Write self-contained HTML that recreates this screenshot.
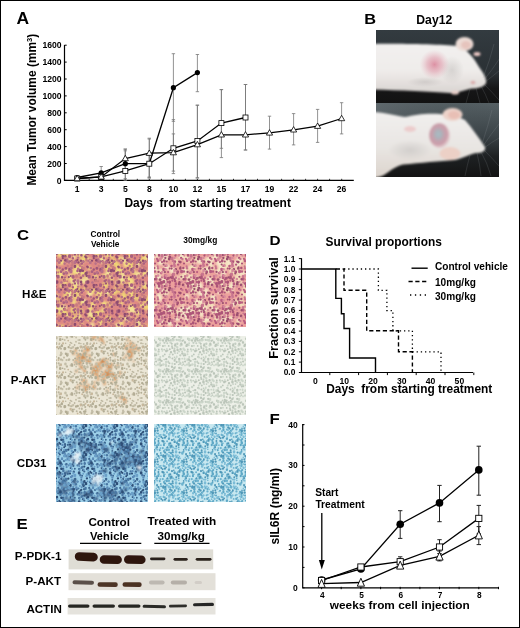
<!DOCTYPE html>
<html><head><meta charset="utf-8"><style>
html,body{margin:0;padding:0;background:#fff;}
svg{display:block;font-family:"Liberation Sans", sans-serif;will-change:transform;}
</style></head><body>
<svg width="520" height="628" viewBox="0 0 520 628">
<defs><clipPath id="cp1"><rect x="376" y="30" width="123" height="73"/></clipPath><clipPath id="cp2"><rect x="376" y="103" width="123" height="74"/></clipPath><linearGradient id="bg1" x1="0" y1="0" x2="0" y2="1"><stop offset="0" stop-color="#333b40"/><stop offset="0.6" stop-color="#2a3034"/><stop offset="0.8" stop-color="#161617"/><stop offset="1" stop-color="#121212"/></linearGradient><linearGradient id="bg2" x1="0" y1="0" x2="0" y2="1"><stop offset="0" stop-color="#566064"/><stop offset="0.45" stop-color="#3a4246"/><stop offset="0.72" stop-color="#1e2123"/><stop offset="1" stop-color="#131313"/></linearGradient><linearGradient id="body1" x1="0" y1="0" x2="0" y2="1"><stop offset="0" stop-color="#f2f0ef"/><stop offset="0.55" stop-color="#efecea"/><stop offset="1" stop-color="#d9d4d1"/></linearGradient><linearGradient id="body2" x1="0" y1="0" x2="0" y2="1"><stop offset="0" stop-color="#f1efee"/><stop offset="0.55" stop-color="#e8e5e2"/><stop offset="1" stop-color="#dcd4cc"/></linearGradient><linearGradient id="bg2h" x1="0" y1="0" x2="1" y2="0"><stop offset="0" stop-color="#6a7378" stop-opacity="0.5"/><stop offset="1" stop-color="#3a4448" stop-opacity="0"/></linearGradient><radialGradient id="pink1"><stop offset="0" stop-color="#d87a92" stop-opacity="0.8"/><stop offset="0.5" stop-color="#de92a4" stop-opacity="0.5"/><stop offset="1" stop-color="#e6b4c0" stop-opacity="0"/></radialGradient><radialGradient id="tum" cx="0.45" cy="0.45"><stop offset="0" stop-color="#aabcc4"/><stop offset="0.3" stop-color="#acb2ba"/><stop offset="0.55" stop-color="#c4a2ae"/><stop offset="0.85" stop-color="#cc9eaa"/><stop offset="1" stop-color="#e0c6ca"/></radialGradient><radialGradient id="shade"><stop offset="0" stop-color="#b8b4b2" stop-opacity="0.45"/><stop offset="1" stop-color="#b8b4b2" stop-opacity="0"/></radialGradient><filter id="bl2" x="-10%" y="-10%" width="120%" height="120%"><feGaussianBlur stdDeviation="1.1"/></filter><clipPath id="cc1"><rect x="56" y="254" width="92" height="73"/></clipPath><clipPath id="cc2"><rect x="154" y="254" width="92" height="73"/></clipPath><clipPath id="cc3"><rect x="56" y="336" width="92" height="79"/></clipPath><clipPath id="cc4"><rect x="154" y="336" width="92" height="79"/></clipPath><clipPath id="cc5"><rect x="56" y="424" width="92" height="78"/></clipPath><clipPath id="cc6"><rect x="154" y="424" width="92" height="78"/></clipPath><filter id="bl04" x="-5%" y="-5%" width="110%" height="110%"><feGaussianBlur stdDeviation="0.45"/></filter><filter id="bl06" x="-5%" y="-5%" width="110%" height="110%"><feGaussianBlur stdDeviation="0.8"/></filter><filter id="bl1" x="-20%" y="-50%" width="140%" height="200%"><feGaussianBlur stdDeviation="0.7"/></filter><filter id="he1" x="0" y="0" width="100%" height="100%" color-interpolation-filters="sRGB"><feFlood flood-color="rgb(228, 166, 152)" result="base"/><feTurbulence type="fractalNoise" baseFrequency="0.34" numOctaves="2" seed="3" result="n"/><feColorMatrix in="n" type="matrix" values="0 0 0 0 0.690 0 0 0 0 0.424 0 0 0 0 0.529 4.0 0 0 0 -1.85" result="nuc"/><feTurbulence type="fractalNoise" baseFrequency="0.11" numOctaves="2" seed="7" result="pn"/><feColorMatrix in="pn" type="matrix" values="0 0 0 0 0.953 0 0 0 0 0.886 0 0 0 0 0.627 5 0 0 0 -2.45" result="pat"/><feComposite in="pat" in2="base" operator="over" result="base2"/><feComposite in="nuc" in2="base2" operator="over"/></filter><filter id="he2" x="0" y="0" width="100%" height="100%" color-interpolation-filters="sRGB"><feFlood flood-color="rgb(241, 200, 192)" result="base"/><feTurbulence type="fractalNoise" baseFrequency="0.34" numOctaves="2" seed="5" result="n"/><feColorMatrix in="n" type="matrix" values="0 0 0 0 0.776 0 0 0 0 0.424 0 0 0 0 0.518 4.0 0 0 0 -1.8" result="nuc"/><feTurbulence type="fractalNoise" baseFrequency="0.1" numOctaves="2" seed="9" result="pn"/><feColorMatrix in="pn" type="matrix" values="0 0 0 0 0.969 0 0 0 0 0.918 0 0 0 0 0.816 5 0 0 0 -2.5" result="pat"/><feComposite in="pat" in2="base" operator="over" result="base2"/><feComposite in="nuc" in2="base2" operator="over"/></filter><filter id="ak1" x="0" y="0" width="100%" height="100%" color-interpolation-filters="sRGB"><feFlood flood-color="rgb(237, 234, 220)" result="base"/><feTurbulence type="fractalNoise" baseFrequency="0.34" numOctaves="2" seed="11" result="n"/><feColorMatrix in="n" type="matrix" values="0 0 0 0 0.745 0 0 0 0 0.737 0 0 0 0 0.659 4.0 0 0 0 -1.85" result="nuc"/><feTurbulence type="fractalNoise" baseFrequency="0.07" numOctaves="2" seed="13" result="pn"/><feColorMatrix in="pn" type="matrix" values="0 0 0 0 0.839 0 0 0 0 0.659 0 0 0 0 0.471 6 0 0 0 -3.3" result="pat"/><feComposite in="pat" in2="base" operator="over" result="base2"/><feComposite in="nuc" in2="base2" operator="over"/></filter><filter id="ak2" x="0" y="0" width="100%" height="100%" color-interpolation-filters="sRGB"><feFlood flood-color="rgb(237, 241, 233)" result="base"/><feTurbulence type="fractalNoise" baseFrequency="0.34" numOctaves="2" seed="15" result="n"/><feColorMatrix in="n" type="matrix" values="0 0 0 0 0.769 0 0 0 0 0.804 0 0 0 0 0.765 4.0 0 0 0 -1.85" result="nuc"/><feComposite in="nuc" in2="base" operator="over"/></filter><filter id="cd1" x="0" y="0" width="100%" height="100%" color-interpolation-filters="sRGB"><feFlood flood-color="rgb(192, 226, 241)" result="base"/><feTurbulence type="fractalNoise" baseFrequency="0.34" numOctaves="2" seed="17" result="n"/><feColorMatrix in="n" type="matrix" values="0 0 0 0 0.282 0 0 0 0 0.431 0 0 0 0 0.580 4.0 0 0 0 -1.75" result="nuc"/><feTurbulence type="fractalNoise" baseFrequency="0.1" numOctaves="2" seed="19" result="pn"/><feColorMatrix in="pn" type="matrix" values="0 0 0 0 0.941 0 0 0 0 0.965 0 0 0 0 0.980 5 0 0 0 -3.0" result="pat"/><feComposite in="pat" in2="base" operator="over" result="base2"/><feComposite in="nuc" in2="base2" operator="over"/></filter><filter id="cd2" x="0" y="0" width="100%" height="100%" color-interpolation-filters="sRGB"><feFlood flood-color="rgb(208, 236, 243)" result="base"/><feTurbulence type="fractalNoise" baseFrequency="0.34" numOctaves="2" seed="21" result="n"/><feColorMatrix in="n" type="matrix" values="0 0 0 0 0.502 0 0 0 0 0.714 0 0 0 0 0.800 4.0 0 0 0 -1.85" result="nuc"/><feComposite in="nuc" in2="base" operator="over"/></filter><pattern id="phe1" width="31" height="29" patternUnits="userSpaceOnUse"><path fill="#9c5478" d="M24.6 6.2a1.2 1.2 0 1 0 2.4 0a1.2 1.2 0 1 0 -2.4 0M-0.5 8.6a1.2 1.2 0 1 0 2.5 0a1.2 1.2 0 1 0 -2.5 0M30.5 8.6a1.2 1.2 0 1 0 2.5 0a1.2 1.2 0 1 0 -2.5 0M2.4 7.2a1.5 1.5 0 1 0 3.0 0a1.5 1.5 0 1 0 -3.0 0M6.3 8.7a1.5 1.5 0 1 0 2.9 0a1.5 1.5 0 1 0 -2.9 0M18.9 8.1a1.1 1.1 0 1 0 2.2 0a1.1 1.1 0 1 0 -2.2 0M22.4 12.7a1.2 1.2 0 1 0 2.3 0a1.2 1.2 0 1 0 -2.3 0M7.7 15.1a1.0 1.0 0 1 0 2.0 0a1.0 1.0 0 1 0 -2.0 0M17.6 16.8a1.3 1.3 0 1 0 2.6 0a1.3 1.3 0 1 0 -2.6 0M0.8 19.1a1.5 1.5 0 1 0 3.0 0a1.5 1.5 0 1 0 -3.0 0M11.7 22.4a1.2 1.2 0 1 0 2.4 0a1.2 1.2 0 1 0 -2.4 0M18.1 23.2a1.3 1.3 0 1 0 2.6 0a1.3 1.3 0 1 0 -2.6 0M6.3 0.2a1.0 1.0 0 1 0 2.1 0a1.0 1.0 0 1 0 -2.1 0M6.3 29.2a1.0 1.0 0 1 0 2.1 0a1.0 1.0 0 1 0 -2.1 0M8.3 0.2a1.2 1.2 0 1 0 2.4 0a1.2 1.2 0 1 0 -2.4 0M8.3 29.2a1.2 1.2 0 1 0 2.4 0a1.2 1.2 0 1 0 -2.4 0M20.1 0.5a1.2 1.2 0 1 0 2.4 0a1.2 1.2 0 1 0 -2.4 0M20.1 29.5a1.2 1.2 0 1 0 2.4 0a1.2 1.2 0 1 0 -2.4 0"/><path fill="#aa6080" d="M3.9 0.2a1.3 1.3 0 1 0 2.5 0a1.3 1.3 0 1 0 -2.5 0M3.9 29.2a1.3 1.3 0 1 0 2.5 0a1.3 1.3 0 1 0 -2.5 0M18.3 2.6a1.4 1.4 0 1 0 2.8 0a1.4 1.4 0 1 0 -2.8 0M14.2 9.9a1.3 1.3 0 1 0 2.6 0a1.3 1.3 0 1 0 -2.6 0M-2.4 10.7a1.4 1.4 0 1 0 2.8 0a1.4 1.4 0 1 0 -2.8 0M28.6 10.7a1.4 1.4 0 1 0 2.8 0a1.4 1.4 0 1 0 -2.8 0M0.4 12.7a1.3 1.3 0 1 0 2.7 0a1.3 1.3 0 1 0 -2.7 0M3.2 12.2a1.4 1.4 0 1 0 2.8 0a1.4 1.4 0 1 0 -2.8 0M2.0 16.6a1.0 1.0 0 1 0 2.0 0a1.0 1.0 0 1 0 -2.0 0M9.6 15.8a1.5 1.5 0 1 0 2.9 0a1.5 1.5 0 1 0 -2.9 0M25.7 15.7a1.5 1.5 0 1 0 2.9 0a1.5 1.5 0 1 0 -2.9 0M12.0 19.0a1.1 1.1 0 1 0 2.2 0a1.1 1.1 0 1 0 -2.2 0M10.4 20.1a1.5 1.5 0 1 0 3.0 0a1.5 1.5 0 1 0 -3.0 0M23.3 21.4a1.5 1.5 0 1 0 2.9 0a1.5 1.5 0 1 0 -2.9 0M6.1 24.1a1.5 1.5 0 1 0 2.9 0a1.5 1.5 0 1 0 -2.9 0M9.7 26.2a1.2 1.2 0 1 0 2.4 0a1.2 1.2 0 1 0 -2.4 0M12.7 0.4a1.3 1.3 0 1 0 2.5 0a1.3 1.3 0 1 0 -2.5 0M12.7 29.4a1.3 1.3 0 1 0 2.5 0a1.3 1.3 0 1 0 -2.5 0"/><path fill="#b87088" d="M19.8 0.6a1.4 1.4 0 1 0 2.8 0a1.4 1.4 0 1 0 -2.8 0M19.8 29.6a1.4 1.4 0 1 0 2.8 0a1.4 1.4 0 1 0 -2.8 0M25.0 -0.2a1.2 1.2 0 1 0 2.4 0a1.2 1.2 0 1 0 -2.4 0M25.0 28.8a1.2 1.2 0 1 0 2.4 0a1.2 1.2 0 1 0 -2.4 0M1.3 2.6a1.3 1.3 0 1 0 2.6 0a1.3 1.3 0 1 0 -2.6 0M5.8 1.5a1.2 1.2 0 1 0 2.4 0a1.2 1.2 0 1 0 -2.4 0M11.5 1.6a1.3 1.3 0 1 0 2.5 0a1.3 1.3 0 1 0 -2.5 0M26.8 1.5a1.5 1.5 0 1 0 3.0 0a1.5 1.5 0 1 0 -3.0 0M26.8 30.5a1.5 1.5 0 1 0 3.0 0a1.5 1.5 0 1 0 -3.0 0M7.9 7.1a1.4 1.4 0 1 0 2.9 0a1.4 1.4 0 1 0 -2.9 0M14.8 7.9a1.4 1.4 0 1 0 2.8 0a1.4 1.4 0 1 0 -2.8 0M27.4 7.0a1.3 1.3 0 1 0 2.7 0a1.3 1.3 0 1 0 -2.7 0M2.7 11.4a1.3 1.3 0 1 0 2.7 0a1.3 1.3 0 1 0 -2.7 0M7.5 10.3a1.5 1.5 0 1 0 2.9 0a1.5 1.5 0 1 0 -2.9 0M24.0 11.0a1.1 1.1 0 1 0 2.2 0a1.1 1.1 0 1 0 -2.2 0M19.8 14.7a1.4 1.4 0 1 0 2.8 0a1.4 1.4 0 1 0 -2.8 0M14.5 20.1a1.5 1.5 0 1 0 2.9 0a1.5 1.5 0 1 0 -2.9 0M-1.9 21.5a1.3 1.3 0 1 0 2.6 0a1.3 1.3 0 1 0 -2.6 0M29.1 21.5a1.3 1.3 0 1 0 2.6 0a1.3 1.3 0 1 0 -2.6 0M15.0 22.5a1.2 1.2 0 1 0 2.4 0a1.2 1.2 0 1 0 -2.4 0M15.0 25.7a1.1 1.1 0 1 0 2.3 0a1.1 1.1 0 1 0 -2.3 0M3.9 -1.0a1.3 1.3 0 1 0 2.5 0a1.3 1.3 0 1 0 -2.5 0M3.9 28.0a1.3 1.3 0 1 0 2.5 0a1.3 1.3 0 1 0 -2.5 0"/><path fill="#8e4c70" d="M-2.2 -0.4a1.1 1.1 0 1 0 2.3 0a1.1 1.1 0 1 0 -2.3 0M-2.2 28.6a1.1 1.1 0 1 0 2.3 0a1.1 1.1 0 1 0 -2.3 0M28.8 -0.4a1.1 1.1 0 1 0 2.3 0a1.1 1.1 0 1 0 -2.3 0M28.8 28.6a1.1 1.1 0 1 0 2.3 0a1.1 1.1 0 1 0 -2.3 0M2.0 -0.6a1.3 1.3 0 1 0 2.6 0a1.3 1.3 0 1 0 -2.6 0M2.0 28.4a1.3 1.3 0 1 0 2.6 0a1.3 1.3 0 1 0 -2.6 0M14.4 27.9a1.0 1.0 0 1 0 2.1 0a1.0 1.0 0 1 0 -2.1 0M15.2 1.4a1.2 1.2 0 1 0 2.5 0a1.2 1.2 0 1 0 -2.5 0M11.7 5.3a1.3 1.3 0 1 0 2.5 0a1.3 1.3 0 1 0 -2.5 0M24.1 5.6a1.1 1.1 0 1 0 2.2 0a1.1 1.1 0 1 0 -2.2 0M16.9 9.8a1.4 1.4 0 1 0 2.7 0a1.4 1.4 0 1 0 -2.7 0M19.7 9.4a1.2 1.2 0 1 0 2.3 0a1.2 1.2 0 1 0 -2.3 0M23.0 12.2a1.4 1.4 0 1 0 2.8 0a1.4 1.4 0 1 0 -2.8 0M5.8 16.1a1.0 1.0 0 1 0 2.1 0a1.0 1.0 0 1 0 -2.1 0M23.4 14.7a1.2 1.2 0 1 0 2.5 0a1.2 1.2 0 1 0 -2.5 0M-1.2 16.3a1.3 1.3 0 1 0 2.6 0a1.3 1.3 0 1 0 -2.6 0M29.8 16.3a1.3 1.3 0 1 0 2.6 0a1.3 1.3 0 1 0 -2.6 0M17.7 20.9a1.3 1.3 0 1 0 2.7 0a1.3 1.3 0 1 0 -2.7 0M24.8 21.0a1.3 1.3 0 1 0 2.5 0a1.3 1.3 0 1 0 -2.5 0M-0.5 24.2a1.5 1.5 0 1 0 3.0 0a1.5 1.5 0 1 0 -3.0 0M30.5 24.2a1.5 1.5 0 1 0 3.0 0a1.5 1.5 0 1 0 -3.0 0M2.2 24.2a1.2 1.2 0 1 0 2.4 0a1.2 1.2 0 1 0 -2.4 0M22.1 24.5a1.2 1.2 0 1 0 2.5 0a1.2 1.2 0 1 0 -2.5 0M-0.3 26.1a1.2 1.2 0 1 0 2.4 0a1.2 1.2 0 1 0 -2.4 0M30.7 26.1a1.2 1.2 0 1 0 2.4 0a1.2 1.2 0 1 0 -2.4 0M22.9 25.5a1.3 1.3 0 1 0 2.7 0a1.3 1.3 0 1 0 -2.7 0M17.7 -0.2a1.2 1.2 0 1 0 2.5 0a1.2 1.2 0 1 0 -2.5 0M17.7 28.8a1.2 1.2 0 1 0 2.5 0a1.2 1.2 0 1 0 -2.5 0"/><path fill="#c87c80" d="M8.9 1.0a1.1 1.1 0 1 0 2.1 0a1.1 1.1 0 1 0 -2.1 0M8.9 30.0a1.1 1.1 0 1 0 2.1 0a1.1 1.1 0 1 0 -2.1 0M9.5 2.7a1.2 1.2 0 1 0 2.4 0a1.2 1.2 0 1 0 -2.4 0M4.7 5.1a1.1 1.1 0 1 0 2.1 0a1.1 1.1 0 1 0 -2.1 0M8.6 4.6a1.3 1.3 0 1 0 2.6 0a1.3 1.3 0 1 0 -2.6 0M16.8 4.4a1.3 1.3 0 1 0 2.5 0a1.3 1.3 0 1 0 -2.5 0M19.0 6.1a1.1 1.1 0 1 0 2.1 0a1.1 1.1 0 1 0 -2.1 0M20.2 7.4a1.3 1.3 0 1 0 2.5 0a1.3 1.3 0 1 0 -2.5 0M26.1 11.4a1.1 1.1 0 1 0 2.2 0a1.1 1.1 0 1 0 -2.2 0M15.8 13.3a1.4 1.4 0 1 0 2.9 0a1.4 1.4 0 1 0 -2.9 0M13.3 15.0a1.3 1.3 0 1 0 2.5 0a1.3 1.3 0 1 0 -2.5 0M1.3 19.8a1.4 1.4 0 1 0 2.9 0a1.4 1.4 0 1 0 -2.9 0M4.1 20.3a1.0 1.0 0 1 0 2.0 0a1.0 1.0 0 1 0 -2.0 0M9.3 23.6a1.1 1.1 0 1 0 2.2 0a1.1 1.1 0 1 0 -2.2 0M1.6 25.7a1.3 1.3 0 1 0 2.6 0a1.3 1.3 0 1 0 -2.6 0M23.3 -0.9a1.1 1.1 0 1 0 2.1 0a1.1 1.1 0 1 0 -2.1 0M23.3 28.1a1.1 1.1 0 1 0 2.1 0a1.1 1.1 0 1 0 -2.1 0M26.8 27.6a1.1 1.1 0 1 0 2.2 0a1.1 1.1 0 1 0 -2.2 0"/></pattern><pattern id="phe2" width="29" height="31" patternUnits="userSpaceOnUse"><path fill="#b85c80" d="M9.8 -0.1a1.4 1.4 0 1 0 2.7 0a1.4 1.4 0 1 0 -2.7 0M9.8 30.9a1.4 1.4 0 1 0 2.7 0a1.4 1.4 0 1 0 -2.7 0M21.4 3.0a1.2 1.2 0 1 0 2.4 0a1.2 1.2 0 1 0 -2.4 0M26.3 1.7a1.1 1.1 0 1 0 2.2 0a1.1 1.1 0 1 0 -2.2 0M0.7 4.9a1.3 1.3 0 1 0 2.5 0a1.3 1.3 0 1 0 -2.5 0M12.5 4.5a1.5 1.5 0 1 0 3.0 0a1.5 1.5 0 1 0 -3.0 0M23.7 6.3a1.1 1.1 0 1 0 2.2 0a1.1 1.1 0 1 0 -2.2 0M10.8 10.8a1.1 1.1 0 1 0 2.2 0a1.1 1.1 0 1 0 -2.2 0M11.6 12.7a1.4 1.4 0 1 0 2.9 0a1.4 1.4 0 1 0 -2.9 0M2.9 16.6a1.2 1.2 0 1 0 2.4 0a1.2 1.2 0 1 0 -2.4 0M19.3 17.9a1.2 1.2 0 1 0 2.4 0a1.2 1.2 0 1 0 -2.4 0M25.2 18.0a1.3 1.3 0 1 0 2.7 0a1.3 1.3 0 1 0 -2.7 0M17.3 21.4a1.4 1.4 0 1 0 2.7 0a1.4 1.4 0 1 0 -2.7 0M6.2 23.5a1.4 1.4 0 1 0 2.7 0a1.4 1.4 0 1 0 -2.7 0M8.7 23.4a1.2 1.2 0 1 0 2.5 0a1.2 1.2 0 1 0 -2.5 0M22.0 24.1a1.1 1.1 0 1 0 2.2 0a1.1 1.1 0 1 0 -2.2 0M18.7 29.2a1.5 1.5 0 1 0 2.9 0a1.5 1.5 0 1 0 -2.9 0"/><path fill="#ac5478" d="M20.8 0.6a1.1 1.1 0 1 0 2.3 0a1.1 1.1 0 1 0 -2.3 0M20.8 31.6a1.1 1.1 0 1 0 2.3 0a1.1 1.1 0 1 0 -2.3 0M21.9 -0.7a1.4 1.4 0 1 0 2.9 0a1.4 1.4 0 1 0 -2.9 0M21.9 30.3a1.4 1.4 0 1 0 2.9 0a1.4 1.4 0 1 0 -2.9 0M-0.1 2.1a1.2 1.2 0 1 0 2.5 0a1.2 1.2 0 1 0 -2.5 0M28.9 2.1a1.2 1.2 0 1 0 2.5 0a1.2 1.2 0 1 0 -2.5 0M14.8 3.8a1.5 1.5 0 1 0 2.9 0a1.5 1.5 0 1 0 -2.9 0M17.5 2.8a1.4 1.4 0 1 0 2.7 0a1.4 1.4 0 1 0 -2.7 0M23.3 3.2a1.4 1.4 0 1 0 2.7 0a1.4 1.4 0 1 0 -2.7 0M11.8 4.4a1.2 1.2 0 1 0 2.5 0a1.2 1.2 0 1 0 -2.5 0M0.3 7.6a1.1 1.1 0 1 0 2.3 0a1.1 1.1 0 1 0 -2.3 0M12.9 7.1a1.2 1.2 0 1 0 2.3 0a1.2 1.2 0 1 0 -2.3 0M6.0 9.9a1.1 1.1 0 1 0 2.2 0a1.1 1.1 0 1 0 -2.2 0M-0.6 13.8a1.4 1.4 0 1 0 2.9 0a1.4 1.4 0 1 0 -2.9 0M28.4 13.8a1.4 1.4 0 1 0 2.9 0a1.4 1.4 0 1 0 -2.9 0M3.9 13.6a1.1 1.1 0 1 0 2.3 0a1.1 1.1 0 1 0 -2.3 0M15.9 14.0a1.1 1.1 0 1 0 2.2 0a1.1 1.1 0 1 0 -2.2 0M17.9 12.9a1.3 1.3 0 1 0 2.5 0a1.3 1.3 0 1 0 -2.5 0M20.8 13.4a1.0 1.0 0 1 0 2.0 0a1.0 1.0 0 1 0 -2.0 0M8.9 15.5a1.1 1.1 0 1 0 2.2 0a1.1 1.1 0 1 0 -2.2 0M8.1 20.0a1.2 1.2 0 1 0 2.4 0a1.2 1.2 0 1 0 -2.4 0M23.7 20.4a1.0 1.0 0 1 0 2.0 0a1.0 1.0 0 1 0 -2.0 0M2.2 23.8a1.5 1.5 0 1 0 3.0 0a1.5 1.5 0 1 0 -3.0 0M-2.3 27.0a1.2 1.2 0 1 0 2.3 0a1.2 1.2 0 1 0 -2.3 0M26.7 27.0a1.2 1.2 0 1 0 2.3 0a1.2 1.2 0 1 0 -2.3 0M26.1 -1.4a1.4 1.4 0 1 0 2.7 0a1.4 1.4 0 1 0 -2.7 0M26.1 29.6a1.4 1.4 0 1 0 2.7 0a1.4 1.4 0 1 0 -2.7 0"/><path fill="#c8748e" d="M10.3 3.5a1.1 1.1 0 1 0 2.2 0a1.1 1.1 0 1 0 -2.2 0M15.6 8.0a1.5 1.5 0 1 0 2.9 0a1.5 1.5 0 1 0 -2.9 0M19.9 6.7a1.4 1.4 0 1 0 2.9 0a1.4 1.4 0 1 0 -2.9 0M7.2 11.0a1.2 1.2 0 1 0 2.4 0a1.2 1.2 0 1 0 -2.4 0M25.8 10.5a1.4 1.4 0 1 0 2.7 0a1.4 1.4 0 1 0 -2.7 0M-2.4 12.9a1.3 1.3 0 1 0 2.6 0a1.3 1.3 0 1 0 -2.6 0M26.6 12.9a1.3 1.3 0 1 0 2.6 0a1.3 1.3 0 1 0 -2.6 0M-0.7 15.2a1.1 1.1 0 1 0 2.1 0a1.1 1.1 0 1 0 -2.1 0M28.3 15.2a1.1 1.1 0 1 0 2.1 0a1.1 1.1 0 1 0 -2.1 0M-0.9 17.7a1.4 1.4 0 1 0 2.7 0a1.4 1.4 0 1 0 -2.7 0M28.1 17.7a1.4 1.4 0 1 0 2.7 0a1.4 1.4 0 1 0 -2.7 0M11.6 18.3a1.1 1.1 0 1 0 2.2 0a1.1 1.1 0 1 0 -2.2 0M11.8 20.3a1.2 1.2 0 1 0 2.5 0a1.2 1.2 0 1 0 -2.5 0M-1.8 26.3a1.4 1.4 0 1 0 2.7 0a1.4 1.4 0 1 0 -2.7 0M27.2 26.3a1.4 1.4 0 1 0 2.7 0a1.4 1.4 0 1 0 -2.7 0M14.7 25.1a1.4 1.4 0 1 0 2.9 0a1.4 1.4 0 1 0 -2.9 0M18.9 27.2a1.3 1.3 0 1 0 2.6 0a1.3 1.3 0 1 0 -2.6 0M0.8 -1.2a1.2 1.2 0 1 0 2.4 0a1.2 1.2 0 1 0 -2.4 0M0.8 29.8a1.2 1.2 0 1 0 2.4 0a1.2 1.2 0 1 0 -2.4 0M9.8 28.2a1.3 1.3 0 1 0 2.6 0a1.3 1.3 0 1 0 -2.6 0M15.8 29.4a1.1 1.1 0 1 0 2.2 0a1.1 1.1 0 1 0 -2.2 0"/><path fill="#9c5070" d="M-0.5 0.3a1.1 1.1 0 1 0 2.2 0a1.1 1.1 0 1 0 -2.2 0M-0.5 31.3a1.1 1.1 0 1 0 2.2 0a1.1 1.1 0 1 0 -2.2 0M28.5 0.3a1.1 1.1 0 1 0 2.2 0a1.1 1.1 0 1 0 -2.2 0M28.5 31.3a1.1 1.1 0 1 0 2.2 0a1.1 1.1 0 1 0 -2.2 0M8.4 0.3a1.2 1.2 0 1 0 2.4 0a1.2 1.2 0 1 0 -2.4 0M8.4 31.3a1.2 1.2 0 1 0 2.4 0a1.2 1.2 0 1 0 -2.4 0M13.6 0.6a1.4 1.4 0 1 0 2.9 0a1.4 1.4 0 1 0 -2.9 0M13.6 31.6a1.4 1.4 0 1 0 2.9 0a1.4 1.4 0 1 0 -2.9 0M4.2 3.3a1.4 1.4 0 1 0 2.8 0a1.4 1.4 0 1 0 -2.8 0M4.0 5.1a1.3 1.3 0 1 0 2.5 0a1.3 1.3 0 1 0 -2.5 0M7.7 5.9a1.3 1.3 0 1 0 2.7 0a1.3 1.3 0 1 0 -2.7 0M18.7 7.1a1.1 1.1 0 1 0 2.2 0a1.1 1.1 0 1 0 -2.2 0M23.3 8.9a1.5 1.5 0 1 0 3.0 0a1.5 1.5 0 1 0 -3.0 0M19.2 10.0a1.1 1.1 0 1 0 2.3 0a1.1 1.1 0 1 0 -2.3 0M22.8 11.1a1.4 1.4 0 1 0 2.8 0a1.4 1.4 0 1 0 -2.8 0M4.9 14.1a1.4 1.4 0 1 0 2.8 0a1.4 1.4 0 1 0 -2.8 0M17.6 16.5a1.0 1.0 0 1 0 2.1 0a1.0 1.0 0 1 0 -2.1 0M5.5 19.2a1.0 1.0 0 1 0 2.0 0a1.0 1.0 0 1 0 -2.0 0M0.6 21.3a1.3 1.3 0 1 0 2.6 0a1.3 1.3 0 1 0 -2.6 0M5.0 20.4a1.3 1.3 0 1 0 2.6 0a1.3 1.3 0 1 0 -2.6 0M25.5 20.6a1.1 1.1 0 1 0 2.2 0a1.1 1.1 0 1 0 -2.2 0M12.4 23.9a1.1 1.1 0 1 0 2.3 0a1.1 1.1 0 1 0 -2.3 0M18.8 24.1a1.1 1.1 0 1 0 2.2 0a1.1 1.1 0 1 0 -2.2 0M2.2 25.5a1.1 1.1 0 1 0 2.2 0a1.1 1.1 0 1 0 -2.2 0M6.3 28.7a1.0 1.0 0 1 0 2.1 0a1.0 1.0 0 1 0 -2.1 0M24.3 29.4a1.1 1.1 0 1 0 2.3 0a1.1 1.1 0 1 0 -2.3 0"/><path fill="#d88c9c" d="M3.6 0.1a1.2 1.2 0 1 0 2.5 0a1.2 1.2 0 1 0 -2.5 0M3.6 31.1a1.2 1.2 0 1 0 2.5 0a1.2 1.2 0 1 0 -2.5 0M6.5 2.8a1.1 1.1 0 1 0 2.2 0a1.1 1.1 0 1 0 -2.2 0M20.0 5.2a1.4 1.4 0 1 0 2.9 0a1.4 1.4 0 1 0 -2.9 0M3.4 7.4a1.4 1.4 0 1 0 2.8 0a1.4 1.4 0 1 0 -2.8 0M9.2 7.6a1.0 1.0 0 1 0 2.1 0a1.0 1.0 0 1 0 -2.1 0M-0.7 10.0a1.2 1.2 0 1 0 2.4 0a1.2 1.2 0 1 0 -2.4 0M28.3 10.0a1.2 1.2 0 1 0 2.4 0a1.2 1.2 0 1 0 -2.4 0M13.8 11.3a1.5 1.5 0 1 0 2.9 0a1.5 1.5 0 1 0 -2.9 0M15.8 10.0a1.0 1.0 0 1 0 2.1 0a1.0 1.0 0 1 0 -2.1 0M20.3 16.8a1.1 1.1 0 1 0 2.2 0a1.1 1.1 0 1 0 -2.2 0M20.3 17.7a1.3 1.3 0 1 0 2.6 0a1.3 1.3 0 1 0 -2.6 0M-1.7 18.4a1.0 1.0 0 1 0 2.0 0a1.0 1.0 0 1 0 -2.0 0M27.3 18.4a1.0 1.0 0 1 0 2.0 0a1.0 1.0 0 1 0 -2.0 0M19.3 21.2a1.3 1.3 0 1 0 2.6 0a1.3 1.3 0 1 0 -2.6 0M-0.7 22.7a1.3 1.3 0 1 0 2.5 0a1.3 1.3 0 1 0 -2.5 0M28.3 22.7a1.3 1.3 0 1 0 2.5 0a1.3 1.3 0 1 0 -2.5 0M16.0 24.0a1.3 1.3 0 1 0 2.6 0a1.3 1.3 0 1 0 -2.6 0M11.7 27.6a1.4 1.4 0 1 0 2.8 0a1.4 1.4 0 1 0 -2.8 0M20.1 27.7a1.3 1.3 0 1 0 2.6 0a1.3 1.3 0 1 0 -2.6 0"/></pattern><pattern id="pak1" width="31" height="29" patternUnits="userSpaceOnUse"><path fill="#bcb6a0" d="M2.3 0.5a1.0 1.0 0 1 0 1.9 0a1.0 1.0 0 1 0 -1.9 0M2.3 29.5a1.0 1.0 0 1 0 1.9 0a1.0 1.0 0 1 0 -1.9 0M8.2 0.2a1.0 1.0 0 1 0 2.0 0a1.0 1.0 0 1 0 -2.0 0M8.2 29.2a1.0 1.0 0 1 0 2.0 0a1.0 1.0 0 1 0 -2.0 0M22.4 0.9a0.9 0.9 0 1 0 1.7 0a0.9 0.9 0 1 0 -1.7 0M25.0 -0.7a0.9 0.9 0 1 0 1.9 0a0.9 0.9 0 1 0 -1.9 0M25.0 28.3a0.9 0.9 0 1 0 1.9 0a0.9 0.9 0 1 0 -1.9 0M27.8 -0.8a1.1 1.1 0 1 0 2.2 0a1.1 1.1 0 1 0 -2.2 0M27.8 28.2a1.1 1.1 0 1 0 2.2 0a1.1 1.1 0 1 0 -2.2 0M16.5 2.5a0.9 0.9 0 1 0 1.8 0a0.9 0.9 0 1 0 -1.8 0M19.0 2.7a0.9 0.9 0 1 0 1.7 0a0.9 0.9 0 1 0 -1.7 0M-1.6 5.7a1.1 1.1 0 1 0 2.2 0a1.1 1.1 0 1 0 -2.2 0M29.4 5.7a1.1 1.1 0 1 0 2.2 0a1.1 1.1 0 1 0 -2.2 0M13.7 5.2a1.0 1.0 0 1 0 2.0 0a1.0 1.0 0 1 0 -2.0 0M18.4 7.3a1.0 1.0 0 1 0 2.0 0a1.0 1.0 0 1 0 -2.0 0M21.4 7.5a1.2 1.2 0 1 0 2.4 0a1.2 1.2 0 1 0 -2.4 0M28.5 7.2a1.1 1.1 0 1 0 2.3 0a1.1 1.1 0 1 0 -2.3 0M-2.0 11.4a1.1 1.1 0 1 0 2.2 0a1.1 1.1 0 1 0 -2.2 0M29.0 11.4a1.1 1.1 0 1 0 2.2 0a1.1 1.1 0 1 0 -2.2 0M6.0 11.5a1.2 1.2 0 1 0 2.4 0a1.2 1.2 0 1 0 -2.4 0M-2.2 11.6a1.1 1.1 0 1 0 2.2 0a1.1 1.1 0 1 0 -2.2 0M28.8 11.6a1.1 1.1 0 1 0 2.2 0a1.1 1.1 0 1 0 -2.2 0M5.5 11.9a1.1 1.1 0 1 0 2.3 0a1.1 1.1 0 1 0 -2.3 0M10.2 12.1a1.0 1.0 0 1 0 2.0 0a1.0 1.0 0 1 0 -2.0 0M16.7 12.2a0.9 0.9 0 1 0 1.7 0a0.9 0.9 0 1 0 -1.7 0M8.6 16.1a1.2 1.2 0 1 0 2.4 0a1.2 1.2 0 1 0 -2.4 0M11.7 16.7a0.8 0.8 0 1 0 1.7 0a0.8 0.8 0 1 0 -1.7 0M13.8 15.6a1.0 1.0 0 1 0 1.9 0a1.0 1.0 0 1 0 -1.9 0M23.8 15.3a1.1 1.1 0 1 0 2.1 0a1.1 1.1 0 1 0 -2.1 0M26.6 15.4a1.1 1.1 0 1 0 2.2 0a1.1 1.1 0 1 0 -2.2 0M3.7 18.4a1.2 1.2 0 1 0 2.4 0a1.2 1.2 0 1 0 -2.4 0M21.3 18.9a1.2 1.2 0 1 0 2.3 0a1.2 1.2 0 1 0 -2.3 0M15.4 21.1a0.8 0.8 0 1 0 1.6 0a0.8 0.8 0 1 0 -1.6 0M16.9 21.0a0.9 0.9 0 1 0 1.8 0a0.9 0.9 0 1 0 -1.8 0M2.9 24.3a0.8 0.8 0 1 0 1.6 0a0.8 0.8 0 1 0 -1.6 0M7.6 23.6a0.9 0.9 0 1 0 1.8 0a0.9 0.9 0 1 0 -1.8 0M8.9 24.2a0.8 0.8 0 1 0 1.6 0a0.8 0.8 0 1 0 -1.6 0M16.1 24.3a0.9 0.9 0 1 0 1.9 0a0.9 0.9 0 1 0 -1.9 0M24.1 24.5a1.1 1.1 0 1 0 2.1 0a1.1 1.1 0 1 0 -2.1 0M-1.2 26.8a1.1 1.1 0 1 0 2.1 0a1.1 1.1 0 1 0 -2.1 0M29.8 26.8a1.1 1.1 0 1 0 2.1 0a1.1 1.1 0 1 0 -2.1 0M11.7 26.0a0.9 0.9 0 1 0 1.8 0a0.9 0.9 0 1 0 -1.8 0M20.9 -1.1a1.2 1.2 0 1 0 2.4 0a1.2 1.2 0 1 0 -2.4 0M20.9 27.9a1.2 1.2 0 1 0 2.4 0a1.2 1.2 0 1 0 -2.4 0"/><path fill="#c4bea8" d="M10.6 28.0a0.9 0.9 0 1 0 1.8 0a0.9 0.9 0 1 0 -1.8 0M19.5 -0.2a0.9 0.9 0 1 0 1.9 0a0.9 0.9 0 1 0 -1.9 0M19.5 28.8a0.9 0.9 0 1 0 1.9 0a0.9 0.9 0 1 0 -1.9 0M11.6 3.4a0.8 0.8 0 1 0 1.6 0a0.8 0.8 0 1 0 -1.6 0M22.9 3.7a0.8 0.8 0 1 0 1.7 0a0.8 0.8 0 1 0 -1.7 0M4.4 6.4a1.2 1.2 0 1 0 2.3 0a1.2 1.2 0 1 0 -2.3 0M8.8 4.4a0.8 0.8 0 1 0 1.7 0a0.8 0.8 0 1 0 -1.7 0M-1.9 4.7a1.0 1.0 0 1 0 1.9 0a1.0 1.0 0 1 0 -1.9 0M29.1 4.7a1.0 1.0 0 1 0 1.9 0a1.0 1.0 0 1 0 -1.9 0M0.9 9.6a1.1 1.1 0 1 0 2.2 0a1.1 1.1 0 1 0 -2.2 0M-0.4 12.1a0.9 0.9 0 1 0 1.7 0a0.9 0.9 0 1 0 -1.7 0M30.6 12.1a0.9 0.9 0 1 0 1.7 0a0.9 0.9 0 1 0 -1.7 0M3.4 12.1a1.1 1.1 0 1 0 2.2 0a1.1 1.1 0 1 0 -2.2 0M12.5 13.9a1.2 1.2 0 1 0 2.5 0a1.2 1.2 0 1 0 -2.5 0M20.8 13.1a1.2 1.2 0 1 0 2.4 0a1.2 1.2 0 1 0 -2.4 0M2.3 16.0a1.2 1.2 0 1 0 2.3 0a1.2 1.2 0 1 0 -2.3 0M7.6 17.4a1.0 1.0 0 1 0 2.1 0a1.0 1.0 0 1 0 -2.1 0M13.2 18.5a0.9 0.9 0 1 0 1.8 0a0.9 0.9 0 1 0 -1.8 0M24.3 18.8a1.2 1.2 0 1 0 2.3 0a1.2 1.2 0 1 0 -2.3 0M27.6 17.4a1.0 1.0 0 1 0 2.1 0a1.0 1.0 0 1 0 -2.1 0M1.7 21.0a1.0 1.0 0 1 0 2.0 0a1.0 1.0 0 1 0 -2.0 0M13.0 22.8a1.0 1.0 0 1 0 2.0 0a1.0 1.0 0 1 0 -2.0 0M18.0 24.5a0.8 0.8 0 1 0 1.7 0a0.8 0.8 0 1 0 -1.7 0M27.6 24.3a0.9 0.9 0 1 0 1.8 0a0.9 0.9 0 1 0 -1.8 0M6.8 26.0a1.0 1.0 0 1 0 2.0 0a1.0 1.0 0 1 0 -2.0 0M17.5 27.2a0.8 0.8 0 1 0 1.6 0a0.8 0.8 0 1 0 -1.6 0M20.7 25.0a1.0 1.0 0 1 0 2.0 0a1.0 1.0 0 1 0 -2.0 0M7.4 0.1a0.8 0.8 0 1 0 1.7 0a0.8 0.8 0 1 0 -1.7 0M7.4 29.1a0.8 0.8 0 1 0 1.7 0a0.8 0.8 0 1 0 -1.7 0M9.3 -0.6a1.2 1.2 0 1 0 2.5 0a1.2 1.2 0 1 0 -2.5 0M9.3 28.4a1.2 1.2 0 1 0 2.5 0a1.2 1.2 0 1 0 -2.5 0"/><path fill="#b2ac94" d="M29.1 0.8a0.9 0.9 0 1 0 1.8 0a0.9 0.9 0 1 0 -1.8 0M29.1 29.8a0.9 0.9 0 1 0 1.8 0a0.9 0.9 0 1 0 -1.8 0M5.5 -0.9a1.1 1.1 0 1 0 2.3 0a1.1 1.1 0 1 0 -2.3 0M5.5 28.1a1.1 1.1 0 1 0 2.3 0a1.1 1.1 0 1 0 -2.3 0M10.1 3.6a0.9 0.9 0 1 0 1.7 0a0.9 0.9 0 1 0 -1.7 0M2.7 5.8a1.2 1.2 0 1 0 2.4 0a1.2 1.2 0 1 0 -2.4 0M9.7 5.5a1.1 1.1 0 1 0 2.2 0a1.1 1.1 0 1 0 -2.2 0M17.0 6.1a1.2 1.2 0 1 0 2.4 0a1.2 1.2 0 1 0 -2.4 0M21.0 5.7a1.1 1.1 0 1 0 2.2 0a1.1 1.1 0 1 0 -2.2 0M22.0 5.5a1.2 1.2 0 1 0 2.5 0a1.2 1.2 0 1 0 -2.5 0M4.0 7.5a1.2 1.2 0 1 0 2.4 0a1.2 1.2 0 1 0 -2.4 0M24.0 8.8a0.9 0.9 0 1 0 1.8 0a0.9 0.9 0 1 0 -1.8 0M12.1 10.6a1.0 1.0 0 1 0 2.0 0a1.0 1.0 0 1 0 -2.0 0M16.3 9.8a1.0 1.0 0 1 0 2.0 0a1.0 1.0 0 1 0 -2.0 0M26.9 10.2a0.9 0.9 0 1 0 1.7 0a0.9 0.9 0 1 0 -1.7 0M18.9 12.7a1.2 1.2 0 1 0 2.4 0a1.2 1.2 0 1 0 -2.4 0M24.3 12.3a0.8 0.8 0 1 0 1.6 0a0.8 0.8 0 1 0 -1.6 0M29.2 16.4a0.8 0.8 0 1 0 1.7 0a0.8 0.8 0 1 0 -1.7 0M16.3 15.8a1.0 1.0 0 1 0 2.0 0a1.0 1.0 0 1 0 -2.0 0M20.2 15.2a1.0 1.0 0 1 0 2.1 0a1.0 1.0 0 1 0 -2.1 0M9.1 17.4a1.1 1.1 0 1 0 2.1 0a1.1 1.1 0 1 0 -2.1 0M-0.1 20.3a0.8 0.8 0 1 0 1.6 0a0.8 0.8 0 1 0 -1.6 0M30.9 20.3a0.8 0.8 0 1 0 1.6 0a0.8 0.8 0 1 0 -1.6 0M22.5 20.7a0.9 0.9 0 1 0 1.9 0a0.9 0.9 0 1 0 -1.9 0M28.1 20.5a1.2 1.2 0 1 0 2.3 0a1.2 1.2 0 1 0 -2.3 0M-1.3 26.7a1.1 1.1 0 1 0 2.2 0a1.1 1.1 0 1 0 -2.2 0M29.7 26.7a1.1 1.1 0 1 0 2.2 0a1.1 1.1 0 1 0 -2.2 0M1.5 0.6a1.2 1.2 0 1 0 2.3 0a1.2 1.2 0 1 0 -2.3 0M1.5 29.6a1.2 1.2 0 1 0 2.3 0a1.2 1.2 0 1 0 -2.3 0M13.1 0.5a1.0 1.0 0 1 0 1.9 0a1.0 1.0 0 1 0 -1.9 0M13.1 29.5a1.0 1.0 0 1 0 1.9 0a1.0 1.0 0 1 0 -1.9 0M14.4 0.0a1.2 1.2 0 1 0 2.5 0a1.2 1.2 0 1 0 -2.5 0M14.4 29.0a1.2 1.2 0 1 0 2.5 0a1.2 1.2 0 1 0 -2.5 0M18.3 27.6a1.1 1.1 0 1 0 2.3 0a1.1 1.1 0 1 0 -2.3 0M26.8 0.6a0.9 0.9 0 1 0 1.8 0a0.9 0.9 0 1 0 -1.8 0M26.8 29.6a0.9 0.9 0 1 0 1.8 0a0.9 0.9 0 1 0 -1.8 0"/><path fill="#c8b89c" d="M17.8 -0.9a1.0 1.0 0 1 0 1.9 0a1.0 1.0 0 1 0 -1.9 0M17.8 28.1a1.0 1.0 0 1 0 1.9 0a1.0 1.0 0 1 0 -1.9 0M7.6 3.1a1.1 1.1 0 1 0 2.1 0a1.1 1.1 0 1 0 -2.1 0M14.7 7.4a0.9 0.9 0 1 0 1.8 0a0.9 0.9 0 1 0 -1.8 0M14.3 10.9a1.0 1.0 0 1 0 2.0 0a1.0 1.0 0 1 0 -2.0 0M21.2 11.2a0.8 0.8 0 1 0 1.6 0a0.8 0.8 0 1 0 -1.6 0M23.7 11.6a0.9 0.9 0 1 0 1.8 0a0.9 0.9 0 1 0 -1.8 0M26.5 12.0a1.0 1.0 0 1 0 2.0 0a1.0 1.0 0 1 0 -2.0 0M28.9 16.9a1.0 1.0 0 1 0 1.9 0a1.0 1.0 0 1 0 -1.9 0M19.2 17.3a1.0 1.0 0 1 0 2.0 0a1.0 1.0 0 1 0 -2.0 0M5.3 21.6a0.9 0.9 0 1 0 1.8 0a0.9 0.9 0 1 0 -1.8 0M-0.1 24.4a1.1 1.1 0 1 0 2.3 0a1.1 1.1 0 1 0 -2.3 0M30.9 24.4a1.1 1.1 0 1 0 2.3 0a1.1 1.1 0 1 0 -2.3 0M22.5 26.7a1.0 1.0 0 1 0 2.0 0a1.0 1.0 0 1 0 -2.0 0M27.3 25.3a0.8 0.8 0 1 0 1.6 0a0.8 0.8 0 1 0 -1.6 0M25.4 -0.9a1.1 1.1 0 1 0 2.2 0a1.1 1.1 0 1 0 -2.2 0M25.4 28.1a1.1 1.1 0 1 0 2.2 0a1.1 1.1 0 1 0 -2.2 0"/></pattern><pattern id="pak2" width="29" height="31" patternUnits="userSpaceOnUse"><path fill="#c4cec2" d="M8.5 -0.8a0.9 0.9 0 1 0 1.9 0a0.9 0.9 0 1 0 -1.9 0M8.5 30.2a0.9 0.9 0 1 0 1.9 0a0.9 0.9 0 1 0 -1.9 0M14.1 -0.8a1.1 1.1 0 1 0 2.3 0a1.1 1.1 0 1 0 -2.3 0M14.1 30.2a1.1 1.1 0 1 0 2.3 0a1.1 1.1 0 1 0 -2.3 0M20.0 0.1a1.2 1.2 0 1 0 2.5 0a1.2 1.2 0 1 0 -2.5 0M20.0 31.1a1.2 1.2 0 1 0 2.5 0a1.2 1.2 0 1 0 -2.5 0M2.1 2.8a1.2 1.2 0 1 0 2.4 0a1.2 1.2 0 1 0 -2.4 0M18.3 1.8a1.1 1.1 0 1 0 2.3 0a1.1 1.1 0 1 0 -2.3 0M21.3 2.3a1.0 1.0 0 1 0 2.0 0a1.0 1.0 0 1 0 -2.0 0M6.4 4.0a1.1 1.1 0 1 0 2.3 0a1.1 1.1 0 1 0 -2.3 0M25.9 5.4a1.1 1.1 0 1 0 2.2 0a1.1 1.1 0 1 0 -2.2 0M-0.4 7.6a0.9 0.9 0 1 0 1.7 0a0.9 0.9 0 1 0 -1.7 0M28.6 7.6a0.9 0.9 0 1 0 1.7 0a0.9 0.9 0 1 0 -1.7 0M15.8 8.3a1.0 1.0 0 1 0 2.1 0a1.0 1.0 0 1 0 -2.1 0M18.3 8.7a0.9 0.9 0 1 0 1.8 0a0.9 0.9 0 1 0 -1.8 0M7.2 10.3a0.9 0.9 0 1 0 1.8 0a0.9 0.9 0 1 0 -1.8 0M12.4 10.4a1.2 1.2 0 1 0 2.4 0a1.2 1.2 0 1 0 -2.4 0M0.2 12.1a0.8 0.8 0 1 0 1.7 0a0.8 0.8 0 1 0 -1.7 0M2.6 12.1a0.9 0.9 0 1 0 1.8 0a0.9 0.9 0 1 0 -1.8 0M-0.3 16.3a0.8 0.8 0 1 0 1.7 0a0.8 0.8 0 1 0 -1.7 0M28.7 16.3a0.8 0.8 0 1 0 1.7 0a0.8 0.8 0 1 0 -1.7 0M5.1 14.3a1.1 1.1 0 1 0 2.3 0a1.1 1.1 0 1 0 -2.3 0M23.0 16.0a1.1 1.1 0 1 0 2.3 0a1.1 1.1 0 1 0 -2.3 0M18.4 18.6a0.8 0.8 0 1 0 1.6 0a0.8 0.8 0 1 0 -1.6 0M8.0 21.2a0.9 0.9 0 1 0 1.8 0a0.9 0.9 0 1 0 -1.8 0M22.4 20.8a0.9 0.9 0 1 0 1.7 0a0.9 0.9 0 1 0 -1.7 0M3.8 23.5a0.8 0.8 0 1 0 1.7 0a0.8 0.8 0 1 0 -1.7 0M5.3 22.4a1.1 1.1 0 1 0 2.1 0a1.1 1.1 0 1 0 -2.1 0M8.3 23.3a1.0 1.0 0 1 0 2.0 0a1.0 1.0 0 1 0 -2.0 0M14.4 24.5a1.0 1.0 0 1 0 1.9 0a1.0 1.0 0 1 0 -1.9 0M19.9 24.8a1.1 1.1 0 1 0 2.2 0a1.1 1.1 0 1 0 -2.2 0M22.6 25.0a1.0 1.0 0 1 0 2.1 0a1.0 1.0 0 1 0 -2.1 0M13.0 28.7a1.0 1.0 0 1 0 1.9 0a1.0 1.0 0 1 0 -1.9 0M18.6 28.6a1.0 1.0 0 1 0 2.0 0a1.0 1.0 0 1 0 -2.0 0M1.5 29.8a1.1 1.1 0 1 0 2.3 0a1.1 1.1 0 1 0 -2.3 0M24.8 -0.9a1.1 1.1 0 1 0 2.2 0a1.1 1.1 0 1 0 -2.2 0M24.8 30.1a1.1 1.1 0 1 0 2.2 0a1.1 1.1 0 1 0 -2.2 0"/><path fill="#ccd6ca" d="M-1.1 30.0a0.9 0.9 0 1 0 1.7 0a0.9 0.9 0 1 0 -1.7 0M27.9 30.0a0.9 0.9 0 1 0 1.7 0a0.9 0.9 0 1 0 -1.7 0M2.8 -0.9a0.9 0.9 0 1 0 1.9 0a0.9 0.9 0 1 0 -1.9 0M2.8 30.1a0.9 0.9 0 1 0 1.9 0a0.9 0.9 0 1 0 -1.9 0M3.6 -1.0a1.2 1.2 0 1 0 2.5 0a1.2 1.2 0 1 0 -2.5 0M3.6 30.0a1.2 1.2 0 1 0 2.5 0a1.2 1.2 0 1 0 -2.5 0M17.0 -0.9a1.0 1.0 0 1 0 2.0 0a1.0 1.0 0 1 0 -2.0 0M17.0 30.1a1.0 1.0 0 1 0 2.0 0a1.0 1.0 0 1 0 -2.0 0M25.9 -0.8a1.0 1.0 0 1 0 2.1 0a1.0 1.0 0 1 0 -2.1 0M25.9 30.2a1.0 1.0 0 1 0 2.1 0a1.0 1.0 0 1 0 -2.1 0M14.1 2.2a1.0 1.0 0 1 0 2.0 0a1.0 1.0 0 1 0 -2.0 0M24.3 1.6a1.2 1.2 0 1 0 2.5 0a1.2 1.2 0 1 0 -2.5 0M1.3 5.6a1.1 1.1 0 1 0 2.3 0a1.1 1.1 0 1 0 -2.3 0M5.4 4.5a1.1 1.1 0 1 0 2.3 0a1.1 1.1 0 1 0 -2.3 0M13.7 4.3a1.0 1.0 0 1 0 2.1 0a1.0 1.0 0 1 0 -2.1 0M19.0 4.7a0.9 0.9 0 1 0 1.9 0a0.9 0.9 0 1 0 -1.9 0M2.4 6.4a1.0 1.0 0 1 0 1.9 0a1.0 1.0 0 1 0 -1.9 0M8.3 7.8a1.2 1.2 0 1 0 2.5 0a1.2 1.2 0 1 0 -2.5 0M21.1 7.7a0.8 0.8 0 1 0 1.6 0a0.8 0.8 0 1 0 -1.6 0M4.0 10.5a1.1 1.1 0 1 0 2.2 0a1.1 1.1 0 1 0 -2.2 0M9.4 9.0a1.2 1.2 0 1 0 2.4 0a1.2 1.2 0 1 0 -2.4 0M16.5 9.9a0.8 0.8 0 1 0 1.7 0a0.8 0.8 0 1 0 -1.7 0M9.4 13.1a1.2 1.2 0 1 0 2.5 0a1.2 1.2 0 1 0 -2.5 0M12.5 13.3a1.0 1.0 0 1 0 2.0 0a1.0 1.0 0 1 0 -2.0 0M23.7 13.4a1.0 1.0 0 1 0 2.0 0a1.0 1.0 0 1 0 -2.0 0M1.9 15.7a0.9 0.9 0 1 0 1.7 0a0.9 0.9 0 1 0 -1.7 0M14.2 16.0a1.0 1.0 0 1 0 2.1 0a1.0 1.0 0 1 0 -2.1 0M16.9 15.0a1.2 1.2 0 1 0 2.4 0a1.2 1.2 0 1 0 -2.4 0M0.5 17.8a1.0 1.0 0 1 0 2.1 0a1.0 1.0 0 1 0 -2.1 0M7.3 17.7a0.9 0.9 0 1 0 1.8 0a0.9 0.9 0 1 0 -1.8 0M9.7 17.7a0.9 0.9 0 1 0 1.7 0a0.9 0.9 0 1 0 -1.7 0M12.4 18.7a1.2 1.2 0 1 0 2.3 0a1.2 1.2 0 1 0 -2.3 0M24.1 16.6a1.0 1.0 0 1 0 2.0 0a1.0 1.0 0 1 0 -2.0 0M4.2 20.4a1.1 1.1 0 1 0 2.1 0a1.1 1.1 0 1 0 -2.1 0M19.9 21.0a1.1 1.1 0 1 0 2.3 0a1.1 1.1 0 1 0 -2.3 0M11.8 23.6a1.2 1.2 0 1 0 2.4 0a1.2 1.2 0 1 0 -2.4 0M13.7 22.4a1.2 1.2 0 1 0 2.3 0a1.2 1.2 0 1 0 -2.3 0M17.1 23.5a1.2 1.2 0 1 0 2.5 0a1.2 1.2 0 1 0 -2.5 0M19.7 23.5a1.2 1.2 0 1 0 2.4 0a1.2 1.2 0 1 0 -2.4 0M26.4 22.6a0.9 0.9 0 1 0 1.7 0a0.9 0.9 0 1 0 -1.7 0M0.1 26.1a1.0 1.0 0 1 0 2.0 0a1.0 1.0 0 1 0 -2.0 0M7.2 24.3a0.9 0.9 0 1 0 1.8 0a0.9 0.9 0 1 0 -1.8 0M10.1 24.4a0.9 0.9 0 1 0 1.8 0a0.9 0.9 0 1 0 -1.8 0M6.1 27.4a1.1 1.1 0 1 0 2.1 0a1.1 1.1 0 1 0 -2.1 0M27.0 -0.5a1.0 1.0 0 1 0 2.0 0a1.0 1.0 0 1 0 -2.0 0M27.0 30.5a1.0 1.0 0 1 0 2.0 0a1.0 1.0 0 1 0 -2.0 0M4.9 -0.8a1.2 1.2 0 1 0 2.3 0a1.2 1.2 0 1 0 -2.3 0M4.9 30.2a1.2 1.2 0 1 0 2.3 0a1.2 1.2 0 1 0 -2.3 0M14.1 29.6a1.2 1.2 0 1 0 2.3 0a1.2 1.2 0 1 0 -2.3 0"/><path fill="#bcc6ba" d="M10.0 1.0a0.9 0.9 0 1 0 1.8 0a0.9 0.9 0 1 0 -1.8 0M22.9 -0.5a1.0 1.0 0 1 0 2.0 0a1.0 1.0 0 1 0 -2.0 0M22.9 30.5a1.0 1.0 0 1 0 2.0 0a1.0 1.0 0 1 0 -2.0 0M0.2 3.2a1.0 1.0 0 1 0 2.0 0a1.0 1.0 0 1 0 -2.0 0M6.1 2.7a1.2 1.2 0 1 0 2.4 0a1.2 1.2 0 1 0 -2.4 0M9.8 1.5a1.2 1.2 0 1 0 2.4 0a1.2 1.2 0 1 0 -2.4 0M12.0 3.6a1.2 1.2 0 1 0 2.4 0a1.2 1.2 0 1 0 -2.4 0M25.8 2.8a1.0 1.0 0 1 0 2.0 0a1.0 1.0 0 1 0 -2.0 0M-0.1 4.5a1.1 1.1 0 1 0 2.3 0a1.1 1.1 0 1 0 -2.3 0M28.9 4.5a1.1 1.1 0 1 0 2.3 0a1.1 1.1 0 1 0 -2.3 0M11.5 4.6a1.1 1.1 0 1 0 2.1 0a1.1 1.1 0 1 0 -2.1 0M16.9 5.1a1.0 1.0 0 1 0 2.1 0a1.0 1.0 0 1 0 -2.1 0M22.8 4.9a0.9 0.9 0 1 0 1.8 0a0.9 0.9 0 1 0 -1.8 0M5.3 8.2a1.2 1.2 0 1 0 2.5 0a1.2 1.2 0 1 0 -2.5 0M12.9 8.4a0.9 0.9 0 1 0 1.8 0a0.9 0.9 0 1 0 -1.8 0M23.8 8.3a1.0 1.0 0 1 0 2.0 0a1.0 1.0 0 1 0 -2.0 0M26.3 6.9a1.0 1.0 0 1 0 2.0 0a1.0 1.0 0 1 0 -2.0 0M-0.7 10.0a1.2 1.2 0 1 0 2.3 0a1.2 1.2 0 1 0 -2.3 0M28.3 10.0a1.2 1.2 0 1 0 2.3 0a1.2 1.2 0 1 0 -2.3 0M2.3 9.0a1.2 1.2 0 1 0 2.5 0a1.2 1.2 0 1 0 -2.5 0M20.2 9.9a1.1 1.1 0 1 0 2.1 0a1.1 1.1 0 1 0 -2.1 0M21.5 9.6a1.0 1.0 0 1 0 2.0 0a1.0 1.0 0 1 0 -2.0 0M24.8 11.2a1.2 1.2 0 1 0 2.4 0a1.2 1.2 0 1 0 -2.4 0M7.1 12.4a1.2 1.2 0 1 0 2.5 0a1.2 1.2 0 1 0 -2.5 0M18.9 13.4a0.9 0.9 0 1 0 1.8 0a0.9 0.9 0 1 0 -1.8 0M26.8 13.6a1.0 1.0 0 1 0 2.0 0a1.0 1.0 0 1 0 -2.0 0M8.7 14.5a1.1 1.1 0 1 0 2.2 0a1.1 1.1 0 1 0 -2.2 0M10.4 14.2a0.9 0.9 0 1 0 1.9 0a0.9 0.9 0 1 0 -1.9 0M4.0 17.9a1.2 1.2 0 1 0 2.5 0a1.2 1.2 0 1 0 -2.5 0M13.8 18.4a1.1 1.1 0 1 0 2.3 0a1.1 1.1 0 1 0 -2.3 0M20.0 18.1a1.2 1.2 0 1 0 2.4 0a1.2 1.2 0 1 0 -2.4 0M26.4 17.6a1.0 1.0 0 1 0 2.0 0a1.0 1.0 0 1 0 -2.0 0M-0.3 19.4a1.0 1.0 0 1 0 1.9 0a1.0 1.0 0 1 0 -1.9 0M28.7 19.4a1.0 1.0 0 1 0 1.9 0a1.0 1.0 0 1 0 -1.9 0M1.8 21.0a0.9 0.9 0 1 0 1.7 0a0.9 0.9 0 1 0 -1.7 0M10.0 20.5a1.1 1.1 0 1 0 2.2 0a1.1 1.1 0 1 0 -2.2 0M14.6 19.6a0.9 0.9 0 1 0 1.8 0a0.9 0.9 0 1 0 -1.8 0M15.5 19.9a1.1 1.1 0 1 0 2.2 0a1.1 1.1 0 1 0 -2.2 0M-0.3 23.0a1.1 1.1 0 1 0 2.2 0a1.1 1.1 0 1 0 -2.2 0M28.7 23.0a1.1 1.1 0 1 0 2.2 0a1.1 1.1 0 1 0 -2.2 0M23.4 22.2a1.0 1.0 0 1 0 2.1 0a1.0 1.0 0 1 0 -2.1 0M15.4 24.3a1.0 1.0 0 1 0 2.1 0a1.0 1.0 0 1 0 -2.1 0M25.8 25.7a1.2 1.2 0 1 0 2.4 0a1.2 1.2 0 1 0 -2.4 0M-0.9 27.1a1.2 1.2 0 1 0 2.4 0a1.2 1.2 0 1 0 -2.4 0M28.1 27.1a1.2 1.2 0 1 0 2.4 0a1.2 1.2 0 1 0 -2.4 0M4.1 26.9a1.1 1.1 0 1 0 2.3 0a1.1 1.1 0 1 0 -2.3 0M20.7 27.9a1.1 1.1 0 1 0 2.2 0a1.1 1.1 0 1 0 -2.2 0M22.5 28.6a1.1 1.1 0 1 0 2.2 0a1.1 1.1 0 1 0 -2.2 0M26.8 28.7a1.0 1.0 0 1 0 2.0 0a1.0 1.0 0 1 0 -2.0 0M7.4 -0.2a1.0 1.0 0 1 0 2.1 0a1.0 1.0 0 1 0 -2.1 0M7.4 30.8a1.0 1.0 0 1 0 2.1 0a1.0 1.0 0 1 0 -2.1 0M17.0 -0.4a1.1 1.1 0 1 0 2.2 0a1.1 1.1 0 1 0 -2.2 0M17.0 30.6a1.1 1.1 0 1 0 2.2 0a1.1 1.1 0 1 0 -2.2 0M20.1 -0.8a1.1 1.1 0 1 0 2.2 0a1.1 1.1 0 1 0 -2.2 0M20.1 30.2a1.1 1.1 0 1 0 2.2 0a1.1 1.1 0 1 0 -2.2 0M21.5 29.3a1.0 1.0 0 1 0 2.1 0a1.0 1.0 0 1 0 -2.1 0"/></pattern><pattern id="pcd1" width="31" height="29" patternUnits="userSpaceOnUse"><path fill="#3c6690" d="M9.3 0.3a1.0 1.0 0 1 0 2.1 0a1.0 1.0 0 1 0 -2.1 0M9.3 29.3a1.0 1.0 0 1 0 2.1 0a1.0 1.0 0 1 0 -2.1 0M15.9 -0.8a1.1 1.1 0 1 0 2.3 0a1.1 1.1 0 1 0 -2.3 0M15.9 28.2a1.1 1.1 0 1 0 2.3 0a1.1 1.1 0 1 0 -2.3 0M26.2 -0.3a1.2 1.2 0 1 0 2.3 0a1.2 1.2 0 1 0 -2.3 0M26.2 28.7a1.2 1.2 0 1 0 2.3 0a1.2 1.2 0 1 0 -2.3 0M10.4 1.6a1.0 1.0 0 1 0 1.9 0a1.0 1.0 0 1 0 -1.9 0M-0.2 4.7a1.2 1.2 0 1 0 2.5 0a1.2 1.2 0 1 0 -2.5 0M30.8 4.7a1.2 1.2 0 1 0 2.5 0a1.2 1.2 0 1 0 -2.5 0M11.9 4.7a0.9 0.9 0 1 0 1.9 0a0.9 0.9 0 1 0 -1.9 0M23.8 4.9a1.3 1.3 0 1 0 2.6 0a1.3 1.3 0 1 0 -2.6 0M10.6 7.8a1.2 1.2 0 1 0 2.4 0a1.2 1.2 0 1 0 -2.4 0M21.2 7.5a1.1 1.1 0 1 0 2.2 0a1.1 1.1 0 1 0 -2.2 0M1.8 9.3a1.2 1.2 0 1 0 2.4 0a1.2 1.2 0 1 0 -2.4 0M4.8 9.8a1.1 1.1 0 1 0 2.2 0a1.1 1.1 0 1 0 -2.2 0M25.5 9.6a1.2 1.2 0 1 0 2.3 0a1.2 1.2 0 1 0 -2.3 0M2.2 10.9a1.0 1.0 0 1 0 1.9 0a1.0 1.0 0 1 0 -1.9 0M19.1 11.7a1.0 1.0 0 1 0 2.0 0a1.0 1.0 0 1 0 -2.0 0M12.1 15.2a1.1 1.1 0 1 0 2.1 0a1.1 1.1 0 1 0 -2.1 0M0.8 16.8a1.3 1.3 0 1 0 2.5 0a1.3 1.3 0 1 0 -2.5 0M10.0 17.2a1.1 1.1 0 1 0 2.3 0a1.1 1.1 0 1 0 -2.3 0M18.3 15.9a1.0 1.0 0 1 0 2.0 0a1.0 1.0 0 1 0 -2.0 0M19.7 20.4a1.2 1.2 0 1 0 2.3 0a1.2 1.2 0 1 0 -2.3 0M20.8 21.4a1.2 1.2 0 1 0 2.4 0a1.2 1.2 0 1 0 -2.4 0M26.1 23.9a1.1 1.1 0 1 0 2.2 0a1.1 1.1 0 1 0 -2.2 0M1.0 26.0a1.0 1.0 0 1 0 2.0 0a1.0 1.0 0 1 0 -2.0 0M13.6 25.2a1.1 1.1 0 1 0 2.1 0a1.1 1.1 0 1 0 -2.1 0M21.0 25.2a1.1 1.1 0 1 0 2.2 0a1.1 1.1 0 1 0 -2.2 0M3.3 0.2a1.2 1.2 0 1 0 2.4 0a1.2 1.2 0 1 0 -2.4 0M3.3 29.2a1.2 1.2 0 1 0 2.4 0a1.2 1.2 0 1 0 -2.4 0M7.0 -0.1a1.0 1.0 0 1 0 2.0 0a1.0 1.0 0 1 0 -2.0 0M7.0 28.9a1.0 1.0 0 1 0 2.0 0a1.0 1.0 0 1 0 -2.0 0"/><path fill="#4a78a4" d="M-1.2 0.5a1.1 1.1 0 1 0 2.2 0a1.1 1.1 0 1 0 -2.2 0M-1.2 29.5a1.1 1.1 0 1 0 2.2 0a1.1 1.1 0 1 0 -2.2 0M29.8 0.5a1.1 1.1 0 1 0 2.2 0a1.1 1.1 0 1 0 -2.2 0M29.8 29.5a1.1 1.1 0 1 0 2.2 0a1.1 1.1 0 1 0 -2.2 0M2.7 0.5a1.0 1.0 0 1 0 2.0 0a1.0 1.0 0 1 0 -2.0 0M2.7 29.5a1.0 1.0 0 1 0 2.0 0a1.0 1.0 0 1 0 -2.0 0M21.4 -0.4a1.3 1.3 0 1 0 2.6 0a1.3 1.3 0 1 0 -2.6 0M21.4 28.6a1.3 1.3 0 1 0 2.6 0a1.3 1.3 0 1 0 -2.6 0M-1.7 0.0a1.0 1.0 0 1 0 2.1 0a1.0 1.0 0 1 0 -2.1 0M-1.7 29.0a1.0 1.0 0 1 0 2.1 0a1.0 1.0 0 1 0 -2.1 0M29.3 0.0a1.0 1.0 0 1 0 2.1 0a1.0 1.0 0 1 0 -2.1 0M29.3 29.0a1.0 1.0 0 1 0 2.1 0a1.0 1.0 0 1 0 -2.1 0M14.4 1.3a1.2 1.2 0 1 0 2.4 0a1.2 1.2 0 1 0 -2.4 0M19.1 3.0a1.2 1.2 0 1 0 2.5 0a1.2 1.2 0 1 0 -2.5 0M28.4 1.8a1.1 1.1 0 1 0 2.1 0a1.1 1.1 0 1 0 -2.1 0M15.9 5.1a1.3 1.3 0 1 0 2.6 0a1.3 1.3 0 1 0 -2.6 0M18.4 3.8a1.3 1.3 0 1 0 2.6 0a1.3 1.3 0 1 0 -2.6 0M0.2 6.7a1.2 1.2 0 1 0 2.3 0a1.2 1.2 0 1 0 -2.3 0M5.5 7.4a1.2 1.2 0 1 0 2.4 0a1.2 1.2 0 1 0 -2.4 0M17.1 11.3a1.2 1.2 0 1 0 2.4 0a1.2 1.2 0 1 0 -2.4 0M26.9 13.6a1.0 1.0 0 1 0 2.0 0a1.0 1.0 0 1 0 -2.0 0M3.0 15.4a1.3 1.3 0 1 0 2.5 0a1.3 1.3 0 1 0 -2.5 0M14.6 17.5a1.0 1.0 0 1 0 2.1 0a1.0 1.0 0 1 0 -2.1 0M-0.4 17.7a1.2 1.2 0 1 0 2.3 0a1.2 1.2 0 1 0 -2.3 0M30.6 17.7a1.2 1.2 0 1 0 2.3 0a1.2 1.2 0 1 0 -2.3 0M19.8 18.5a1.2 1.2 0 1 0 2.3 0a1.2 1.2 0 1 0 -2.3 0M26.8 18.2a1.1 1.1 0 1 0 2.2 0a1.1 1.1 0 1 0 -2.2 0M12.7 20.2a1.2 1.2 0 1 0 2.5 0a1.2 1.2 0 1 0 -2.5 0M15.5 24.4a1.0 1.0 0 1 0 2.0 0a1.0 1.0 0 1 0 -2.0 0M22.4 24.4a1.2 1.2 0 1 0 2.3 0a1.2 1.2 0 1 0 -2.3 0M8.8 25.3a1.3 1.3 0 1 0 2.6 0a1.3 1.3 0 1 0 -2.6 0M27.3 26.2a1.3 1.3 0 1 0 2.5 0a1.3 1.3 0 1 0 -2.5 0M-1.8 -0.0a1.2 1.2 0 1 0 2.5 0a1.2 1.2 0 1 0 -2.5 0M-1.8 29.0a1.2 1.2 0 1 0 2.5 0a1.2 1.2 0 1 0 -2.5 0M29.2 -0.0a1.2 1.2 0 1 0 2.5 0a1.2 1.2 0 1 0 -2.5 0M29.2 29.0a1.2 1.2 0 1 0 2.5 0a1.2 1.2 0 1 0 -2.5 0M18.3 -0.3a1.1 1.1 0 1 0 2.3 0a1.1 1.1 0 1 0 -2.3 0M18.3 28.7a1.1 1.1 0 1 0 2.3 0a1.1 1.1 0 1 0 -2.3 0M21.7 27.4a0.9 0.9 0 1 0 1.8 0a0.9 0.9 0 1 0 -1.8 0"/><path fill="#2e5078" d="M21.2 2.6a1.1 1.1 0 1 0 2.2 0a1.1 1.1 0 1 0 -2.2 0M7.6 4.1a1.0 1.0 0 1 0 2.0 0a1.0 1.0 0 1 0 -2.0 0M25.0 4.3a1.1 1.1 0 1 0 2.1 0a1.1 1.1 0 1 0 -2.1 0M-1.9 4.8a1.3 1.3 0 1 0 2.6 0a1.3 1.3 0 1 0 -2.6 0M29.1 4.8a1.3 1.3 0 1 0 2.6 0a1.3 1.3 0 1 0 -2.6 0M19.8 6.2a1.1 1.1 0 1 0 2.2 0a1.1 1.1 0 1 0 -2.2 0M27.3 7.7a1.0 1.0 0 1 0 2.0 0a1.0 1.0 0 1 0 -2.0 0M6.9 9.6a1.1 1.1 0 1 0 2.2 0a1.1 1.1 0 1 0 -2.2 0M15.9 8.9a1.3 1.3 0 1 0 2.5 0a1.3 1.3 0 1 0 -2.5 0M28.1 8.8a1.1 1.1 0 1 0 2.3 0a1.1 1.1 0 1 0 -2.3 0M1.2 12.3a0.9 0.9 0 1 0 1.9 0a0.9 0.9 0 1 0 -1.9 0M-1.9 14.9a1.0 1.0 0 1 0 2.0 0a1.0 1.0 0 1 0 -2.0 0M29.1 14.9a1.0 1.0 0 1 0 2.0 0a1.0 1.0 0 1 0 -2.0 0M5.2 14.7a1.1 1.1 0 1 0 2.3 0a1.1 1.1 0 1 0 -2.3 0M23.8 14.4a1.1 1.1 0 1 0 2.3 0a1.1 1.1 0 1 0 -2.3 0M21.4 17.4a1.1 1.1 0 1 0 2.1 0a1.1 1.1 0 1 0 -2.1 0M22.7 19.7a1.3 1.3 0 1 0 2.5 0a1.3 1.3 0 1 0 -2.5 0M28.0 19.5a0.9 0.9 0 1 0 1.8 0a0.9 0.9 0 1 0 -1.8 0M7.1 21.3a1.3 1.3 0 1 0 2.5 0a1.3 1.3 0 1 0 -2.5 0M20.4 22.4a0.9 0.9 0 1 0 1.9 0a0.9 0.9 0 1 0 -1.9 0M10.4 25.4a1.3 1.3 0 1 0 2.5 0a1.3 1.3 0 1 0 -2.5 0M17.3 26.7a0.9 0.9 0 1 0 1.8 0a0.9 0.9 0 1 0 -1.8 0M18.2 25.8a1.1 1.1 0 1 0 2.2 0a1.1 1.1 0 1 0 -2.2 0M10.4 27.7a1.0 1.0 0 1 0 2.0 0a1.0 1.0 0 1 0 -2.0 0M16.1 -0.5a1.0 1.0 0 1 0 1.9 0a1.0 1.0 0 1 0 -1.9 0M16.1 28.5a1.0 1.0 0 1 0 1.9 0a1.0 1.0 0 1 0 -1.9 0M28.2 -1.2a1.3 1.3 0 1 0 2.5 0a1.3 1.3 0 1 0 -2.5 0M28.2 27.8a1.3 1.3 0 1 0 2.5 0a1.3 1.3 0 1 0 -2.5 0"/><path fill="#5c8cb8" d="M3.5 3.1a1.1 1.1 0 1 0 2.3 0a1.1 1.1 0 1 0 -2.3 0M5.6 1.4a1.1 1.1 0 1 0 2.2 0a1.1 1.1 0 1 0 -2.2 0M16.3 2.0a0.9 0.9 0 1 0 1.8 0a0.9 0.9 0 1 0 -1.8 0M20.6 5.7a1.0 1.0 0 1 0 1.9 0a1.0 1.0 0 1 0 -1.9 0M7.4 7.2a1.1 1.1 0 1 0 2.3 0a1.1 1.1 0 1 0 -2.3 0M16.8 6.1a0.9 0.9 0 1 0 1.8 0a0.9 0.9 0 1 0 -1.8 0M-0.7 9.9a1.2 1.2 0 1 0 2.4 0a1.2 1.2 0 1 0 -2.4 0M30.3 9.9a1.2 1.2 0 1 0 2.4 0a1.2 1.2 0 1 0 -2.4 0M9.0 12.1a1.3 1.3 0 1 0 2.6 0a1.3 1.3 0 1 0 -2.6 0M26.5 11.8a1.1 1.1 0 1 0 2.3 0a1.1 1.1 0 1 0 -2.3 0M7.8 13.0a1.3 1.3 0 1 0 2.6 0a1.3 1.3 0 1 0 -2.6 0M18.2 13.6a1.2 1.2 0 1 0 2.4 0a1.2 1.2 0 1 0 -2.4 0M-1.4 13.3a1.0 1.0 0 1 0 2.0 0a1.0 1.0 0 1 0 -2.0 0M29.6 13.3a1.0 1.0 0 1 0 2.0 0a1.0 1.0 0 1 0 -2.0 0M24.6 17.3a0.9 0.9 0 1 0 1.8 0a0.9 0.9 0 1 0 -1.8 0M1.5 18.7a1.2 1.2 0 1 0 2.5 0a1.2 1.2 0 1 0 -2.5 0M5.3 19.3a1.2 1.2 0 1 0 2.4 0a1.2 1.2 0 1 0 -2.4 0M8.9 18.5a0.9 0.9 0 1 0 1.8 0a0.9 0.9 0 1 0 -1.8 0M14.5 17.8a1.1 1.1 0 1 0 2.2 0a1.1 1.1 0 1 0 -2.2 0M3.1 21.0a1.2 1.2 0 1 0 2.3 0a1.2 1.2 0 1 0 -2.3 0M-1.0 23.7a1.1 1.1 0 1 0 2.1 0a1.1 1.1 0 1 0 -2.1 0M30.0 23.7a1.1 1.1 0 1 0 2.1 0a1.1 1.1 0 1 0 -2.1 0M4.4 24.1a1.3 1.3 0 1 0 2.6 0a1.3 1.3 0 1 0 -2.6 0M10.1 23.1a1.1 1.1 0 1 0 2.2 0a1.1 1.1 0 1 0 -2.2 0M13.2 23.7a1.2 1.2 0 1 0 2.3 0a1.2 1.2 0 1 0 -2.3 0M18.7 23.2a0.9 0.9 0 1 0 1.8 0a0.9 0.9 0 1 0 -1.8 0M6.4 24.9a1.0 1.0 0 1 0 2.0 0a1.0 1.0 0 1 0 -2.0 0M11.7 28.0a0.9 0.9 0 1 0 1.9 0a0.9 0.9 0 1 0 -1.9 0M25.3 27.8a1.2 1.2 0 1 0 2.4 0a1.2 1.2 0 1 0 -2.4 0"/><path fill="#6aa0c8" d="M7.0 0.5a1.3 1.3 0 1 0 2.5 0a1.3 1.3 0 1 0 -2.5 0M7.0 29.5a1.3 1.3 0 1 0 2.5 0a1.3 1.3 0 1 0 -2.5 0M11.7 -0.4a0.9 0.9 0 1 0 1.8 0a0.9 0.9 0 1 0 -1.8 0M11.7 28.6a0.9 0.9 0 1 0 1.8 0a0.9 0.9 0 1 0 -1.8 0M0.5 2.8a1.0 1.0 0 1 0 2.0 0a1.0 1.0 0 1 0 -2.0 0M8.1 2.1a1.1 1.1 0 1 0 2.1 0a1.1 1.1 0 1 0 -2.1 0M8.8 4.9a1.1 1.1 0 1 0 2.2 0a1.1 1.1 0 1 0 -2.2 0M25.3 6.4a1.0 1.0 0 1 0 1.9 0a1.0 1.0 0 1 0 -1.9 0M10.2 9.3a1.1 1.1 0 1 0 2.2 0a1.1 1.1 0 1 0 -2.2 0M20.3 9.8a0.9 0.9 0 1 0 1.9 0a0.9 0.9 0 1 0 -1.9 0M23.6 10.1a0.9 0.9 0 1 0 1.8 0a0.9 0.9 0 1 0 -1.8 0M11.7 11.3a1.3 1.3 0 1 0 2.5 0a1.3 1.3 0 1 0 -2.5 0M23.1 12.3a0.9 0.9 0 1 0 1.9 0a0.9 0.9 0 1 0 -1.9 0M24.0 11.3a1.3 1.3 0 1 0 2.6 0a1.3 1.3 0 1 0 -2.6 0M1.1 14.8a0.9 0.9 0 1 0 1.9 0a0.9 0.9 0 1 0 -1.9 0M8.6 15.9a1.2 1.2 0 1 0 2.4 0a1.2 1.2 0 1 0 -2.4 0M27.6 16.5a1.1 1.1 0 1 0 2.1 0a1.1 1.1 0 1 0 -2.1 0M18.4 18.1a1.3 1.3 0 1 0 2.5 0a1.3 1.3 0 1 0 -2.5 0M1.1 21.0a1.2 1.2 0 1 0 2.3 0a1.2 1.2 0 1 0 -2.3 0M5.7 20.1a1.3 1.3 0 1 0 2.6 0a1.3 1.3 0 1 0 -2.6 0M10.5 20.2a1.1 1.1 0 1 0 2.3 0a1.1 1.1 0 1 0 -2.3 0M16.8 22.0a1.1 1.1 0 1 0 2.2 0a1.1 1.1 0 1 0 -2.2 0M26.5 21.6a1.1 1.1 0 1 0 2.2 0a1.1 1.1 0 1 0 -2.2 0M5.9 23.6a1.3 1.3 0 1 0 2.5 0a1.3 1.3 0 1 0 -2.5 0M2.5 25.1a1.2 1.2 0 1 0 2.4 0a1.2 1.2 0 1 0 -2.4 0"/></pattern><pattern id="pcd2" width="29" height="31" patternUnits="userSpaceOnUse"><path fill="#5ea8c6" d="M12.0 -0.6a1.0 1.0 0 1 0 2.0 0a1.0 1.0 0 1 0 -2.0 0M12.0 30.4a1.0 1.0 0 1 0 2.0 0a1.0 1.0 0 1 0 -2.0 0M3.3 2.7a1.0 1.0 0 1 0 1.9 0a1.0 1.0 0 1 0 -1.9 0M4.7 1.8a0.8 0.8 0 1 0 1.6 0a0.8 0.8 0 1 0 -1.6 0M19.0 1.2a0.8 0.8 0 1 0 1.7 0a0.8 0.8 0 1 0 -1.7 0M9.1 5.0a1.1 1.1 0 1 0 2.2 0a1.1 1.1 0 1 0 -2.2 0M12.8 4.6a0.9 0.9 0 1 0 1.9 0a0.9 0.9 0 1 0 -1.9 0M22.7 4.7a1.2 1.2 0 1 0 2.4 0a1.2 1.2 0 1 0 -2.4 0M-0.4 7.6a1.1 1.1 0 1 0 2.1 0a1.1 1.1 0 1 0 -2.1 0M28.6 7.6a1.1 1.1 0 1 0 2.1 0a1.1 1.1 0 1 0 -2.1 0M8.3 6.4a1.0 1.0 0 1 0 1.9 0a1.0 1.0 0 1 0 -1.9 0M2.1 8.9a1.0 1.0 0 1 0 1.9 0a1.0 1.0 0 1 0 -1.9 0M8.6 8.8a1.2 1.2 0 1 0 2.3 0a1.2 1.2 0 1 0 -2.3 0M18.2 9.6a0.9 0.9 0 1 0 1.8 0a0.9 0.9 0 1 0 -1.8 0M23.3 9.6a0.9 0.9 0 1 0 1.7 0a0.9 0.9 0 1 0 -1.7 0M7.8 11.0a1.0 1.0 0 1 0 1.9 0a1.0 1.0 0 1 0 -1.9 0M10.2 11.4a1.0 1.0 0 1 0 2.0 0a1.0 1.0 0 1 0 -2.0 0M12.1 10.9a1.2 1.2 0 1 0 2.4 0a1.2 1.2 0 1 0 -2.4 0M18.0 11.0a1.0 1.0 0 1 0 1.9 0a1.0 1.0 0 1 0 -1.9 0M3.8 13.2a0.9 0.9 0 1 0 1.8 0a0.9 0.9 0 1 0 -1.8 0M24.5 13.0a1.1 1.1 0 1 0 2.1 0a1.1 1.1 0 1 0 -2.1 0M13.9 16.1a0.9 0.9 0 1 0 1.7 0a0.9 0.9 0 1 0 -1.7 0M20.6 16.0a1.2 1.2 0 1 0 2.4 0a1.2 1.2 0 1 0 -2.4 0M8.5 17.7a1.0 1.0 0 1 0 2.0 0a1.0 1.0 0 1 0 -2.0 0M14.9 19.0a0.9 0.9 0 1 0 1.8 0a0.9 0.9 0 1 0 -1.8 0M23.2 18.3a0.9 0.9 0 1 0 1.8 0a0.9 0.9 0 1 0 -1.8 0M24.8 19.0a1.2 1.2 0 1 0 2.4 0a1.2 1.2 0 1 0 -2.4 0M15.1 21.2a1.0 1.0 0 1 0 2.0 0a1.0 1.0 0 1 0 -2.0 0M26.6 20.7a0.8 0.8 0 1 0 1.7 0a0.8 0.8 0 1 0 -1.7 0M-1.9 22.0a1.1 1.1 0 1 0 2.1 0a1.1 1.1 0 1 0 -2.1 0M27.1 22.0a1.1 1.1 0 1 0 2.1 0a1.1 1.1 0 1 0 -2.1 0M3.4 24.0a1.1 1.1 0 1 0 2.2 0a1.1 1.1 0 1 0 -2.2 0M16.0 25.7a1.0 1.0 0 1 0 2.1 0a1.0 1.0 0 1 0 -2.1 0M19.2 24.1a1.2 1.2 0 1 0 2.3 0a1.2 1.2 0 1 0 -2.3 0M7.2 27.0a0.9 0.9 0 1 0 1.7 0a0.9 0.9 0 1 0 -1.7 0M19.2 26.9a1.2 1.2 0 1 0 2.4 0a1.2 1.2 0 1 0 -2.4 0M-2.1 27.7a1.1 1.1 0 1 0 2.3 0a1.1 1.1 0 1 0 -2.3 0M26.9 27.7a1.1 1.1 0 1 0 2.3 0a1.1 1.1 0 1 0 -2.3 0M24.1 29.9a1.0 1.0 0 1 0 2.0 0a1.0 1.0 0 1 0 -2.0 0"/><path fill="#6cb2ce" d="M-2.2 -0.4a1.1 1.1 0 1 0 2.3 0a1.1 1.1 0 1 0 -2.3 0M-2.2 30.6a1.1 1.1 0 1 0 2.3 0a1.1 1.1 0 1 0 -2.3 0M26.8 -0.4a1.1 1.1 0 1 0 2.3 0a1.1 1.1 0 1 0 -2.3 0M26.8 30.6a1.1 1.1 0 1 0 2.3 0a1.1 1.1 0 1 0 -2.3 0M2.6 -0.7a1.0 1.0 0 1 0 2.0 0a1.0 1.0 0 1 0 -2.0 0M2.6 30.3a1.0 1.0 0 1 0 2.0 0a1.0 1.0 0 1 0 -2.0 0M8.4 0.6a1.1 1.1 0 1 0 2.1 0a1.1 1.1 0 1 0 -2.1 0M8.4 31.6a1.1 1.1 0 1 0 2.1 0a1.1 1.1 0 1 0 -2.1 0M17.7 0.7a0.9 0.9 0 1 0 1.7 0a0.9 0.9 0 1 0 -1.7 0M17.7 31.7a0.9 0.9 0 1 0 1.7 0a0.9 0.9 0 1 0 -1.7 0M0.7 2.9a0.9 0.9 0 1 0 1.9 0a0.9 0.9 0 1 0 -1.9 0M4.9 4.5a1.2 1.2 0 1 0 2.4 0a1.2 1.2 0 1 0 -2.4 0M6.3 5.5a1.0 1.0 0 1 0 2.0 0a1.0 1.0 0 1 0 -2.0 0M2.8 7.1a0.9 0.9 0 1 0 1.8 0a0.9 0.9 0 1 0 -1.8 0M21.1 7.2a1.0 1.0 0 1 0 2.0 0a1.0 1.0 0 1 0 -2.0 0M12.5 9.1a1.2 1.2 0 1 0 2.4 0a1.2 1.2 0 1 0 -2.4 0M19.2 9.2a0.8 0.8 0 1 0 1.6 0a0.8 0.8 0 1 0 -1.6 0M23.0 11.1a1.1 1.1 0 1 0 2.2 0a1.1 1.1 0 1 0 -2.2 0M14.4 14.1a0.9 0.9 0 1 0 1.9 0a0.9 0.9 0 1 0 -1.9 0M16.7 14.1a1.1 1.1 0 1 0 2.2 0a1.1 1.1 0 1 0 -2.2 0M4.0 15.3a0.8 0.8 0 1 0 1.6 0a0.8 0.8 0 1 0 -1.6 0M19.3 15.2a0.8 0.8 0 1 0 1.6 0a0.8 0.8 0 1 0 -1.6 0M22.7 15.7a1.2 1.2 0 1 0 2.4 0a1.2 1.2 0 1 0 -2.4 0M7.2 19.1a1.2 1.2 0 1 0 2.3 0a1.2 1.2 0 1 0 -2.3 0M18.1 17.1a1.1 1.1 0 1 0 2.1 0a1.1 1.1 0 1 0 -2.1 0M1.5 22.9a1.1 1.1 0 1 0 2.1 0a1.1 1.1 0 1 0 -2.1 0M24.5 22.6a1.1 1.1 0 1 0 2.2 0a1.1 1.1 0 1 0 -2.2 0M-1.9 22.1a1.0 1.0 0 1 0 2.1 0a1.0 1.0 0 1 0 -2.1 0M27.1 22.1a1.0 1.0 0 1 0 2.1 0a1.0 1.0 0 1 0 -2.1 0M3.3 26.4a1.1 1.1 0 1 0 2.3 0a1.1 1.1 0 1 0 -2.3 0M22.9 26.6a1.1 1.1 0 1 0 2.2 0a1.1 1.1 0 1 0 -2.2 0M8.4 29.6a0.9 0.9 0 1 0 1.7 0a0.9 0.9 0 1 0 -1.7 0M10.4 30.1a0.8 0.8 0 1 0 1.6 0a0.8 0.8 0 1 0 -1.6 0M25.6 29.0a1.1 1.1 0 1 0 2.3 0a1.1 1.1 0 1 0 -2.3 0"/><path fill="#7cbcd6" d="M6.8 0.3a0.8 0.8 0 1 0 1.7 0a0.8 0.8 0 1 0 -1.7 0M6.8 31.3a0.8 0.8 0 1 0 1.7 0a0.8 0.8 0 1 0 -1.7 0M14.8 0.9a0.9 0.9 0 1 0 1.9 0a0.9 0.9 0 1 0 -1.9 0M14.8 31.9a0.9 0.9 0 1 0 1.9 0a0.9 0.9 0 1 0 -1.9 0M21.0 -0.8a0.8 0.8 0 1 0 1.7 0a0.8 0.8 0 1 0 -1.7 0M21.0 30.2a0.8 0.8 0 1 0 1.7 0a0.8 0.8 0 1 0 -1.7 0M23.1 0.3a1.2 1.2 0 1 0 2.3 0a1.2 1.2 0 1 0 -2.3 0M23.1 31.3a1.2 1.2 0 1 0 2.3 0a1.2 1.2 0 1 0 -2.3 0M-1.6 0.5a1.1 1.1 0 1 0 2.3 0a1.1 1.1 0 1 0 -2.3 0M-1.6 31.5a1.1 1.1 0 1 0 2.3 0a1.1 1.1 0 1 0 -2.3 0M27.4 0.5a1.1 1.1 0 1 0 2.3 0a1.1 1.1 0 1 0 -2.3 0M27.4 31.5a1.1 1.1 0 1 0 2.3 0a1.1 1.1 0 1 0 -2.3 0M7.7 3.2a0.9 0.9 0 1 0 1.8 0a0.9 0.9 0 1 0 -1.8 0M10.4 2.8a1.2 1.2 0 1 0 2.4 0a1.2 1.2 0 1 0 -2.4 0M13.3 1.7a1.2 1.2 0 1 0 2.3 0a1.2 1.2 0 1 0 -2.3 0M23.2 3.1a0.9 0.9 0 1 0 1.8 0a0.9 0.9 0 1 0 -1.8 0M-2.1 1.7a1.1 1.1 0 1 0 2.3 0a1.1 1.1 0 1 0 -2.3 0M26.9 1.7a1.1 1.1 0 1 0 2.3 0a1.1 1.1 0 1 0 -2.3 0M15.0 11.2a0.9 0.9 0 1 0 1.8 0a0.9 0.9 0 1 0 -1.8 0M-0.0 14.4a1.0 1.0 0 1 0 2.0 0a1.0 1.0 0 1 0 -2.0 0M29.0 14.4a1.0 1.0 0 1 0 2.0 0a1.0 1.0 0 1 0 -2.0 0M1.2 14.6a1.1 1.1 0 1 0 2.3 0a1.1 1.1 0 1 0 -2.3 0M10.0 14.3a1.0 1.0 0 1 0 2.0 0a1.0 1.0 0 1 0 -2.0 0M20.8 13.9a0.8 0.8 0 1 0 1.6 0a0.8 0.8 0 1 0 -1.6 0M-2.0 13.4a1.0 1.0 0 1 0 2.1 0a1.0 1.0 0 1 0 -2.1 0M27.0 13.4a1.0 1.0 0 1 0 2.1 0a1.0 1.0 0 1 0 -2.1 0M11.1 15.6a1.1 1.1 0 1 0 2.3 0a1.1 1.1 0 1 0 -2.3 0M0.9 17.9a1.2 1.2 0 1 0 2.3 0a1.2 1.2 0 1 0 -2.3 0M0.8 21.3a1.0 1.0 0 1 0 2.0 0a1.0 1.0 0 1 0 -2.0 0M3.0 21.3a0.9 0.9 0 1 0 1.8 0a0.9 0.9 0 1 0 -1.8 0M20.6 20.3a1.2 1.2 0 1 0 2.4 0a1.2 1.2 0 1 0 -2.4 0M4.5 22.7a0.8 0.8 0 1 0 1.7 0a0.8 0.8 0 1 0 -1.7 0M10.5 23.4a0.8 0.8 0 1 0 1.6 0a0.8 0.8 0 1 0 -1.6 0M22.8 21.8a1.1 1.1 0 1 0 2.1 0a1.1 1.1 0 1 0 -2.1 0M5.2 24.3a0.9 0.9 0 1 0 1.8 0a0.9 0.9 0 1 0 -1.8 0M13.2 24.0a1.1 1.1 0 1 0 2.2 0a1.1 1.1 0 1 0 -2.2 0M-1.1 26.8a1.0 1.0 0 1 0 2.0 0a1.0 1.0 0 1 0 -2.0 0M27.9 26.8a1.0 1.0 0 1 0 2.0 0a1.0 1.0 0 1 0 -2.0 0M15.4 26.5a0.8 0.8 0 1 0 1.6 0a0.8 0.8 0 1 0 -1.6 0M17.9 28.2a1.2 1.2 0 1 0 2.4 0a1.2 1.2 0 1 0 -2.4 0M24.0 27.1a1.0 1.0 0 1 0 2.0 0a1.0 1.0 0 1 0 -2.0 0M-0.3 -0.7a1.0 1.0 0 1 0 2.0 0a1.0 1.0 0 1 0 -2.0 0M-0.3 30.3a1.0 1.0 0 1 0 2.0 0a1.0 1.0 0 1 0 -2.0 0M28.7 -0.7a1.0 1.0 0 1 0 2.0 0a1.0 1.0 0 1 0 -2.0 0M28.7 30.3a1.0 1.0 0 1 0 2.0 0a1.0 1.0 0 1 0 -2.0 0M3.9 29.7a0.9 0.9 0 1 0 1.8 0a0.9 0.9 0 1 0 -1.8 0M6.3 28.5a0.9 0.9 0 1 0 1.9 0a0.9 0.9 0 1 0 -1.9 0M20.8 28.9a1.1 1.1 0 1 0 2.2 0a1.1 1.1 0 1 0 -2.2 0"/><path fill="#5098b8" d="M26.2 30.1a0.8 0.8 0 1 0 1.6 0a0.8 0.8 0 1 0 -1.6 0M15.3 3.0a0.9 0.9 0 1 0 1.9 0a0.9 0.9 0 1 0 -1.9 0M20.3 2.4a0.8 0.8 0 1 0 1.7 0a0.8 0.8 0 1 0 -1.7 0M16.7 4.2a0.9 0.9 0 1 0 1.8 0a0.9 0.9 0 1 0 -1.8 0M18.7 3.6a1.2 1.2 0 1 0 2.4 0a1.2 1.2 0 1 0 -2.4 0M-1.0 5.2a0.8 0.8 0 1 0 1.6 0a0.8 0.8 0 1 0 -1.6 0M28.0 5.2a0.8 0.8 0 1 0 1.6 0a0.8 0.8 0 1 0 -1.6 0M4.4 6.4a1.1 1.1 0 1 0 2.1 0a1.1 1.1 0 1 0 -2.1 0M12.4 7.1a1.0 1.0 0 1 0 2.0 0a1.0 1.0 0 1 0 -2.0 0M16.3 7.0a1.1 1.1 0 1 0 2.3 0a1.1 1.1 0 1 0 -2.3 0M17.5 7.7a1.1 1.1 0 1 0 2.2 0a1.1 1.1 0 1 0 -2.2 0M25.9 6.1a1.1 1.1 0 1 0 2.2 0a1.1 1.1 0 1 0 -2.2 0M-0.2 8.1a0.9 0.9 0 1 0 1.8 0a0.9 0.9 0 1 0 -1.8 0M28.8 8.1a0.9 0.9 0 1 0 1.8 0a0.9 0.9 0 1 0 -1.8 0M24.2 9.3a1.1 1.1 0 1 0 2.2 0a1.1 1.1 0 1 0 -2.2 0M1.3 12.3a0.9 0.9 0 1 0 1.9 0a0.9 0.9 0 1 0 -1.9 0M3.4 10.5a1.2 1.2 0 1 0 2.3 0a1.2 1.2 0 1 0 -2.3 0M25.2 12.0a1.2 1.2 0 1 0 2.3 0a1.2 1.2 0 1 0 -2.3 0M11.2 13.1a0.9 0.9 0 1 0 1.7 0a0.9 0.9 0 1 0 -1.7 0M21.7 13.4a0.9 0.9 0 1 0 1.7 0a0.9 0.9 0 1 0 -1.7 0M8.8 15.9a0.8 0.8 0 1 0 1.7 0a0.8 0.8 0 1 0 -1.7 0M26.8 16.4a0.9 0.9 0 1 0 1.7 0a0.9 0.9 0 1 0 -1.7 0M4.5 18.5a1.1 1.1 0 1 0 2.2 0a1.1 1.1 0 1 0 -2.2 0M19.0 18.6a1.1 1.1 0 1 0 2.2 0a1.1 1.1 0 1 0 -2.2 0M27.0 18.4a0.9 0.9 0 1 0 1.8 0a0.9 0.9 0 1 0 -1.8 0M11.2 20.2a0.9 0.9 0 1 0 1.7 0a0.9 0.9 0 1 0 -1.7 0M17.4 21.3a1.0 1.0 0 1 0 2.1 0a1.0 1.0 0 1 0 -2.1 0M12.4 22.2a1.1 1.1 0 1 0 2.2 0a1.1 1.1 0 1 0 -2.2 0M17.2 22.1a1.2 1.2 0 1 0 2.3 0a1.2 1.2 0 1 0 -2.3 0M19.6 21.9a0.9 0.9 0 1 0 1.7 0a0.9 0.9 0 1 0 -1.7 0M0.0 25.5a0.9 0.9 0 1 0 1.7 0a0.9 0.9 0 1 0 -1.7 0M9.2 25.4a0.8 0.8 0 1 0 1.6 0a0.8 0.8 0 1 0 -1.6 0M11.3 25.2a1.0 1.0 0 1 0 2.0 0a1.0 1.0 0 1 0 -2.0 0M24.1 24.6a1.0 1.0 0 1 0 2.0 0a1.0 1.0 0 1 0 -2.0 0M25.4 25.5a1.1 1.1 0 1 0 2.3 0a1.1 1.1 0 1 0 -2.3 0M8.6 27.7a1.2 1.2 0 1 0 2.3 0a1.2 1.2 0 1 0 -2.3 0M11.4 27.6a1.2 1.2 0 1 0 2.4 0a1.2 1.2 0 1 0 -2.4 0"/></pattern></defs>
<rect x="0" y="0" width="520" height="628" fill="#fff"/>
<text transform="translate(16.4,23.6) scale(1.12,1)" font-size="15.6" font-weight="bold">A</text>
<path d="M64.5 44.900000000000006 V180.4 H353.8" stroke="#000" stroke-width="1.2" fill="none"/>
<line x1="64.5" y1="180.4" x2="66.7" y2="180.4" stroke="#000" stroke-width="1"/>
<text x="61.5" y="183.5" font-size="8.6" text-anchor="end" font-weight="bold" >0</text>
<line x1="64.5" y1="163.5" x2="66.7" y2="163.5" stroke="#000" stroke-width="1"/>
<text x="61.5" y="166.6" font-size="8.6" text-anchor="end" font-weight="bold" >200</text>
<line x1="64.5" y1="146.6" x2="66.7" y2="146.6" stroke="#000" stroke-width="1"/>
<text x="61.5" y="149.70000000000002" font-size="8.6" text-anchor="end" font-weight="bold" >400</text>
<line x1="64.5" y1="129.7" x2="66.7" y2="129.7" stroke="#000" stroke-width="1"/>
<text x="61.5" y="132.8" font-size="8.6" text-anchor="end" font-weight="bold" >600</text>
<line x1="64.5" y1="112.8" x2="66.7" y2="112.8" stroke="#000" stroke-width="1"/>
<text x="61.5" y="115.9" font-size="8.6" text-anchor="end" font-weight="bold" >800</text>
<line x1="64.5" y1="95.9" x2="66.7" y2="95.9" stroke="#000" stroke-width="1"/>
<text x="61.5" y="99.00000000000001" font-size="8.6" text-anchor="end" font-weight="bold" >1000</text>
<line x1="64.5" y1="79.0" x2="66.7" y2="79.0" stroke="#000" stroke-width="1"/>
<text x="61.5" y="82.10000000000001" font-size="8.6" text-anchor="end" font-weight="bold" >1200</text>
<line x1="64.5" y1="62.1" x2="66.7" y2="62.1" stroke="#000" stroke-width="1"/>
<text x="61.5" y="65.20000000000002" font-size="8.6" text-anchor="end" font-weight="bold" >1400</text>
<line x1="64.5" y1="45.2" x2="66.7" y2="45.2" stroke="#000" stroke-width="1"/>
<text x="61.5" y="48.30000000000002" font-size="8.6" text-anchor="end" font-weight="bold" >1600</text>
<line x1="77.2" y1="180.4" x2="77.2" y2="178.8" stroke="#000" stroke-width="0.8"/>
<line x1="89.2" y1="180.4" x2="89.2" y2="178.8" stroke="#000" stroke-width="0.8"/>
<line x1="101.3" y1="180.4" x2="101.3" y2="178.8" stroke="#000" stroke-width="0.8"/>
<line x1="113.3" y1="180.4" x2="113.3" y2="178.8" stroke="#000" stroke-width="0.8"/>
<line x1="125.3" y1="180.4" x2="125.3" y2="178.8" stroke="#000" stroke-width="0.8"/>
<line x1="137.3" y1="180.4" x2="137.3" y2="178.8" stroke="#000" stroke-width="0.8"/>
<line x1="149.3" y1="180.4" x2="149.3" y2="178.8" stroke="#000" stroke-width="0.8"/>
<line x1="161.4" y1="180.4" x2="161.4" y2="178.8" stroke="#000" stroke-width="0.8"/>
<line x1="173.4" y1="180.4" x2="173.4" y2="178.8" stroke="#000" stroke-width="0.8"/>
<line x1="185.4" y1="180.4" x2="185.4" y2="178.8" stroke="#000" stroke-width="0.8"/>
<line x1="197.4" y1="180.4" x2="197.4" y2="178.8" stroke="#000" stroke-width="0.8"/>
<line x1="209.4" y1="180.4" x2="209.4" y2="178.8" stroke="#000" stroke-width="0.8"/>
<line x1="221.5" y1="180.4" x2="221.5" y2="178.8" stroke="#000" stroke-width="0.8"/>
<line x1="233.5" y1="180.4" x2="233.5" y2="178.8" stroke="#000" stroke-width="0.8"/>
<line x1="245.5" y1="180.4" x2="245.5" y2="178.8" stroke="#000" stroke-width="0.8"/>
<line x1="257.5" y1="180.4" x2="257.5" y2="178.8" stroke="#000" stroke-width="0.8"/>
<line x1="269.5" y1="180.4" x2="269.5" y2="178.8" stroke="#000" stroke-width="0.8"/>
<line x1="281.6" y1="180.4" x2="281.6" y2="178.8" stroke="#000" stroke-width="0.8"/>
<line x1="293.6" y1="180.4" x2="293.6" y2="178.8" stroke="#000" stroke-width="0.8"/>
<line x1="305.6" y1="180.4" x2="305.6" y2="178.8" stroke="#000" stroke-width="0.8"/>
<line x1="317.6" y1="180.4" x2="317.6" y2="178.8" stroke="#000" stroke-width="0.8"/>
<line x1="329.6" y1="180.4" x2="329.6" y2="178.8" stroke="#000" stroke-width="0.8"/>
<line x1="341.7" y1="180.4" x2="341.7" y2="178.8" stroke="#000" stroke-width="0.8"/>
<text x="77.2" y="192.4" font-size="8.6" text-anchor="middle" font-weight="bold" >1</text>
<text x="101.2" y="192.4" font-size="8.6" text-anchor="middle" font-weight="bold" >3</text>
<text x="125.3" y="192.4" font-size="8.6" text-anchor="middle" font-weight="bold" >5</text>
<text x="149.3" y="192.4" font-size="8.6" text-anchor="middle" font-weight="bold" >8</text>
<text x="173.4" y="192.4" font-size="8.6" text-anchor="middle" font-weight="bold" >10</text>
<text x="197.4" y="192.4" font-size="8.6" text-anchor="middle" font-weight="bold" >12</text>
<text x="221.4" y="192.4" font-size="8.6" text-anchor="middle" font-weight="bold" >15</text>
<text x="245.5" y="192.4" font-size="8.6" text-anchor="middle" font-weight="bold" >17</text>
<text x="269.5" y="192.4" font-size="8.6" text-anchor="middle" font-weight="bold" >19</text>
<text x="293.6" y="192.4" font-size="8.6" text-anchor="middle" font-weight="bold" >22</text>
<text x="317.6" y="192.4" font-size="8.6" text-anchor="middle" font-weight="bold" >24</text>
<text x="341.6" y="192.4" font-size="8.6" text-anchor="middle" font-weight="bold" >26</text>
<text x="124.4" y="207.2" font-size="11.95" text-anchor="start" font-weight="bold" >Days&#160;&#160;from starting treatment</text>
<text transform="translate(35.9,185.6) rotate(-90)" font-size="11.95" font-weight="bold">Mean Tumor volume (mm<tspan font-size="7.5" dy="-4.2">3</tspan><tspan dy="4.2">)</tspan></text>
<path d="M77.2 180.0 V177.9 M75.5 180.0 h3.4 M75.5 177.9 h3.4" stroke="#777" stroke-width="0.8" fill="none"/>
<path d="M101.2 179.6 V174.5 M99.5 179.6 h3.4 M99.5 174.5 h3.4" stroke="#777" stroke-width="0.8" fill="none"/>
<path d="M125.3 178.7 V150.8 M123.6 178.7 h3.4 M123.6 150.8 h3.4" stroke="#777" stroke-width="0.8" fill="none"/>
<path d="M149.3 177.9 V139.0 M147.6 177.9 h3.4 M147.6 139.0 h3.4" stroke="#777" stroke-width="0.8" fill="none"/>
<path d="M173.4 171.1 V133.9 M171.7 171.1 h3.4 M171.7 133.9 h3.4" stroke="#777" stroke-width="0.8" fill="none"/>
<path d="M197.4 177.9 V105.2 M195.7 177.9 h3.4 M195.7 105.2 h3.4" stroke="#777" stroke-width="0.8" fill="none"/>
<path d="M221.4 148.3 V89.6 M219.7 148.3 h3.4 M219.7 89.6 h3.4" stroke="#777" stroke-width="0.8" fill="none"/>
<path d="M245.5 150.0 V84.5 M243.8 150.0 h3.4 M243.8 84.5 h3.4" stroke="#777" stroke-width="0.8" fill="none"/>
<path d="M269.5 149.1 V116.2 M267.8 149.1 h3.4 M267.8 116.2 h3.4" stroke="#777" stroke-width="0.8" fill="none"/>
<path d="M293.6 144.9 V113.6 M291.9 144.9 h3.4 M291.9 113.6 h3.4" stroke="#777" stroke-width="0.8" fill="none"/>
<path d="M317.6 142.4 V109.4 M315.9 142.4 h3.4 M315.9 109.4 h3.4" stroke="#777" stroke-width="0.8" fill="none"/>
<path d="M341.6 133.9 V102.7 M339.9 133.9 h3.4 M339.9 102.7 h3.4" stroke="#777" stroke-width="0.8" fill="none"/>
<path d="M77.2 180.0 V177.9 M75.5 180.0 h3.4 M75.5 177.9 h3.4" stroke="#777" stroke-width="0.8" fill="none"/>
<path d="M101.2 179.6 V173.6 M99.5 179.6 h3.4 M99.5 173.6 h3.4" stroke="#777" stroke-width="0.8" fill="none"/>
<path d="M125.3 180.4 V149.1 M123.6 180.4 h3.4 M123.6 149.1 h3.4" stroke="#777" stroke-width="0.8" fill="none"/>
<path d="M149.3 177.0 V155.1 M147.6 177.0 h3.4 M147.6 155.1 h3.4" stroke="#777" stroke-width="0.8" fill="none"/>
<path d="M173.4 173.6 V119.6 M171.7 173.6 h3.4 M171.7 119.6 h3.4" stroke="#777" stroke-width="0.8" fill="none"/>
<path d="M197.4 177.9 V105.2 M195.7 177.9 h3.4 M195.7 105.2 h3.4" stroke="#777" stroke-width="0.8" fill="none"/>
<path d="M221.4 157.6 V89.6 M219.7 157.6 h3.4 M219.7 89.6 h3.4" stroke="#777" stroke-width="0.8" fill="none"/>
<path d="M245.5 150.0 V84.5 M243.8 150.0 h3.4 M243.8 84.5 h3.4" stroke="#777" stroke-width="0.8" fill="none"/>
<path d="M77.2 178.7 V176.6 M75.5 178.7 h3.4 M75.5 176.6 h3.4" stroke="#777" stroke-width="0.8" fill="none"/>
<path d="M101.2 175.3 V166.5 M99.5 175.3 h3.4 M99.5 166.5 h3.4" stroke="#777" stroke-width="0.8" fill="none"/>
<path d="M125.3 170.3 V149.1 M123.6 170.3 h3.4 M123.6 149.1 h3.4" stroke="#777" stroke-width="0.8" fill="none"/>
<path d="M149.3 177.9 V138.2 M147.6 177.9 h3.4 M147.6 138.2 h3.4" stroke="#777" stroke-width="0.8" fill="none"/>
<path d="M173.4 121.3 V53.7 M171.7 121.3 h3.4 M171.7 53.7 h3.4" stroke="#777" stroke-width="0.8" fill="none"/>
<path d="M197.4 91.7 V54.5 M195.7 91.7 h3.4 M195.7 54.5 h3.4" stroke="#777" stroke-width="0.8" fill="none"/>
<polyline points="77.2,178.5 101.2,176.9 125.3,158.5 149.3,153.2 173.4,152.6 197.4,144.6 221.4,134.8 245.5,134.8 269.5,132.9 293.6,129.8 317.6,126.2 341.6,118.5" fill="none" stroke="#000" stroke-width="1.3"/>
<polyline points="77.2,178.5 101.2,176.9 125.3,170.9 149.3,163.7 173.4,148.3 197.4,140.9 221.4,123.1 245.5,117.5" fill="none" stroke="#000" stroke-width="1.3"/>
<polyline points="77.2,177.5 101.2,172.9 125.3,163.7 149.3,163.5 173.4,87.7 197.4,72.6" fill="none" stroke="#000" stroke-width="1.3"/>
<circle cx="77.2" cy="177.5" r="2.6" fill="#000"/>
<circle cx="101.2" cy="172.9" r="2.6" fill="#000"/>
<circle cx="125.3" cy="163.7" r="2.6" fill="#000"/>
<circle cx="149.3" cy="163.5" r="2.6" fill="#000"/>
<circle cx="173.4" cy="87.7" r="2.6" fill="#000"/>
<circle cx="197.4" cy="72.6" r="2.6" fill="#000"/>
<rect x="74.7" y="176.0" width="5" height="5" fill="#fff" stroke="#000" stroke-width="0.8"/>
<rect x="98.7" y="174.4" width="5" height="5" fill="#fff" stroke="#000" stroke-width="0.8"/>
<rect x="122.8" y="168.4" width="5" height="5" fill="#fff" stroke="#000" stroke-width="0.8"/>
<rect x="146.8" y="161.2" width="5" height="5" fill="#fff" stroke="#000" stroke-width="0.8"/>
<rect x="170.9" y="145.8" width="5" height="5" fill="#fff" stroke="#000" stroke-width="0.8"/>
<rect x="194.9" y="138.4" width="5" height="5" fill="#fff" stroke="#000" stroke-width="0.8"/>
<rect x="218.9" y="120.6" width="5" height="5" fill="#fff" stroke="#000" stroke-width="0.8"/>
<rect x="243.0" y="115.0" width="5" height="5" fill="#fff" stroke="#000" stroke-width="0.8"/>
<path d="M77.2 175.3 L80.3 180.7 L74.1 180.7Z" fill="#fff" stroke="#000" stroke-width="0.8"/>
<path d="M101.2 173.7 L104.3 179.1 L98.1 179.1Z" fill="#fff" stroke="#000" stroke-width="0.8"/>
<path d="M125.3 155.3 L128.4 160.7 L122.2 160.7Z" fill="#fff" stroke="#000" stroke-width="0.8"/>
<path d="M149.3 150.0 L152.4 155.4 L146.2 155.4Z" fill="#fff" stroke="#000" stroke-width="0.8"/>
<path d="M173.4 149.4 L176.5 154.8 L170.3 154.8Z" fill="#fff" stroke="#000" stroke-width="0.8"/>
<path d="M197.4 141.4 L200.5 146.8 L194.3 146.8Z" fill="#fff" stroke="#000" stroke-width="0.8"/>
<path d="M221.4 131.6 L224.5 137.0 L218.3 137.0Z" fill="#fff" stroke="#000" stroke-width="0.8"/>
<path d="M245.5 131.6 L248.6 137.0 L242.4 137.0Z" fill="#fff" stroke="#000" stroke-width="0.8"/>
<path d="M269.5 129.7 L272.6 135.1 L266.4 135.1Z" fill="#fff" stroke="#000" stroke-width="0.8"/>
<path d="M293.6 126.6 L296.7 132.0 L290.5 132.0Z" fill="#fff" stroke="#000" stroke-width="0.8"/>
<path d="M317.6 123.0 L320.7 128.4 L314.5 128.4Z" fill="#fff" stroke="#000" stroke-width="0.8"/>
<path d="M341.6 115.3 L344.7 120.7 L338.5 120.7Z" fill="#fff" stroke="#000" stroke-width="0.8"/>
<text transform="translate(364.2,24) scale(1.12,1)" font-size="14.6" font-weight="bold">B</text>
<text x="416.3" y="23.5" font-size="12.2" text-anchor="start" font-weight="bold" >Day12</text>
<g clip-path="url(#cp1)">
<rect x="376" y="30" width="123" height="73" fill="url(#bg1)"/>
<g filter="url(#bl2)">
<path d="M370 44 C400 43.5 440 44.5 458 46 C468 50 474 58 479 67 C484 74 487 79 486 83 C484 87 478 88.5 472 88.5 C465 90 458 93 450 93 C430 92 400 90 370 89.5 Z" fill="url(#body1)"/>
<ellipse cx="464.5" cy="44" rx="9" ry="7" fill="#ecdcd6"/>
<ellipse cx="466" cy="45" rx="5" ry="4" fill="#e6c4bd"/>
<ellipse cx="477" cy="54" rx="3.5" ry="2" fill="#e9c6c2"/>
<ellipse cx="473" cy="82.5" rx="2.5" ry="1.8" fill="#d9a8a8"/>
<ellipse cx="455" cy="92.5" rx="4" ry="2" fill="#e8cfc9"/>
</g>
<ellipse cx="452" cy="70" rx="12" ry="14" fill="url(#shade)"/>
<ellipse cx="434.5" cy="64.5" rx="15" ry="15" fill="url(#pink1)"/>
<path d="M484 80 Q492 70 500 58 M485 82 Q493 76 500 70 M484 84 Q492 92 499 100 M481 86 Q486 95 489 103 M476 88 Q478 96 480 103 M470 89 Q468 96 466 103 M483 78 Q490 60 494 44" stroke="#9aa2a8" stroke-width="0.5" fill="none" opacity="0.35"/>
<ellipse cx="425" cy="82" rx="18" ry="5" fill="url(#shade)"/>
</g>
<g clip-path="url(#cp2)">
<rect x="376" y="103" width="123" height="74" fill="url(#bg2)"/>
<rect x="376" y="103" width="123" height="16" fill="url(#bg2h)"/>
<g filter="url(#bl2)">
<path d="M370 112 C385 112 395 116 405 117 C415 115 425 113 440 114 C450 115 460 117 465 120 C472 128 479 138 485 147 C486 151 482 153 476 153 C470 154 463 158 455 160 C440 161 420 163 403 164.5 C396 166 390 171 384 175 C380 177 376 178 370 178 Z" fill="url(#body2)"/>
<ellipse cx="452.5" cy="114.5" rx="10" ry="6.5" fill="#ecd3ca"/>
<ellipse cx="454" cy="115" rx="6" ry="4" fill="#e8bfb5"/>
<ellipse cx="450" cy="153.5" rx="10.5" ry="6.5" fill="#ecd0c6"/>
<ellipse cx="410" cy="150" rx="22" ry="10" fill="url(#shade)"/>
<ellipse cx="439.5" cy="135.5" rx="10.5" ry="12.5" fill="url(#tum)"/>
<ellipse cx="410" cy="129" rx="6" ry="3" fill="#eccccc"/>
</g>
<path d="M483 146 Q491 134 499 124 M484 148 Q492 142 499 138 M484 150 Q492 158 499 166 M481 152 Q487 162 491 176 M477 153 Q480 165 481 176 M470 155 Q467 166 465 176 M482 144 Q488 126 492 110" stroke="#9aa2a8" stroke-width="0.5" fill="none" opacity="0.35"/>
</g>
<text transform="translate(16.9,240.3) scale(1.1,1)" font-size="15.2" font-weight="bold">C</text>
<text x="105.3" y="236.9" font-size="8.3" text-anchor="middle" font-weight="bold" >Control</text>
<text x="105.2" y="246.8" font-size="8.3" text-anchor="middle" font-weight="bold" >Vehicle</text>
<text x="200.3" y="243.4" font-size="8.4" text-anchor="middle" font-weight="bold" >30mg/kg</text>
<text x="46.5" y="298" font-size="11.6" text-anchor="end" font-weight="bold" >H&amp;E</text>
<text x="46" y="383.8" font-size="11.5" text-anchor="end" font-weight="bold" >P-AKT</text>
<text x="46.5" y="467" font-size="11.6" text-anchor="end" font-weight="bold" >CD31</text>
<g clip-path="url(#cc1)">
<rect x="56" y="254" width="92" height="73" fill="#de8884"/>
<g filter="url(#bl06)"><path fill="#f4de80" d="M48.4 250.5a2.4 2.4 0 1 0 4.7 0a2.4 2.4 0 1 0 -4.7 0M90.5 250.5a1.9 1.9 0 1 0 3.8 0a1.9 1.9 0 1 0 -3.8 0M110.5 248.9a2.2 2.2 0 1 0 4.3 0a2.2 2.2 0 1 0 -4.3 0M57.1 254.1a2.8 2.8 0 1 0 5.5 0a2.8 2.8 0 1 0 -5.5 0M76.8 254.5a2.4 2.4 0 1 0 4.7 0a2.4 2.4 0 1 0 -4.7 0M98.1 254.6a2.2 2.2 0 1 0 4.4 0a2.2 2.2 0 1 0 -4.4 0M104.6 254.3a2.9 2.9 0 1 0 5.9 0a2.9 2.9 0 1 0 -5.9 0M107.7 254.1a2.7 2.7 0 1 0 5.4 0a2.7 2.7 0 1 0 -5.4 0M48.9 258.0a2.6 2.6 0 1 0 5.2 0a2.6 2.6 0 1 0 -5.2 0M117.2 258.6a2.4 2.4 0 1 0 4.9 0a2.4 2.4 0 1 0 -4.9 0M127.8 255.6a2.0 2.0 0 1 0 3.9 0a2.0 2.0 0 1 0 -3.9 0M58.2 262.6a2.2 2.2 0 1 0 4.4 0a2.2 2.2 0 1 0 -4.4 0M60.5 262.4a1.9 1.9 0 1 0 3.7 0a1.9 1.9 0 1 0 -3.7 0M79.7 260.3a2.3 2.3 0 1 0 4.5 0a2.3 2.3 0 1 0 -4.5 0M109.5 262.5a2.7 2.7 0 1 0 5.4 0a2.7 2.7 0 1 0 -5.4 0M138.0 260.9a2.2 2.2 0 1 0 4.4 0a2.2 2.2 0 1 0 -4.4 0M49.4 265.3a2.3 2.3 0 1 0 4.6 0a2.3 2.3 0 1 0 -4.6 0M74.2 267.2a2.4 2.4 0 1 0 4.8 0a2.4 2.4 0 1 0 -4.8 0M123.2 264.6a2.7 2.7 0 1 0 5.3 0a2.7 2.7 0 1 0 -5.3 0M55.4 272.1a2.8 2.8 0 1 0 5.7 0a2.8 2.8 0 1 0 -5.7 0M72.0 271.8a2.6 2.6 0 1 0 5.1 0a2.6 2.6 0 1 0 -5.1 0M87.3 268.1a2.0 2.0 0 1 0 4.1 0a2.0 2.0 0 1 0 -4.1 0M115.3 270.9a2.6 2.6 0 1 0 5.2 0a2.6 2.6 0 1 0 -5.2 0M119.3 269.9a2.1 2.1 0 1 0 4.2 0a2.1 2.1 0 1 0 -4.2 0M131.7 272.2a2.2 2.2 0 1 0 4.4 0a2.2 2.2 0 1 0 -4.4 0M59.1 274.3a2.4 2.4 0 1 0 4.9 0a2.4 2.4 0 1 0 -4.9 0M76.7 272.6a2.6 2.6 0 1 0 5.2 0a2.6 2.6 0 1 0 -5.2 0M101.7 275.6a1.8 1.8 0 1 0 3.7 0a1.8 1.8 0 1 0 -3.7 0M116.4 272.2a2.7 2.7 0 1 0 5.4 0a2.7 2.7 0 1 0 -5.4 0M132.1 272.3a1.9 1.9 0 1 0 3.8 0a1.9 1.9 0 1 0 -3.8 0M141.8 273.8a2.5 2.5 0 1 0 5.0 0a2.5 2.5 0 1 0 -5.0 0M148.5 274.8a2.2 2.2 0 1 0 4.4 0a2.2 2.2 0 1 0 -4.4 0M63.5 279.3a1.8 1.8 0 1 0 3.6 0a1.8 1.8 0 1 0 -3.6 0M68.6 279.3a2.7 2.7 0 1 0 5.4 0a2.7 2.7 0 1 0 -5.4 0M93.3 276.8a2.4 2.4 0 1 0 4.8 0a2.4 2.4 0 1 0 -4.8 0M102.7 276.5a2.2 2.2 0 1 0 4.3 0a2.2 2.2 0 1 0 -4.3 0M109.6 278.8a2.1 2.1 0 1 0 4.2 0a2.1 2.1 0 1 0 -4.2 0M126.1 278.7a2.2 2.2 0 1 0 4.3 0a2.2 2.2 0 1 0 -4.3 0M63.2 281.9a2.3 2.3 0 1 0 4.6 0a2.3 2.3 0 1 0 -4.6 0M120.7 282.0a2.4 2.4 0 1 0 4.7 0a2.4 2.4 0 1 0 -4.7 0M127.7 283.6a2.4 2.4 0 1 0 4.8 0a2.4 2.4 0 1 0 -4.8 0M128.3 281.3a3.0 3.0 0 1 0 6.0 0a3.0 3.0 0 1 0 -6.0 0M59.7 285.8a2.3 2.3 0 1 0 4.6 0a2.3 2.3 0 1 0 -4.6 0M71.9 287.3a2.8 2.8 0 1 0 5.6 0a2.8 2.8 0 1 0 -5.6 0M67.2 290.8a2.7 2.7 0 1 0 5.5 0a2.7 2.7 0 1 0 -5.5 0M97.3 292.2a1.8 1.8 0 1 0 3.7 0a1.8 1.8 0 1 0 -3.7 0M141.0 291.3a1.8 1.8 0 1 0 3.6 0a1.8 1.8 0 1 0 -3.6 0M52.6 296.7a2.5 2.5 0 1 0 4.9 0a2.5 2.5 0 1 0 -4.9 0M54.6 295.9a1.9 1.9 0 1 0 3.8 0a1.9 1.9 0 1 0 -3.8 0M76.9 294.9a2.3 2.3 0 1 0 4.6 0a2.3 2.3 0 1 0 -4.6 0M96.2 294.0a2.6 2.6 0 1 0 5.1 0a2.6 2.6 0 1 0 -5.1 0M99.6 293.3a1.9 1.9 0 1 0 3.7 0a1.9 1.9 0 1 0 -3.7 0M108.9 297.1a2.2 2.2 0 1 0 4.3 0a2.2 2.2 0 1 0 -4.3 0M128.2 294.2a2.7 2.7 0 1 0 5.4 0a2.7 2.7 0 1 0 -5.4 0M95.7 297.7a2.4 2.4 0 1 0 4.9 0a2.4 2.4 0 1 0 -4.9 0M71.6 302.0a2.3 2.3 0 1 0 4.7 0a2.3 2.3 0 1 0 -4.7 0M90.3 304.3a2.5 2.5 0 1 0 5.0 0a2.5 2.5 0 1 0 -5.0 0M101.6 304.3a2.7 2.7 0 1 0 5.3 0a2.7 2.7 0 1 0 -5.3 0M119.4 303.5a1.9 1.9 0 1 0 3.9 0a1.9 1.9 0 1 0 -3.9 0M139.1 304.6a2.6 2.6 0 1 0 5.3 0a2.6 2.6 0 1 0 -5.3 0M145.3 305.1a2.4 2.4 0 1 0 4.7 0a2.4 2.4 0 1 0 -4.7 0M55.2 308.6a2.5 2.5 0 1 0 4.9 0a2.5 2.5 0 1 0 -4.9 0M70.7 309.8a2.5 2.5 0 1 0 4.9 0a2.5 2.5 0 1 0 -4.9 0M88.0 308.7a2.3 2.3 0 1 0 4.5 0a2.3 2.3 0 1 0 -4.5 0M128.6 306.8a2.7 2.7 0 1 0 5.4 0a2.7 2.7 0 1 0 -5.4 0M151.0 309.8a2.5 2.5 0 1 0 5.0 0a2.5 2.5 0 1 0 -5.0 0M52.6 311.0a2.0 2.0 0 1 0 3.9 0a2.0 2.0 0 1 0 -3.9 0M101.0 310.5a2.2 2.2 0 1 0 4.5 0a2.2 2.2 0 1 0 -4.5 0M135.2 312.7a2.7 2.7 0 1 0 5.4 0a2.7 2.7 0 1 0 -5.4 0M53.1 317.3a1.9 1.9 0 1 0 3.8 0a1.9 1.9 0 1 0 -3.8 0M64.1 315.2a2.5 2.5 0 1 0 5.0 0a2.5 2.5 0 1 0 -5.0 0M76.5 316.3a2.4 2.4 0 1 0 4.8 0a2.4 2.4 0 1 0 -4.8 0M118.4 318.0a2.1 2.1 0 1 0 4.3 0a2.1 2.1 0 1 0 -4.3 0M127.0 317.9a2.1 2.1 0 1 0 4.3 0a2.1 2.1 0 1 0 -4.3 0M134.8 320.2a2.5 2.5 0 1 0 4.9 0a2.5 2.5 0 1 0 -4.9 0M55.5 326.2a2.0 2.0 0 1 0 4.0 0a2.0 2.0 0 1 0 -4.0 0M79.6 324.8a1.9 1.9 0 1 0 3.9 0a1.9 1.9 0 1 0 -3.9 0M98.1 323.9a2.1 2.1 0 1 0 4.2 0a2.1 2.1 0 1 0 -4.2 0M119.3 323.0a2.3 2.3 0 1 0 4.7 0a2.3 2.3 0 1 0 -4.7 0M142.2 325.9a2.0 2.0 0 1 0 4.0 0a2.0 2.0 0 1 0 -4.0 0M67.1 328.8a2.9 2.9 0 1 0 5.8 0a2.9 2.9 0 1 0 -5.8 0M92.4 330.0a2.9 2.9 0 1 0 5.8 0a2.9 2.9 0 1 0 -5.8 0M119.5 327.3a1.9 1.9 0 1 0 3.9 0a1.9 1.9 0 1 0 -3.9 0M130.7 328.0a2.5 2.5 0 1 0 5.1 0a2.5 2.5 0 1 0 -5.1 0"/><path fill="#f0d674" d="M73.9 251.2a2.7 2.7 0 1 0 5.4 0a2.7 2.7 0 1 0 -5.4 0M84.4 247.3a2.0 2.0 0 1 0 4.1 0a2.0 2.0 0 1 0 -4.1 0M129.0 250.2a2.1 2.1 0 1 0 4.3 0a2.1 2.1 0 1 0 -4.3 0M143.7 248.3a2.0 2.0 0 1 0 4.0 0a2.0 2.0 0 1 0 -4.0 0M61.3 253.5a2.1 2.1 0 1 0 4.3 0a2.1 2.1 0 1 0 -4.3 0M146.2 252.5a2.5 2.5 0 1 0 5.0 0a2.5 2.5 0 1 0 -5.0 0M82.1 258.3a2.9 2.9 0 1 0 5.8 0a2.9 2.9 0 1 0 -5.8 0M110.4 257.0a1.9 1.9 0 1 0 3.9 0a1.9 1.9 0 1 0 -3.9 0M141.3 257.7a2.4 2.4 0 1 0 4.7 0a2.4 2.4 0 1 0 -4.7 0M111.8 262.0a2.8 2.8 0 1 0 5.6 0a2.8 2.8 0 1 0 -5.6 0M127.8 263.3a2.6 2.6 0 1 0 5.2 0a2.6 2.6 0 1 0 -5.2 0M78.2 266.7a2.3 2.3 0 1 0 4.7 0a2.3 2.3 0 1 0 -4.7 0M104.8 267.7a2.8 2.8 0 1 0 5.7 0a2.8 2.8 0 1 0 -5.7 0M114.4 265.7a2.9 2.9 0 1 0 5.8 0a2.9 2.9 0 1 0 -5.8 0M128.3 267.2a3.0 3.0 0 1 0 5.9 0a3.0 3.0 0 1 0 -5.9 0M81.3 274.1a2.9 2.9 0 1 0 5.7 0a2.9 2.9 0 1 0 -5.7 0M102.8 284.7a2.8 2.8 0 1 0 5.5 0a2.8 2.8 0 1 0 -5.5 0M101.9 285.1a2.7 2.7 0 1 0 5.5 0a2.7 2.7 0 1 0 -5.5 0M114.6 286.6a1.8 1.8 0 1 0 3.6 0a1.8 1.8 0 1 0 -3.6 0M142.5 286.7a2.4 2.4 0 1 0 4.7 0a2.4 2.4 0 1 0 -4.7 0M71.5 292.3a2.6 2.6 0 1 0 5.1 0a2.6 2.6 0 1 0 -5.1 0M76.1 290.0a2.4 2.4 0 1 0 4.7 0a2.4 2.4 0 1 0 -4.7 0M83.0 289.1a2.0 2.0 0 1 0 4.1 0a2.0 2.0 0 1 0 -4.1 0M87.4 291.6a2.5 2.5 0 1 0 5.0 0a2.5 2.5 0 1 0 -5.0 0M90.4 290.9a2.5 2.5 0 1 0 5.1 0a2.5 2.5 0 1 0 -5.1 0M111.4 291.9a2.9 2.9 0 1 0 5.8 0a2.9 2.9 0 1 0 -5.8 0M117.0 290.5a2.3 2.3 0 1 0 4.6 0a2.3 2.3 0 1 0 -4.6 0M119.9 290.3a2.1 2.1 0 1 0 4.2 0a2.1 2.1 0 1 0 -4.2 0M132.7 292.8a2.1 2.1 0 1 0 4.2 0a2.1 2.1 0 1 0 -4.2 0M62.9 295.6a2.1 2.1 0 1 0 4.2 0a2.1 2.1 0 1 0 -4.2 0M65.7 293.8a3.0 3.0 0 1 0 5.9 0a3.0 3.0 0 1 0 -5.9 0M121.3 295.3a2.6 2.6 0 1 0 5.1 0a2.6 2.6 0 1 0 -5.1 0M131.8 296.5a2.2 2.2 0 1 0 4.4 0a2.2 2.2 0 1 0 -4.4 0M57.2 300.6a2.1 2.1 0 1 0 4.2 0a2.1 2.1 0 1 0 -4.2 0M74.0 297.7a1.9 1.9 0 1 0 3.7 0a1.9 1.9 0 1 0 -3.7 0M116.6 299.3a1.9 1.9 0 1 0 3.8 0a1.9 1.9 0 1 0 -3.8 0M123.5 298.6a1.8 1.8 0 1 0 3.7 0a1.8 1.8 0 1 0 -3.7 0M131.5 297.9a2.3 2.3 0 1 0 4.5 0a2.3 2.3 0 1 0 -4.5 0M136.2 298.8a2.3 2.3 0 1 0 4.6 0a2.3 2.3 0 1 0 -4.6 0M143.4 299.2a2.6 2.6 0 1 0 5.1 0a2.6 2.6 0 1 0 -5.1 0M50.8 303.9a2.4 2.4 0 1 0 4.8 0a2.4 2.4 0 1 0 -4.8 0M79.4 302.8a2.4 2.4 0 1 0 4.9 0a2.4 2.4 0 1 0 -4.9 0M107.1 304.2a2.2 2.2 0 1 0 4.5 0a2.2 2.2 0 1 0 -4.5 0M143.4 307.5a2.7 2.7 0 1 0 5.4 0a2.7 2.7 0 1 0 -5.4 0M57.7 313.0a2.1 2.1 0 1 0 4.2 0a2.1 2.1 0 1 0 -4.2 0M61.0 310.8a3.0 3.0 0 1 0 5.9 0a3.0 3.0 0 1 0 -5.9 0M70.9 311.0a3.0 3.0 0 1 0 5.9 0a3.0 3.0 0 1 0 -5.9 0M78.4 311.2a2.5 2.5 0 1 0 5.1 0a2.5 2.5 0 1 0 -5.1 0M95.1 313.0a3.0 3.0 0 1 0 6.0 0a3.0 3.0 0 1 0 -6.0 0M148.8 310.7a2.3 2.3 0 1 0 4.5 0a2.3 2.3 0 1 0 -4.5 0M90.7 317.4a2.8 2.8 0 1 0 5.5 0a2.8 2.8 0 1 0 -5.5 0M147.0 314.5a2.8 2.8 0 1 0 5.7 0a2.8 2.8 0 1 0 -5.7 0M71.7 318.1a2.4 2.4 0 1 0 4.8 0a2.4 2.4 0 1 0 -4.8 0M86.3 319.1a2.4 2.4 0 1 0 4.8 0a2.4 2.4 0 1 0 -4.8 0M99.9 320.9a2.1 2.1 0 1 0 4.2 0a2.1 2.1 0 1 0 -4.2 0M105.6 318.0a2.6 2.6 0 1 0 5.3 0a2.6 2.6 0 1 0 -5.3 0M108.5 320.3a2.0 2.0 0 1 0 3.9 0a2.0 2.0 0 1 0 -3.9 0M147.7 325.6a2.6 2.6 0 1 0 5.2 0a2.6 2.6 0 1 0 -5.2 0M60.1 326.7a2.1 2.1 0 1 0 4.2 0a2.1 2.1 0 1 0 -4.2 0M111.0 329.1a2.1 2.1 0 1 0 4.2 0a2.1 2.1 0 1 0 -4.2 0M135.7 330.2a2.5 2.5 0 1 0 5.1 0a2.5 2.5 0 1 0 -5.1 0M141.7 326.5a2.3 2.3 0 1 0 4.7 0a2.3 2.3 0 1 0 -4.7 0"/><path fill="#f4e498" d="M55.0 249.7a2.9 2.9 0 1 0 5.8 0a2.9 2.9 0 1 0 -5.8 0M60.3 247.5a2.5 2.5 0 1 0 4.9 0a2.5 2.5 0 1 0 -4.9 0M115.5 250.9a2.0 2.0 0 1 0 3.9 0a2.0 2.0 0 1 0 -3.9 0M136.6 249.7a2.9 2.9 0 1 0 5.9 0a2.9 2.9 0 1 0 -5.9 0M65.8 254.6a2.2 2.2 0 1 0 4.4 0a2.2 2.2 0 1 0 -4.4 0M81.8 253.5a2.5 2.5 0 1 0 5.1 0a2.5 2.5 0 1 0 -5.1 0M94.4 254.1a1.9 1.9 0 1 0 3.9 0a1.9 1.9 0 1 0 -3.9 0M120.4 251.9a2.0 2.0 0 1 0 4.1 0a2.0 2.0 0 1 0 -4.1 0M71.7 257.2a2.1 2.1 0 1 0 4.1 0a2.1 2.1 0 1 0 -4.1 0M87.5 259.6a1.9 1.9 0 1 0 3.8 0a1.9 1.9 0 1 0 -3.8 0M121.5 259.7a2.5 2.5 0 1 0 4.9 0a2.5 2.5 0 1 0 -4.9 0M145.0 258.0a2.2 2.2 0 1 0 4.3 0a2.2 2.2 0 1 0 -4.3 0M66.7 260.6a2.1 2.1 0 1 0 4.2 0a2.1 2.1 0 1 0 -4.2 0M99.6 260.1a2.9 2.9 0 1 0 5.7 0a2.9 2.9 0 1 0 -5.7 0M135.4 264.8a2.1 2.1 0 1 0 4.1 0a2.1 2.1 0 1 0 -4.1 0M64.8 270.5a1.8 1.8 0 1 0 3.6 0a1.8 1.8 0 1 0 -3.6 0M76.5 271.4a2.6 2.6 0 1 0 5.1 0a2.6 2.6 0 1 0 -5.1 0M67.8 275.5a2.0 2.0 0 1 0 4.0 0a2.0 2.0 0 1 0 -4.0 0M105.5 273.7a3.0 3.0 0 1 0 5.9 0a3.0 3.0 0 1 0 -5.9 0M121.3 274.7a1.9 1.9 0 1 0 3.7 0a1.9 1.9 0 1 0 -3.7 0M135.2 274.5a2.8 2.8 0 1 0 5.7 0a2.8 2.8 0 1 0 -5.7 0M146.7 272.5a1.9 1.9 0 1 0 3.8 0a1.9 1.9 0 1 0 -3.8 0M50.8 279.8a2.0 2.0 0 1 0 3.9 0a2.0 2.0 0 1 0 -3.9 0M57.3 276.9a2.1 2.1 0 1 0 4.3 0a2.1 2.1 0 1 0 -4.3 0M85.5 278.4a2.0 2.0 0 1 0 4.0 0a2.0 2.0 0 1 0 -4.0 0M118.6 278.4a2.9 2.9 0 1 0 5.8 0a2.9 2.9 0 1 0 -5.8 0M50.0 284.7a2.3 2.3 0 1 0 4.7 0a2.3 2.3 0 1 0 -4.7 0M70.6 282.7a2.5 2.5 0 1 0 5.0 0a2.5 2.5 0 1 0 -5.0 0M75.1 282.5a2.8 2.8 0 1 0 5.5 0a2.8 2.8 0 1 0 -5.5 0M80.8 280.9a2.8 2.8 0 1 0 5.7 0a2.8 2.8 0 1 0 -5.7 0M115.3 282.5a2.0 2.0 0 1 0 4.0 0a2.0 2.0 0 1 0 -4.0 0M142.0 283.8a2.1 2.1 0 1 0 4.2 0a2.1 2.1 0 1 0 -4.2 0M128.6 287.2a2.6 2.6 0 1 0 5.2 0a2.6 2.6 0 1 0 -5.2 0M103.8 292.2a2.8 2.8 0 1 0 5.7 0a2.8 2.8 0 1 0 -5.7 0M137.3 289.4a1.9 1.9 0 1 0 3.7 0a1.9 1.9 0 1 0 -3.7 0M149.8 291.9a2.7 2.7 0 1 0 5.3 0a2.7 2.7 0 1 0 -5.3 0M67.8 295.2a2.9 2.9 0 1 0 5.7 0a2.9 2.9 0 1 0 -5.7 0M86.8 294.4a2.4 2.4 0 1 0 4.9 0a2.4 2.4 0 1 0 -4.9 0M87.7 293.8a2.6 2.6 0 1 0 5.2 0a2.6 2.6 0 1 0 -5.2 0M81.0 300.9a2.5 2.5 0 1 0 5.0 0a2.5 2.5 0 1 0 -5.0 0M148.4 297.3a2.7 2.7 0 1 0 5.5 0a2.7 2.7 0 1 0 -5.5 0M58.5 307.8a2.2 2.2 0 1 0 4.5 0a2.2 2.2 0 1 0 -4.5 0M61.1 307.6a2.8 2.8 0 1 0 5.6 0a2.8 2.8 0 1 0 -5.6 0M127.2 309.9a2.8 2.8 0 1 0 5.7 0a2.8 2.8 0 1 0 -5.7 0M131.1 310.2a2.7 2.7 0 1 0 5.4 0a2.7 2.7 0 1 0 -5.4 0M48.2 314.7a2.5 2.5 0 1 0 5.0 0a2.5 2.5 0 1 0 -5.0 0M87.7 314.3a2.7 2.7 0 1 0 5.4 0a2.7 2.7 0 1 0 -5.4 0M78.7 319.1a1.9 1.9 0 1 0 3.9 0a1.9 1.9 0 1 0 -3.9 0M124.2 318.5a2.9 2.9 0 1 0 5.8 0a2.9 2.9 0 1 0 -5.8 0M90.1 324.6a2.2 2.2 0 1 0 4.4 0a2.2 2.2 0 1 0 -4.4 0M115.0 325.5a2.5 2.5 0 1 0 5.0 0a2.5 2.5 0 1 0 -5.0 0M136.3 324.3a2.5 2.5 0 1 0 5.0 0a2.5 2.5 0 1 0 -5.0 0M148.3 328.6a2.9 2.9 0 1 0 5.8 0a2.9 2.9 0 1 0 -5.8 0"/></g>
<rect x="56" y="254" width="92" height="73" fill="url(#phe1)" filter="url(#bl04)"/>
</g>
<g clip-path="url(#cc2)">
<rect x="154" y="254" width="92" height="73" fill="#eca09c"/>
<g filter="url(#bl06)"><path fill="#f4e2bc" d="M156.1 250.5a3.0 3.0 0 1 0 6.0 0a3.0 3.0 0 1 0 -6.0 0M164.7 248.4a2.1 2.1 0 1 0 4.2 0a2.1 2.1 0 1 0 -4.2 0M205.0 246.9a2.9 2.9 0 1 0 5.8 0a2.9 2.9 0 1 0 -5.8 0M212.6 246.7a2.9 2.9 0 1 0 5.8 0a2.9 2.9 0 1 0 -5.8 0M220.3 249.0a2.1 2.1 0 1 0 4.1 0a2.1 2.1 0 1 0 -4.1 0M246.7 249.8a3.1 3.1 0 1 0 6.2 0a3.1 3.1 0 1 0 -6.2 0M149.7 255.7a3.3 3.3 0 1 0 6.6 0a3.3 3.3 0 1 0 -6.6 0M187.6 252.3a3.4 3.4 0 1 0 6.8 0a3.4 3.4 0 1 0 -6.8 0M180.9 256.8a2.6 2.6 0 1 0 5.3 0a2.6 2.6 0 1 0 -5.3 0M184.2 259.5a3.4 3.4 0 1 0 6.9 0a3.4 3.4 0 1 0 -6.9 0M193.6 259.2a2.5 2.5 0 1 0 4.9 0a2.5 2.5 0 1 0 -4.9 0M224.1 258.7a2.5 2.5 0 1 0 4.9 0a2.5 2.5 0 1 0 -4.9 0M172.5 261.5a3.0 3.0 0 1 0 6.0 0a3.0 3.0 0 1 0 -6.0 0M243.5 266.2a2.3 2.3 0 1 0 4.6 0a2.3 2.3 0 1 0 -4.6 0M158.8 271.2a2.8 2.8 0 1 0 5.6 0a2.8 2.8 0 1 0 -5.6 0M187.7 268.0a2.1 2.1 0 1 0 4.1 0a2.1 2.1 0 1 0 -4.1 0M190.4 266.7a3.2 3.2 0 1 0 6.4 0a3.2 3.2 0 1 0 -6.4 0M201.2 269.5a2.6 2.6 0 1 0 5.2 0a2.6 2.6 0 1 0 -5.2 0M210.6 268.6a2.1 2.1 0 1 0 4.2 0a2.1 2.1 0 1 0 -4.2 0M222.8 266.5a2.8 2.8 0 1 0 5.5 0a2.8 2.8 0 1 0 -5.5 0M229.1 270.9a3.0 3.0 0 1 0 5.9 0a3.0 3.0 0 1 0 -5.9 0M233.5 271.1a2.4 2.4 0 1 0 4.7 0a2.4 2.4 0 1 0 -4.7 0M150.0 276.5a3.3 3.3 0 1 0 6.7 0a3.3 3.3 0 1 0 -6.7 0M180.9 276.7a2.7 2.7 0 1 0 5.4 0a2.7 2.7 0 1 0 -5.4 0M183.0 275.7a2.4 2.4 0 1 0 4.9 0a2.4 2.4 0 1 0 -4.9 0M231.2 271.6a2.8 2.8 0 1 0 5.6 0a2.8 2.8 0 1 0 -5.6 0M174.8 278.1a2.0 2.0 0 1 0 4.1 0a2.0 2.0 0 1 0 -4.1 0M179.6 276.8a2.8 2.8 0 1 0 5.6 0a2.8 2.8 0 1 0 -5.6 0M187.4 277.3a3.0 3.0 0 1 0 5.9 0a3.0 3.0 0 1 0 -5.9 0M194.0 278.4a2.6 2.6 0 1 0 5.3 0a2.6 2.6 0 1 0 -5.3 0M234.0 278.1a3.2 3.2 0 1 0 6.5 0a3.2 3.2 0 1 0 -6.5 0M155.0 286.4a2.0 2.0 0 1 0 4.1 0a2.0 2.0 0 1 0 -4.1 0M162.6 282.8a2.7 2.7 0 1 0 5.3 0a2.7 2.7 0 1 0 -5.3 0M186.0 283.7a3.3 3.3 0 1 0 6.7 0a3.3 3.3 0 1 0 -6.7 0M189.8 285.2a3.3 3.3 0 1 0 6.6 0a3.3 3.3 0 1 0 -6.6 0M209.2 281.9a2.8 2.8 0 1 0 5.5 0a2.8 2.8 0 1 0 -5.5 0M220.0 284.3a3.0 3.0 0 1 0 5.9 0a3.0 3.0 0 1 0 -5.9 0M226.4 286.9a2.7 2.7 0 1 0 5.4 0a2.7 2.7 0 1 0 -5.4 0M238.4 282.3a2.1 2.1 0 1 0 4.3 0a2.1 2.1 0 1 0 -4.3 0M243.4 285.4a3.5 3.5 0 1 0 7.0 0a3.5 3.5 0 1 0 -7.0 0M143.8 290.8a3.1 3.1 0 1 0 6.1 0a3.1 3.1 0 1 0 -6.1 0M190.1 291.3a3.2 3.2 0 1 0 6.5 0a3.2 3.2 0 1 0 -6.5 0M224.4 289.4a3.1 3.1 0 1 0 6.2 0a3.1 3.1 0 1 0 -6.2 0M242.9 289.6a3.2 3.2 0 1 0 6.3 0a3.2 3.2 0 1 0 -6.3 0M246.3 289.6a3.5 3.5 0 1 0 6.9 0a3.5 3.5 0 1 0 -6.9 0M162.5 292.5a3.2 3.2 0 1 0 6.4 0a3.2 3.2 0 1 0 -6.4 0M240.1 293.3a3.0 3.0 0 1 0 6.0 0a3.0 3.0 0 1 0 -6.0 0M237.0 300.8a3.2 3.2 0 1 0 6.3 0a3.2 3.2 0 1 0 -6.3 0M152.3 306.0a2.8 2.8 0 1 0 5.6 0a2.8 2.8 0 1 0 -5.6 0M180.5 303.0a2.1 2.1 0 1 0 4.1 0a2.1 2.1 0 1 0 -4.1 0M191.8 307.0a3.4 3.4 0 1 0 6.8 0a3.4 3.4 0 1 0 -6.8 0M199.2 304.9a2.0 2.0 0 1 0 4.1 0a2.0 2.0 0 1 0 -4.1 0M201.2 307.7a3.4 3.4 0 1 0 6.9 0a3.4 3.4 0 1 0 -6.9 0M207.8 304.0a3.2 3.2 0 1 0 6.4 0a3.2 3.2 0 1 0 -6.4 0M238.2 303.6a2.9 2.9 0 1 0 5.7 0a2.9 2.9 0 1 0 -5.7 0M167.6 309.9a3.4 3.4 0 1 0 6.7 0a3.4 3.4 0 1 0 -6.7 0M176.1 311.7a3.5 3.5 0 1 0 6.9 0a3.5 3.5 0 1 0 -6.9 0M214.8 311.3a2.5 2.5 0 1 0 5.1 0a2.5 2.5 0 1 0 -5.1 0M214.3 318.2a2.9 2.9 0 1 0 5.8 0a2.9 2.9 0 1 0 -5.8 0M148.2 319.3a2.5 2.5 0 1 0 5.1 0a2.5 2.5 0 1 0 -5.1 0M158.3 322.4a2.8 2.8 0 1 0 5.6 0a2.8 2.8 0 1 0 -5.6 0M201.7 321.0a2.6 2.6 0 1 0 5.2 0a2.6 2.6 0 1 0 -5.2 0M247.4 319.6a2.6 2.6 0 1 0 5.2 0a2.6 2.6 0 1 0 -5.2 0M146.7 328.4a2.8 2.8 0 1 0 5.6 0a2.8 2.8 0 1 0 -5.6 0M182.6 328.8a3.1 3.1 0 1 0 6.2 0a3.1 3.1 0 1 0 -6.2 0M220.9 325.5a2.2 2.2 0 1 0 4.4 0a2.2 2.2 0 1 0 -4.4 0M234.2 326.1a2.2 2.2 0 1 0 4.5 0a2.2 2.2 0 1 0 -4.5 0M146.7 332.7a3.2 3.2 0 1 0 6.4 0a3.2 3.2 0 1 0 -6.4 0M174.5 328.9a2.3 2.3 0 1 0 4.7 0a2.3 2.3 0 1 0 -4.7 0M179.1 332.5a2.9 2.9 0 1 0 5.7 0a2.9 2.9 0 1 0 -5.7 0M184.9 333.8a2.8 2.8 0 1 0 5.5 0a2.8 2.8 0 1 0 -5.5 0M197.0 330.4a3.1 3.1 0 1 0 6.3 0a3.1 3.1 0 1 0 -6.3 0M216.2 334.0a2.1 2.1 0 1 0 4.1 0a2.1 2.1 0 1 0 -4.1 0M244.9 332.8a3.4 3.4 0 1 0 6.7 0a3.4 3.4 0 1 0 -6.7 0"/><path fill="#f6e8c8" d="M151.3 246.3a2.6 2.6 0 1 0 5.2 0a2.6 2.6 0 1 0 -5.2 0M170.7 250.4a3.3 3.3 0 1 0 6.6 0a3.3 3.3 0 1 0 -6.6 0M175.0 250.4a3.1 3.1 0 1 0 6.3 0a3.1 3.1 0 1 0 -6.3 0M185.9 246.9a2.4 2.4 0 1 0 4.9 0a2.4 2.4 0 1 0 -4.9 0M194.7 246.6a2.0 2.0 0 1 0 4.1 0a2.0 2.0 0 1 0 -4.1 0M223.5 247.8a3.3 3.3 0 1 0 6.6 0a3.3 3.3 0 1 0 -6.6 0M154.6 254.3a3.3 3.3 0 1 0 6.6 0a3.3 3.3 0 1 0 -6.6 0M162.8 255.1a2.6 2.6 0 1 0 5.1 0a2.6 2.6 0 1 0 -5.1 0M171.7 251.0a2.9 2.9 0 1 0 5.9 0a2.9 2.9 0 1 0 -5.9 0M177.9 255.8a3.4 3.4 0 1 0 6.8 0a3.4 3.4 0 1 0 -6.8 0M212.9 255.8a3.1 3.1 0 1 0 6.1 0a3.1 3.1 0 1 0 -6.1 0M234.0 253.1a2.3 2.3 0 1 0 4.5 0a2.3 2.3 0 1 0 -4.5 0M238.1 251.9a2.8 2.8 0 1 0 5.7 0a2.8 2.8 0 1 0 -5.7 0M150.7 257.8a2.4 2.4 0 1 0 4.8 0a2.4 2.4 0 1 0 -4.8 0M162.1 258.7a3.0 3.0 0 1 0 6.0 0a3.0 3.0 0 1 0 -6.0 0M198.1 260.5a3.0 3.0 0 1 0 6.0 0a3.0 3.0 0 1 0 -6.0 0M205.1 260.3a3.3 3.3 0 1 0 6.7 0a3.3 3.3 0 1 0 -6.7 0M209.3 259.3a2.5 2.5 0 1 0 5.0 0a2.5 2.5 0 1 0 -5.0 0M236.1 260.4a2.7 2.7 0 1 0 5.3 0a2.7 2.7 0 1 0 -5.3 0M240.1 259.3a2.1 2.1 0 1 0 4.2 0a2.1 2.1 0 1 0 -4.2 0M158.0 262.5a2.6 2.6 0 1 0 5.3 0a2.6 2.6 0 1 0 -5.3 0M197.2 262.3a2.0 2.0 0 1 0 4.0 0a2.0 2.0 0 1 0 -4.0 0M208.8 264.7a2.2 2.2 0 1 0 4.3 0a2.2 2.2 0 1 0 -4.3 0M216.2 263.0a3.1 3.1 0 1 0 6.1 0a3.1 3.1 0 1 0 -6.1 0M218.9 262.1a2.9 2.9 0 1 0 5.8 0a2.9 2.9 0 1 0 -5.8 0M225.6 262.5a3.2 3.2 0 1 0 6.3 0a3.2 3.2 0 1 0 -6.3 0M233.6 263.9a3.1 3.1 0 1 0 6.1 0a3.1 3.1 0 1 0 -6.1 0M236.6 262.6a3.2 3.2 0 1 0 6.4 0a3.2 3.2 0 1 0 -6.4 0M153.3 268.6a2.8 2.8 0 1 0 5.6 0a2.8 2.8 0 1 0 -5.6 0M163.8 266.7a2.8 2.8 0 1 0 5.6 0a2.8 2.8 0 1 0 -5.6 0M169.2 270.5a3.3 3.3 0 1 0 6.6 0a3.3 3.3 0 1 0 -6.6 0M182.0 270.7a2.7 2.7 0 1 0 5.5 0a2.7 2.7 0 1 0 -5.5 0M204.3 270.2a3.3 3.3 0 1 0 6.6 0a3.3 3.3 0 1 0 -6.6 0M217.9 268.5a3.3 3.3 0 1 0 6.6 0a3.3 3.3 0 1 0 -6.6 0M215.6 271.6a2.4 2.4 0 1 0 4.8 0a2.4 2.4 0 1 0 -4.8 0M221.3 274.1a2.3 2.3 0 1 0 4.5 0a2.3 2.3 0 1 0 -4.5 0M238.0 273.0a2.7 2.7 0 1 0 5.3 0a2.7 2.7 0 1 0 -5.3 0M242.4 272.9a2.1 2.1 0 1 0 4.2 0a2.1 2.1 0 1 0 -4.2 0M143.4 277.0a2.0 2.0 0 1 0 4.0 0a2.0 2.0 0 1 0 -4.0 0M155.5 276.9a2.8 2.8 0 1 0 5.5 0a2.8 2.8 0 1 0 -5.5 0M161.1 279.2a2.3 2.3 0 1 0 4.7 0a2.3 2.3 0 1 0 -4.7 0M205.5 280.6a3.5 3.5 0 1 0 6.9 0a3.5 3.5 0 1 0 -6.9 0M219.3 278.5a2.1 2.1 0 1 0 4.3 0a2.1 2.1 0 1 0 -4.3 0M148.3 282.4a2.6 2.6 0 1 0 5.2 0a2.6 2.6 0 1 0 -5.2 0M195.7 286.1a3.5 3.5 0 1 0 6.9 0a3.5 3.5 0 1 0 -6.9 0M230.0 284.3a3.0 3.0 0 1 0 6.0 0a3.0 3.0 0 1 0 -6.0 0M157.3 289.3a3.0 3.0 0 1 0 6.0 0a3.0 3.0 0 1 0 -6.0 0M203.6 290.6a2.5 2.5 0 1 0 5.0 0a2.5 2.5 0 1 0 -5.0 0M229.3 289.4a2.4 2.4 0 1 0 4.9 0a2.4 2.4 0 1 0 -4.9 0M156.7 295.4a2.5 2.5 0 1 0 5.0 0a2.5 2.5 0 1 0 -5.0 0M184.5 296.3a2.5 2.5 0 1 0 5.0 0a2.5 2.5 0 1 0 -5.0 0M197.5 293.1a2.7 2.7 0 1 0 5.4 0a2.7 2.7 0 1 0 -5.4 0M201.9 294.7a2.7 2.7 0 1 0 5.4 0a2.7 2.7 0 1 0 -5.4 0M216.9 292.6a2.0 2.0 0 1 0 4.0 0a2.0 2.0 0 1 0 -4.0 0M243.8 295.4a3.2 3.2 0 1 0 6.4 0a3.2 3.2 0 1 0 -6.4 0M156.9 298.2a2.8 2.8 0 1 0 5.5 0a2.8 2.8 0 1 0 -5.5 0M194.2 301.2a2.5 2.5 0 1 0 5.1 0a2.5 2.5 0 1 0 -5.1 0M198.8 301.8a2.8 2.8 0 1 0 5.6 0a2.8 2.8 0 1 0 -5.6 0M209.7 298.5a3.4 3.4 0 1 0 6.7 0a3.4 3.4 0 1 0 -6.7 0M249.3 300.3a2.6 2.6 0 1 0 5.3 0a2.6 2.6 0 1 0 -5.3 0M231.4 303.2a2.9 2.9 0 1 0 5.7 0a2.9 2.9 0 1 0 -5.7 0M243.6 307.2a2.8 2.8 0 1 0 5.6 0a2.8 2.8 0 1 0 -5.6 0M142.6 308.2a3.3 3.3 0 1 0 6.6 0a3.3 3.3 0 1 0 -6.6 0M164.4 308.1a3.3 3.3 0 1 0 6.5 0a3.3 3.3 0 1 0 -6.5 0M180.0 309.5a3.2 3.2 0 1 0 6.5 0a3.2 3.2 0 1 0 -6.5 0M185.5 309.5a3.1 3.1 0 1 0 6.1 0a3.1 3.1 0 1 0 -6.1 0M198.0 309.7a3.4 3.4 0 1 0 6.8 0a3.4 3.4 0 1 0 -6.8 0M204.5 309.4a2.2 2.2 0 1 0 4.4 0a2.2 2.2 0 1 0 -4.4 0M211.0 310.1a3.5 3.5 0 1 0 6.9 0a3.5 3.5 0 1 0 -6.9 0M223.8 309.8a3.3 3.3 0 1 0 6.7 0a3.3 3.3 0 1 0 -6.7 0M246.8 310.5a3.3 3.3 0 1 0 6.6 0a3.3 3.3 0 1 0 -6.6 0M148.2 314.4a3.2 3.2 0 1 0 6.3 0a3.2 3.2 0 1 0 -6.3 0M158.2 317.2a2.4 2.4 0 1 0 4.8 0a2.4 2.4 0 1 0 -4.8 0M181.1 315.5a3.3 3.3 0 1 0 6.5 0a3.3 3.3 0 1 0 -6.5 0M188.3 313.6a3.2 3.2 0 1 0 6.5 0a3.2 3.2 0 1 0 -6.5 0M199.1 315.1a2.4 2.4 0 1 0 4.9 0a2.4 2.4 0 1 0 -4.9 0M222.6 313.8a2.6 2.6 0 1 0 5.3 0a2.6 2.6 0 1 0 -5.3 0M246.1 313.4a3.1 3.1 0 1 0 6.2 0a3.1 3.1 0 1 0 -6.2 0M167.1 323.4a2.6 2.6 0 1 0 5.3 0a2.6 2.6 0 1 0 -5.3 0M174.4 318.5a2.7 2.7 0 1 0 5.5 0a2.7 2.7 0 1 0 -5.5 0M185.4 320.5a2.1 2.1 0 1 0 4.3 0a2.1 2.1 0 1 0 -4.3 0M204.3 319.2a2.8 2.8 0 1 0 5.7 0a2.8 2.8 0 1 0 -5.7 0M217.4 319.6a3.0 3.0 0 1 0 6.0 0a3.0 3.0 0 1 0 -6.0 0M223.4 319.6a2.3 2.3 0 1 0 4.6 0a2.3 2.3 0 1 0 -4.6 0M228.2 318.6a2.6 2.6 0 1 0 5.3 0a2.6 2.6 0 1 0 -5.3 0M236.2 320.9a2.3 2.3 0 1 0 4.6 0a2.3 2.3 0 1 0 -4.6 0M174.3 326.9a3.1 3.1 0 1 0 6.2 0a3.1 3.1 0 1 0 -6.2 0M169.5 333.4a2.9 2.9 0 1 0 5.7 0a2.9 2.9 0 1 0 -5.7 0M202.6 331.5a2.8 2.8 0 1 0 5.6 0a2.8 2.8 0 1 0 -5.6 0M209.1 332.4a3.5 3.5 0 1 0 6.9 0a3.5 3.5 0 1 0 -6.9 0M230.8 329.5a3.4 3.4 0 1 0 6.8 0a3.4 3.4 0 1 0 -6.8 0"/></g>
<rect x="154" y="254" width="92" height="73" fill="url(#phe2)" filter="url(#bl04)"/>
</g>
<g clip-path="url(#cc3)">
<rect x="56" y="336" width="92" height="79" fill="#ebe6d6"/>
<g filter="url(#bl06)"><path fill="#d09058" d="M92.7 338.3a1.2 1.2 0 1 0 2.4 0a1.2 1.2 0 1 0 -2.4 0M99.6 337.8a1.4 1.4 0 1 0 2.8 0a1.4 1.4 0 1 0 -2.8 0M102.4 343.0a1.2 1.2 0 1 0 2.4 0a1.2 1.2 0 1 0 -2.4 0M130.0 342.6a1.2 1.2 0 1 0 2.4 0a1.2 1.2 0 1 0 -2.4 0M129.4 344.1a1.5 1.5 0 1 0 2.9 0a1.5 1.5 0 1 0 -2.9 0M135.3 348.1a1.2 1.2 0 1 0 2.3 0a1.2 1.2 0 1 0 -2.3 0M86.5 349.4a1.8 1.8 0 1 0 3.6 0a1.8 1.8 0 1 0 -3.6 0M132.2 348.5a1.2 1.2 0 1 0 2.4 0a1.2 1.2 0 1 0 -2.4 0M74.3 350.5a1.4 1.4 0 1 0 2.8 0a1.4 1.4 0 1 0 -2.8 0M85.8 350.6a1.5 1.5 0 1 0 3.0 0a1.5 1.5 0 1 0 -3.0 0M127.6 350.7a1.5 1.5 0 1 0 3.0 0a1.5 1.5 0 1 0 -3.0 0M130.3 352.4a1.4 1.4 0 1 0 2.8 0a1.4 1.4 0 1 0 -2.8 0M72.2 353.5a1.4 1.4 0 1 0 2.8 0a1.4 1.4 0 1 0 -2.8 0M83.7 354.1a1.7 1.7 0 1 0 3.4 0a1.7 1.7 0 1 0 -3.4 0M112.4 354.4a1.4 1.4 0 1 0 2.9 0a1.4 1.4 0 1 0 -2.9 0M76.7 355.0a1.8 1.8 0 1 0 3.6 0a1.8 1.8 0 1 0 -3.6 0M88.3 355.8a1.4 1.4 0 1 0 2.9 0a1.4 1.4 0 1 0 -2.9 0M83.6 357.5a1.3 1.3 0 1 0 2.6 0a1.3 1.3 0 1 0 -2.6 0M79.4 361.5a1.2 1.2 0 1 0 2.4 0a1.2 1.2 0 1 0 -2.4 0M85.2 360.9a1.3 1.3 0 1 0 2.7 0a1.3 1.3 0 1 0 -2.7 0M87.9 360.8a1.7 1.7 0 1 0 3.3 0a1.7 1.7 0 1 0 -3.3 0M74.1 361.9a1.5 1.5 0 1 0 3.1 0a1.5 1.5 0 1 0 -3.1 0M99.5 362.4a1.3 1.3 0 1 0 2.6 0a1.3 1.3 0 1 0 -2.6 0M105.4 363.6a1.2 1.2 0 1 0 2.3 0a1.2 1.2 0 1 0 -2.3 0M102.3 365.7a1.2 1.2 0 1 0 2.4 0a1.2 1.2 0 1 0 -2.4 0M90.9 368.0a1.3 1.3 0 1 0 2.5 0a1.3 1.3 0 1 0 -2.5 0M94.3 366.5a1.6 1.6 0 1 0 3.2 0a1.6 1.6 0 1 0 -3.2 0M94.3 368.7a1.6 1.6 0 1 0 3.2 0a1.6 1.6 0 1 0 -3.2 0M94.8 369.6a1.7 1.7 0 1 0 3.5 0a1.7 1.7 0 1 0 -3.5 0M108.4 370.0a1.2 1.2 0 1 0 2.3 0a1.2 1.2 0 1 0 -2.3 0M92.6 371.2a1.7 1.7 0 1 0 3.5 0a1.7 1.7 0 1 0 -3.5 0M97.5 370.9a1.2 1.2 0 1 0 2.4 0a1.2 1.2 0 1 0 -2.4 0M104.7 372.7a1.7 1.7 0 1 0 3.3 0a1.7 1.7 0 1 0 -3.3 0M118.5 372.9a1.6 1.6 0 1 0 3.2 0a1.6 1.6 0 1 0 -3.2 0M95.3 374.2a1.5 1.5 0 1 0 3.0 0a1.5 1.5 0 1 0 -3.0 0M102.4 380.6a1.5 1.5 0 1 0 2.9 0a1.5 1.5 0 1 0 -2.9 0M110.5 382.7a1.1 1.1 0 1 0 2.3 0a1.1 1.1 0 1 0 -2.3 0M83.2 386.1a1.2 1.2 0 1 0 2.3 0a1.2 1.2 0 1 0 -2.3 0M92.5 387.1a1.7 1.7 0 1 0 3.3 0a1.7 1.7 0 1 0 -3.3 0M106.0 391.1a1.3 1.3 0 1 0 2.6 0a1.3 1.3 0 1 0 -2.6 0M121.9 398.0a1.5 1.5 0 1 0 3.0 0a1.5 1.5 0 1 0 -3.0 0M123.4 400.3a1.1 1.1 0 1 0 2.2 0a1.1 1.1 0 1 0 -2.2 0"/><path fill="#c8844c" d="M90.8 334.7a1.3 1.3 0 1 0 2.5 0a1.3 1.3 0 1 0 -2.5 0M94.3 336.3a1.3 1.3 0 1 0 2.6 0a1.3 1.3 0 1 0 -2.6 0M90.5 339.0a1.3 1.3 0 1 0 2.6 0a1.3 1.3 0 1 0 -2.6 0M100.8 340.3a1.3 1.3 0 1 0 2.5 0a1.3 1.3 0 1 0 -2.5 0M125.7 345.6a1.2 1.2 0 1 0 2.4 0a1.2 1.2 0 1 0 -2.4 0M84.9 347.4a1.2 1.2 0 1 0 2.5 0a1.2 1.2 0 1 0 -2.5 0M124.0 347.9a1.4 1.4 0 1 0 2.8 0a1.4 1.4 0 1 0 -2.8 0M132.8 347.5a1.5 1.5 0 1 0 3.0 0a1.5 1.5 0 1 0 -3.0 0M131.7 351.8a1.4 1.4 0 1 0 2.8 0a1.4 1.4 0 1 0 -2.8 0M127.2 352.8a1.4 1.4 0 1 0 2.8 0a1.4 1.4 0 1 0 -2.8 0M81.2 355.4a1.6 1.6 0 1 0 3.2 0a1.6 1.6 0 1 0 -3.2 0M129.0 355.8a1.8 1.8 0 1 0 3.5 0a1.8 1.8 0 1 0 -3.5 0M80.4 358.2a1.4 1.4 0 1 0 2.7 0a1.4 1.4 0 1 0 -2.7 0M82.9 358.3a1.4 1.4 0 1 0 2.8 0a1.4 1.4 0 1 0 -2.8 0M101.0 361.4a1.8 1.8 0 1 0 3.5 0a1.8 1.8 0 1 0 -3.5 0M102.9 359.8a1.5 1.5 0 1 0 3.0 0a1.5 1.5 0 1 0 -3.0 0M78.7 362.8a1.6 1.6 0 1 0 3.3 0a1.6 1.6 0 1 0 -3.3 0M110.1 364.5a1.5 1.5 0 1 0 3.1 0a1.5 1.5 0 1 0 -3.1 0M79.5 367.2a1.7 1.7 0 1 0 3.5 0a1.7 1.7 0 1 0 -3.5 0M99.7 368.2a1.3 1.3 0 1 0 2.6 0a1.3 1.3 0 1 0 -2.6 0M106.3 366.3a1.2 1.2 0 1 0 2.3 0a1.2 1.2 0 1 0 -2.3 0M106.8 366.5a1.5 1.5 0 1 0 3.0 0a1.5 1.5 0 1 0 -3.0 0M109.3 368.1a1.5 1.5 0 1 0 3.0 0a1.5 1.5 0 1 0 -3.0 0M104.7 370.7a1.1 1.1 0 1 0 2.3 0a1.1 1.1 0 1 0 -2.3 0M75.1 371.1a1.3 1.3 0 1 0 2.6 0a1.3 1.3 0 1 0 -2.6 0M83.2 371.1a1.5 1.5 0 1 0 3.0 0a1.5 1.5 0 1 0 -3.0 0M108.7 372.1a1.1 1.1 0 1 0 2.3 0a1.1 1.1 0 1 0 -2.3 0M91.1 373.0a1.8 1.8 0 1 0 3.6 0a1.8 1.8 0 1 0 -3.6 0M101.0 374.9a1.5 1.5 0 1 0 3.0 0a1.5 1.5 0 1 0 -3.0 0M106.6 374.4a1.7 1.7 0 1 0 3.5 0a1.7 1.7 0 1 0 -3.5 0M110.8 374.7a1.8 1.8 0 1 0 3.5 0a1.8 1.8 0 1 0 -3.5 0M105.5 376.0a1.6 1.6 0 1 0 3.3 0a1.6 1.6 0 1 0 -3.3 0M113.5 376.9a1.6 1.6 0 1 0 3.2 0a1.6 1.6 0 1 0 -3.2 0M113.6 379.2a1.6 1.6 0 1 0 3.2 0a1.6 1.6 0 1 0 -3.2 0M84.2 381.3a1.4 1.4 0 1 0 2.7 0a1.4 1.4 0 1 0 -2.7 0M85.9 387.4a1.3 1.3 0 1 0 2.6 0a1.3 1.3 0 1 0 -2.6 0M83.5 389.8a1.8 1.8 0 1 0 3.6 0a1.8 1.8 0 1 0 -3.6 0M119.3 397.6a1.3 1.3 0 1 0 2.7 0a1.3 1.3 0 1 0 -2.7 0M123.8 400.6a1.4 1.4 0 1 0 2.7 0a1.4 1.4 0 1 0 -2.7 0M123.9 402.4a1.2 1.2 0 1 0 2.4 0a1.2 1.2 0 1 0 -2.4 0"/><path fill="#dcaa7c" d="M96.9 339.2a1.4 1.4 0 1 0 2.8 0a1.4 1.4 0 1 0 -2.8 0M126.0 339.6a1.5 1.5 0 1 0 2.9 0a1.5 1.5 0 1 0 -2.9 0M132.9 344.8a1.3 1.3 0 1 0 2.7 0a1.3 1.3 0 1 0 -2.7 0M130.3 347.7a1.1 1.1 0 1 0 2.3 0a1.1 1.1 0 1 0 -2.3 0M129.2 348.3a1.7 1.7 0 1 0 3.5 0a1.7 1.7 0 1 0 -3.5 0M137.1 350.0a1.6 1.6 0 1 0 3.2 0a1.6 1.6 0 1 0 -3.2 0M82.1 350.9a1.7 1.7 0 1 0 3.4 0a1.7 1.7 0 1 0 -3.4 0M130.5 353.7a1.4 1.4 0 1 0 2.7 0a1.4 1.4 0 1 0 -2.7 0M124.7 355.5a1.3 1.3 0 1 0 2.7 0a1.3 1.3 0 1 0 -2.7 0M76.0 358.5a1.8 1.8 0 1 0 3.5 0a1.8 1.8 0 1 0 -3.5 0M122.6 358.3a1.4 1.4 0 1 0 2.8 0a1.4 1.4 0 1 0 -2.8 0M128.1 358.5a1.6 1.6 0 1 0 3.1 0a1.6 1.6 0 1 0 -3.1 0M106.6 360.6a1.2 1.2 0 1 0 2.5 0a1.2 1.2 0 1 0 -2.5 0M132.6 361.3a1.1 1.1 0 1 0 2.2 0a1.1 1.1 0 1 0 -2.2 0M77.3 363.8a1.7 1.7 0 1 0 3.4 0a1.7 1.7 0 1 0 -3.4 0M95.6 364.0a1.7 1.7 0 1 0 3.3 0a1.7 1.7 0 1 0 -3.3 0M98.3 365.0a1.5 1.5 0 1 0 2.9 0a1.5 1.5 0 1 0 -2.9 0M115.9 365.8a1.8 1.8 0 1 0 3.6 0a1.8 1.8 0 1 0 -3.6 0M97.4 366.6a1.3 1.3 0 1 0 2.6 0a1.3 1.3 0 1 0 -2.6 0M81.3 368.5a1.3 1.3 0 1 0 2.6 0a1.3 1.3 0 1 0 -2.6 0M107.2 369.4a1.2 1.2 0 1 0 2.4 0a1.2 1.2 0 1 0 -2.4 0M95.2 371.8a1.7 1.7 0 1 0 3.4 0a1.7 1.7 0 1 0 -3.4 0M101.2 371.8a1.1 1.1 0 1 0 2.2 0a1.1 1.1 0 1 0 -2.2 0M92.4 374.0a1.5 1.5 0 1 0 3.0 0a1.5 1.5 0 1 0 -3.0 0M103.8 374.5a1.3 1.3 0 1 0 2.5 0a1.3 1.3 0 1 0 -2.5 0M95.5 376.7a1.2 1.2 0 1 0 2.3 0a1.2 1.2 0 1 0 -2.3 0M96.5 376.3a1.6 1.6 0 1 0 3.3 0a1.6 1.6 0 1 0 -3.3 0M96.6 379.6a1.6 1.6 0 1 0 3.3 0a1.6 1.6 0 1 0 -3.3 0M101.7 378.1a1.7 1.7 0 1 0 3.5 0a1.7 1.7 0 1 0 -3.5 0M81.2 380.6a1.6 1.6 0 1 0 3.1 0a1.6 1.6 0 1 0 -3.1 0M93.1 382.5a1.4 1.4 0 1 0 2.8 0a1.4 1.4 0 1 0 -2.8 0M102.8 383.7a1.7 1.7 0 1 0 3.5 0a1.7 1.7 0 1 0 -3.5 0M79.2 385.1a1.4 1.4 0 1 0 2.7 0a1.4 1.4 0 1 0 -2.7 0M86.7 385.4a1.7 1.7 0 1 0 3.5 0a1.7 1.7 0 1 0 -3.5 0M115.5 386.0a1.2 1.2 0 1 0 2.4 0a1.2 1.2 0 1 0 -2.4 0M75.5 387.8a1.7 1.7 0 1 0 3.4 0a1.7 1.7 0 1 0 -3.4 0"/></g>
<rect x="56" y="336" width="92" height="79" fill="url(#pak1)" filter="url(#bl04)"/>
</g>
<g clip-path="url(#cc4)">
<rect x="154" y="336" width="92" height="79" fill="#edf0e8"/>
<rect x="154" y="336" width="92" height="79" fill="url(#pak2)" filter="url(#bl04)"/>
</g>
<g clip-path="url(#cc5)">
<rect x="56" y="424" width="92" height="78" fill="#9ccfe8"/>
<g filter="url(#bl06)"><path fill="#26426a" d="M85.1 435.0a1.5 1.5 0 1 0 3.0 0a1.5 1.5 0 1 0 -3.0 0M74.8 436.8a1.8 1.8 0 1 0 3.6 0a1.8 1.8 0 1 0 -3.6 0M79.1 441.1a2.0 2.0 0 1 0 4.0 0a2.0 2.0 0 1 0 -4.0 0M80.1 441.5a2.0 2.0 0 1 0 4.0 0a2.0 2.0 0 1 0 -4.0 0M78.7 442.1a1.5 1.5 0 1 0 3.0 0a1.5 1.5 0 1 0 -3.0 0M84.7 442.8a1.4 1.4 0 1 0 2.9 0a1.4 1.4 0 1 0 -2.9 0M85.0 443.8a1.9 1.9 0 1 0 3.8 0a1.9 1.9 0 1 0 -3.8 0M89.8 444.5a1.7 1.7 0 1 0 3.4 0a1.7 1.7 0 1 0 -3.4 0M118.7 443.7a2.0 2.0 0 1 0 4.0 0a2.0 2.0 0 1 0 -4.0 0M129.5 443.4a1.5 1.5 0 1 0 2.9 0a1.5 1.5 0 1 0 -2.9 0M88.2 446.5a2.0 2.0 0 1 0 3.9 0a2.0 2.0 0 1 0 -3.9 0M115.7 445.4a1.6 1.6 0 1 0 3.3 0a1.6 1.6 0 1 0 -3.3 0M120.0 445.8a1.9 1.9 0 1 0 3.8 0a1.9 1.9 0 1 0 -3.8 0M79.4 448.3a1.7 1.7 0 1 0 3.4 0a1.7 1.7 0 1 0 -3.4 0M87.5 449.7a1.6 1.6 0 1 0 3.1 0a1.6 1.6 0 1 0 -3.1 0M88.3 450.0a1.9 1.9 0 1 0 3.8 0a1.9 1.9 0 1 0 -3.8 0M118.6 447.3a1.4 1.4 0 1 0 2.8 0a1.4 1.4 0 1 0 -2.8 0M122.4 448.4a1.9 1.9 0 1 0 3.7 0a1.9 1.9 0 1 0 -3.7 0M147.3 447.4a2.0 2.0 0 1 0 3.9 0a2.0 2.0 0 1 0 -3.9 0M118.5 451.0a1.3 1.3 0 1 0 2.7 0a1.3 1.3 0 1 0 -2.7 0M126.0 450.6a1.4 1.4 0 1 0 2.8 0a1.4 1.4 0 1 0 -2.8 0M139.9 451.4a2.0 2.0 0 1 0 4.0 0a2.0 2.0 0 1 0 -4.0 0M111.6 455.1a1.7 1.7 0 1 0 3.4 0a1.7 1.7 0 1 0 -3.4 0M116.5 455.0a1.7 1.7 0 1 0 3.4 0a1.7 1.7 0 1 0 -3.4 0M117.2 454.6a1.9 1.9 0 1 0 3.9 0a1.9 1.9 0 1 0 -3.9 0M125.7 454.3a1.7 1.7 0 1 0 3.5 0a1.7 1.7 0 1 0 -3.5 0M126.1 453.8a2.1 2.1 0 1 0 4.2 0a2.1 2.1 0 1 0 -4.2 0M122.5 458.0a2.0 2.0 0 1 0 4.0 0a2.0 2.0 0 1 0 -4.0 0M126.5 455.7a1.9 1.9 0 1 0 3.9 0a1.9 1.9 0 1 0 -3.9 0M136.3 457.2a1.9 1.9 0 1 0 3.8 0a1.9 1.9 0 1 0 -3.8 0M139.7 457.7a1.3 1.3 0 1 0 2.7 0a1.3 1.3 0 1 0 -2.7 0M97.9 458.8a2.0 2.0 0 1 0 4.0 0a2.0 2.0 0 1 0 -4.0 0M125.5 459.4a1.3 1.3 0 1 0 2.7 0a1.3 1.3 0 1 0 -2.7 0M107.5 463.7a2.0 2.0 0 1 0 4.0 0a2.0 2.0 0 1 0 -4.0 0M113.1 461.2a1.7 1.7 0 1 0 3.5 0a1.7 1.7 0 1 0 -3.5 0M119.8 463.6a1.4 1.4 0 1 0 2.9 0a1.4 1.4 0 1 0 -2.9 0M124.1 462.5a1.5 1.5 0 1 0 2.9 0a1.5 1.5 0 1 0 -2.9 0M138.2 461.3a1.7 1.7 0 1 0 3.4 0a1.7 1.7 0 1 0 -3.4 0M134.8 464.0a1.6 1.6 0 1 0 3.2 0a1.6 1.6 0 1 0 -3.2 0M137.5 464.5a2.1 2.1 0 1 0 4.1 0a2.1 2.1 0 1 0 -4.1 0M115.5 469.1a1.8 1.8 0 1 0 3.5 0a1.8 1.8 0 1 0 -3.5 0M122.3 467.5a2.0 2.0 0 1 0 4.0 0a2.0 2.0 0 1 0 -4.0 0M101.4 470.4a1.7 1.7 0 1 0 3.5 0a1.7 1.7 0 1 0 -3.5 0M104.6 471.1a1.4 1.4 0 1 0 2.8 0a1.4 1.4 0 1 0 -2.8 0M58.1 474.6a1.5 1.5 0 1 0 2.9 0a1.5 1.5 0 1 0 -2.9 0M65.2 472.6a1.6 1.6 0 1 0 3.3 0a1.6 1.6 0 1 0 -3.3 0M73.0 480.5a1.6 1.6 0 1 0 3.2 0a1.6 1.6 0 1 0 -3.2 0M72.5 481.3a1.5 1.5 0 1 0 3.1 0a1.5 1.5 0 1 0 -3.1 0M73.5 484.1a1.4 1.4 0 1 0 2.8 0a1.4 1.4 0 1 0 -2.8 0M125.0 488.7a1.4 1.4 0 1 0 2.8 0a1.4 1.4 0 1 0 -2.8 0M68.0 489.2a1.6 1.6 0 1 0 3.3 0a1.6 1.6 0 1 0 -3.3 0M62.7 493.3a1.5 1.5 0 1 0 3.0 0a1.5 1.5 0 1 0 -3.0 0M71.0 493.5a1.7 1.7 0 1 0 3.4 0a1.7 1.7 0 1 0 -3.4 0M84.1 494.4a2.1 2.1 0 1 0 4.1 0a2.1 2.1 0 1 0 -4.1 0M114.4 493.5a1.7 1.7 0 1 0 3.4 0a1.7 1.7 0 1 0 -3.4 0M70.7 496.4a1.5 1.5 0 1 0 3.1 0a1.5 1.5 0 1 0 -3.1 0M88.4 495.0a1.8 1.8 0 1 0 3.6 0a1.8 1.8 0 1 0 -3.6 0M99.0 494.6a1.5 1.5 0 1 0 3.1 0a1.5 1.5 0 1 0 -3.1 0M102.5 498.0a2.0 2.0 0 1 0 4.1 0a2.0 2.0 0 1 0 -4.1 0M62.5 502.0a1.4 1.4 0 1 0 2.8 0a1.4 1.4 0 1 0 -2.8 0M72.5 500.7a1.5 1.5 0 1 0 3.0 0a1.5 1.5 0 1 0 -3.0 0M101.7 504.9a1.7 1.7 0 1 0 3.5 0a1.7 1.7 0 1 0 -3.5 0"/><path fill="#30507a" d="M80.3 437.8a1.3 1.3 0 1 0 2.7 0a1.3 1.3 0 1 0 -2.7 0M134.1 440.7a1.4 1.4 0 1 0 2.7 0a1.4 1.4 0 1 0 -2.7 0M72.9 443.1a1.5 1.5 0 1 0 2.9 0a1.5 1.5 0 1 0 -2.9 0M120.8 442.9a1.5 1.5 0 1 0 2.9 0a1.5 1.5 0 1 0 -2.9 0M68.8 446.7a2.0 2.0 0 1 0 4.0 0a2.0 2.0 0 1 0 -4.0 0M83.4 446.3a1.9 1.9 0 1 0 3.9 0a1.9 1.9 0 1 0 -3.9 0M93.3 446.1a1.6 1.6 0 1 0 3.1 0a1.6 1.6 0 1 0 -3.1 0M101.0 445.3a1.4 1.4 0 1 0 2.7 0a1.4 1.4 0 1 0 -2.7 0M127.7 446.2a1.5 1.5 0 1 0 3.1 0a1.5 1.5 0 1 0 -3.1 0M93.9 448.0a1.7 1.7 0 1 0 3.3 0a1.7 1.7 0 1 0 -3.3 0M101.9 449.2a1.9 1.9 0 1 0 3.9 0a1.9 1.9 0 1 0 -3.9 0M104.8 449.8a2.0 2.0 0 1 0 3.9 0a2.0 2.0 0 1 0 -3.9 0M125.8 447.7a1.9 1.9 0 1 0 3.8 0a1.9 1.9 0 1 0 -3.8 0M127.2 449.4a1.5 1.5 0 1 0 2.9 0a1.5 1.5 0 1 0 -2.9 0M85.0 450.8a2.1 2.1 0 1 0 4.2 0a2.1 2.1 0 1 0 -4.2 0M122.8 450.6a1.8 1.8 0 1 0 3.6 0a1.8 1.8 0 1 0 -3.6 0M132.2 454.4a1.7 1.7 0 1 0 3.4 0a1.7 1.7 0 1 0 -3.4 0M68.0 457.3a2.0 2.0 0 1 0 3.9 0a2.0 2.0 0 1 0 -3.9 0M82.1 457.9a1.9 1.9 0 1 0 3.8 0a1.9 1.9 0 1 0 -3.8 0M109.4 455.9a1.4 1.4 0 1 0 2.8 0a1.4 1.4 0 1 0 -2.8 0M116.6 456.4a1.7 1.7 0 1 0 3.4 0a1.7 1.7 0 1 0 -3.4 0M130.5 457.5a1.9 1.9 0 1 0 3.8 0a1.9 1.9 0 1 0 -3.8 0M132.3 456.3a1.8 1.8 0 1 0 3.5 0a1.8 1.8 0 1 0 -3.5 0M143.0 456.1a1.4 1.4 0 1 0 2.8 0a1.4 1.4 0 1 0 -2.8 0M114.5 459.4a1.7 1.7 0 1 0 3.4 0a1.7 1.7 0 1 0 -3.4 0M128.2 461.1a1.4 1.4 0 1 0 2.8 0a1.4 1.4 0 1 0 -2.8 0M128.9 463.5a1.7 1.7 0 1 0 3.3 0a1.7 1.7 0 1 0 -3.3 0M133.1 461.4a1.8 1.8 0 1 0 3.5 0a1.8 1.8 0 1 0 -3.5 0M106.0 464.4a2.0 2.0 0 1 0 3.9 0a2.0 2.0 0 1 0 -3.9 0M120.2 466.3a1.6 1.6 0 1 0 3.2 0a1.6 1.6 0 1 0 -3.2 0M114.9 466.9a1.6 1.6 0 1 0 3.2 0a1.6 1.6 0 1 0 -3.2 0M136.4 468.7a2.1 2.1 0 1 0 4.1 0a2.1 2.1 0 1 0 -4.1 0M62.1 479.8a2.0 2.0 0 1 0 4.0 0a2.0 2.0 0 1 0 -4.0 0M62.4 482.0a2.1 2.1 0 1 0 4.2 0a2.1 2.1 0 1 0 -4.2 0M120.5 483.1a2.1 2.1 0 1 0 4.2 0a2.1 2.1 0 1 0 -4.2 0M58.8 484.2a1.9 1.9 0 1 0 3.9 0a1.9 1.9 0 1 0 -3.9 0M63.5 484.8a1.3 1.3 0 1 0 2.6 0a1.3 1.3 0 1 0 -2.6 0M91.2 484.6a1.3 1.3 0 1 0 2.7 0a1.3 1.3 0 1 0 -2.7 0M66.4 487.1a1.6 1.6 0 1 0 3.2 0a1.6 1.6 0 1 0 -3.2 0M52.2 489.4a1.9 1.9 0 1 0 3.8 0a1.9 1.9 0 1 0 -3.8 0M57.6 491.5a1.9 1.9 0 1 0 3.7 0a1.9 1.9 0 1 0 -3.7 0M62.1 489.2a1.9 1.9 0 1 0 3.7 0a1.9 1.9 0 1 0 -3.7 0M64.1 490.4a1.8 1.8 0 1 0 3.6 0a1.8 1.8 0 1 0 -3.6 0M88.6 491.3a1.5 1.5 0 1 0 3.0 0a1.5 1.5 0 1 0 -3.0 0M98.5 489.4a1.9 1.9 0 1 0 3.8 0a1.9 1.9 0 1 0 -3.8 0M101.7 490.1a1.7 1.7 0 1 0 3.4 0a1.7 1.7 0 1 0 -3.4 0M107.5 491.2a1.7 1.7 0 1 0 3.4 0a1.7 1.7 0 1 0 -3.4 0M111.1 491.6a1.8 1.8 0 1 0 3.6 0a1.8 1.8 0 1 0 -3.6 0M123.6 489.8a1.9 1.9 0 1 0 3.8 0a1.9 1.9 0 1 0 -3.8 0M51.6 492.3a1.4 1.4 0 1 0 2.9 0a1.4 1.4 0 1 0 -2.9 0M59.0 492.4a1.4 1.4 0 1 0 2.7 0a1.4 1.4 0 1 0 -2.7 0M79.0 494.0a1.5 1.5 0 1 0 3.0 0a1.5 1.5 0 1 0 -3.0 0M102.1 493.8a1.4 1.4 0 1 0 2.7 0a1.4 1.4 0 1 0 -2.7 0M106.4 494.5a1.9 1.9 0 1 0 3.7 0a1.9 1.9 0 1 0 -3.7 0M109.3 494.7a2.0 2.0 0 1 0 4.1 0a2.0 2.0 0 1 0 -4.1 0M64.5 498.0a1.8 1.8 0 1 0 3.6 0a1.8 1.8 0 1 0 -3.6 0M94.9 498.7a1.5 1.5 0 1 0 2.9 0a1.5 1.5 0 1 0 -2.9 0M109.7 500.1a1.8 1.8 0 1 0 3.6 0a1.8 1.8 0 1 0 -3.6 0M115.8 499.1a2.0 2.0 0 1 0 4.0 0a2.0 2.0 0 1 0 -4.0 0M68.9 500.3a2.0 2.0 0 1 0 3.9 0a2.0 2.0 0 1 0 -3.9 0M119.5 500.2a1.8 1.8 0 1 0 3.7 0a1.8 1.8 0 1 0 -3.7 0"/></g>
<rect x="56" y="424" width="92" height="78" fill="url(#pcd1)" filter="url(#bl04)"/>
<g filter="url(#bl06)"><path fill="#f2f7fa" d="M65.6 431.2a1.5 1.5 0 1 0 3.0 0a1.5 1.5 0 1 0 -3.0 0M67.7 431.5a1.4 1.4 0 1 0 2.8 0a1.4 1.4 0 1 0 -2.8 0M64.9 433.0a1.5 1.5 0 1 0 3.0 0a1.5 1.5 0 1 0 -3.0 0M67.3 433.2a1.2 1.2 0 1 0 2.4 0a1.2 1.2 0 1 0 -2.4 0M74.8 453.9a1.6 1.6 0 1 0 3.3 0a1.6 1.6 0 1 0 -3.3 0M78.6 453.6a1.2 1.2 0 1 0 2.3 0a1.2 1.2 0 1 0 -2.3 0M74.9 456.9a1.2 1.2 0 1 0 2.3 0a1.2 1.2 0 1 0 -2.3 0M75.7 459.3a1.5 1.5 0 1 0 3.0 0a1.5 1.5 0 1 0 -3.0 0M70.4 459.4a1.5 1.5 0 1 0 3.0 0a1.5 1.5 0 1 0 -3.0 0M75.1 462.0a1.5 1.5 0 1 0 2.9 0a1.5 1.5 0 1 0 -2.9 0M138.2 467.2a1.6 1.6 0 1 0 3.2 0a1.6 1.6 0 1 0 -3.2 0M138.2 468.5a1.6 1.6 0 1 0 3.2 0a1.6 1.6 0 1 0 -3.2 0M96.8 476.5a1.4 1.4 0 1 0 2.9 0a1.4 1.4 0 1 0 -2.9 0M101.0 476.5a1.1 1.1 0 1 0 2.3 0a1.1 1.1 0 1 0 -2.3 0M97.4 478.6a1.3 1.3 0 1 0 2.5 0a1.3 1.3 0 1 0 -2.5 0M95.4 480.4a1.2 1.2 0 1 0 2.4 0a1.2 1.2 0 1 0 -2.4 0M99.9 480.4a1.3 1.3 0 1 0 2.6 0a1.3 1.3 0 1 0 -2.6 0"/><path fill="#e6f0f6" d="M66.9 429.5a1.5 1.5 0 1 0 2.9 0a1.5 1.5 0 1 0 -2.9 0M70.9 430.3a1.4 1.4 0 1 0 2.7 0a1.4 1.4 0 1 0 -2.7 0M61.8 433.1a1.4 1.4 0 1 0 2.8 0a1.4 1.4 0 1 0 -2.8 0M69.1 432.1a1.4 1.4 0 1 0 2.9 0a1.4 1.4 0 1 0 -2.9 0M65.5 433.7a1.6 1.6 0 1 0 3.3 0a1.6 1.6 0 1 0 -3.3 0M58.5 435.3a1.7 1.7 0 1 0 3.4 0a1.7 1.7 0 1 0 -3.4 0M110.4 442.4a1.1 1.1 0 1 0 2.3 0a1.1 1.1 0 1 0 -2.3 0M76.6 455.9a1.6 1.6 0 1 0 3.3 0a1.6 1.6 0 1 0 -3.3 0M72.8 457.0a1.4 1.4 0 1 0 2.9 0a1.4 1.4 0 1 0 -2.9 0M75.3 460.3a1.6 1.6 0 1 0 3.2 0a1.6 1.6 0 1 0 -3.2 0M77.5 461.2a1.4 1.4 0 1 0 2.8 0a1.4 1.4 0 1 0 -2.8 0M136.6 467.0a1.3 1.3 0 1 0 2.6 0a1.3 1.3 0 1 0 -2.6 0M95.6 475.5a1.1 1.1 0 1 0 2.1 0a1.1 1.1 0 1 0 -2.1 0M92.5 478.0a1.6 1.6 0 1 0 3.2 0a1.6 1.6 0 1 0 -3.2 0M100.2 477.7a1.2 1.2 0 1 0 2.3 0a1.2 1.2 0 1 0 -2.3 0M92.2 478.6a1.5 1.5 0 1 0 3.0 0a1.5 1.5 0 1 0 -3.0 0M95.5 479.0a1.5 1.5 0 1 0 3.1 0a1.5 1.5 0 1 0 -3.1 0M91.9 481.8a1.7 1.7 0 1 0 3.4 0a1.7 1.7 0 1 0 -3.4 0M96.7 480.6a1.4 1.4 0 1 0 2.7 0a1.4 1.4 0 1 0 -2.7 0M97.1 483.1a1.4 1.4 0 1 0 2.9 0a1.4 1.4 0 1 0 -2.9 0M96.6 484.9a1.1 1.1 0 1 0 2.3 0a1.1 1.1 0 1 0 -2.3 0"/></g>
</g>
<g clip-path="url(#cc6)">
<rect x="154" y="424" width="92" height="78" fill="#c8e8f0"/>
<rect x="154" y="424" width="92" height="78" fill="url(#pcd2)" filter="url(#bl04)"/>
</g>
<text transform="translate(269.6,245.3) scale(1.2,1)" font-size="12.8" font-weight="bold">D</text>
<text x="325.5" y="245.5" font-size="11.9" text-anchor="start" font-weight="bold" >Survival proportions</text>
<path d="M301.5 258.3 V372.5 H473" stroke="#000" stroke-width="1.2" fill="none"/>
<line x1="298.9" y1="372.5" x2="301.5" y2="372.5" stroke="#000" stroke-width="1"/>
<text x="295.3" y="375.4" font-size="8.4" text-anchor="end" font-weight="bold" >0.0</text>
<line x1="298.9" y1="362.1" x2="301.5" y2="362.1" stroke="#000" stroke-width="1"/>
<text x="295.3" y="365.0" font-size="8.4" text-anchor="end" font-weight="bold" >0.1</text>
<line x1="298.9" y1="351.8" x2="301.5" y2="351.8" stroke="#000" stroke-width="1"/>
<text x="295.3" y="354.7" font-size="8.4" text-anchor="end" font-weight="bold" >0.2</text>
<line x1="298.9" y1="341.4" x2="301.5" y2="341.4" stroke="#000" stroke-width="1"/>
<text x="295.3" y="344.3" font-size="8.4" text-anchor="end" font-weight="bold" >0.3</text>
<line x1="298.9" y1="331.1" x2="301.5" y2="331.1" stroke="#000" stroke-width="1"/>
<text x="295.3" y="334.0" font-size="8.4" text-anchor="end" font-weight="bold" >0.4</text>
<line x1="298.9" y1="320.8" x2="301.5" y2="320.8" stroke="#000" stroke-width="1"/>
<text x="295.3" y="323.6" font-size="8.4" text-anchor="end" font-weight="bold" >0.5</text>
<line x1="298.9" y1="310.4" x2="301.5" y2="310.4" stroke="#000" stroke-width="1"/>
<text x="295.3" y="313.3" font-size="8.4" text-anchor="end" font-weight="bold" >0.6</text>
<line x1="298.9" y1="300.1" x2="301.5" y2="300.1" stroke="#000" stroke-width="1"/>
<text x="295.3" y="302.9" font-size="8.4" text-anchor="end" font-weight="bold" >0.7</text>
<line x1="298.9" y1="289.7" x2="301.5" y2="289.7" stroke="#000" stroke-width="1"/>
<text x="295.3" y="292.6" font-size="8.4" text-anchor="end" font-weight="bold" >0.8</text>
<line x1="298.9" y1="279.4" x2="301.5" y2="279.4" stroke="#000" stroke-width="1"/>
<text x="295.3" y="282.2" font-size="8.4" text-anchor="end" font-weight="bold" >0.9</text>
<line x1="298.9" y1="269.0" x2="301.5" y2="269.0" stroke="#000" stroke-width="1"/>
<text x="295.3" y="271.9" font-size="8.4" text-anchor="end" font-weight="bold" >1.0</text>
<line x1="298.9" y1="258.6" x2="301.5" y2="258.6" stroke="#000" stroke-width="1"/>
<text x="295.3" y="261.5" font-size="8.4" text-anchor="end" font-weight="bold" >1.1</text>
<line x1="329.8" y1="372.5" x2="329.8" y2="375.1" stroke="#000" stroke-width="1"/>
<line x1="358.6" y1="372.5" x2="358.6" y2="375.1" stroke="#000" stroke-width="1"/>
<line x1="387.4" y1="372.5" x2="387.4" y2="375.1" stroke="#000" stroke-width="1"/>
<line x1="416.2" y1="372.5" x2="416.2" y2="375.1" stroke="#000" stroke-width="1"/>
<line x1="445.0" y1="372.5" x2="445.0" y2="375.1" stroke="#000" stroke-width="1"/>
<line x1="473.8" y1="372.5" x2="473.8" y2="375.1" stroke="#000" stroke-width="1"/>
<text x="315.4" y="383.6" font-size="8.6" text-anchor="middle" font-weight="bold" >0</text>
<text x="344.2" y="383.6" font-size="8.6" text-anchor="middle" font-weight="bold" >10</text>
<text x="373.0" y="383.6" font-size="8.6" text-anchor="middle" font-weight="bold" >20</text>
<text x="401.8" y="383.6" font-size="8.6" text-anchor="middle" font-weight="bold" >30</text>
<text x="430.6" y="383.6" font-size="8.6" text-anchor="middle" font-weight="bold" >40</text>
<text x="459.4" y="383.6" font-size="8.6" text-anchor="middle" font-weight="bold" >50</text>
<text x="326.2" y="392.8" font-size="11.92" text-anchor="start" font-weight="bold" >Days&#160;&#160;from starting treatment</text>
<text transform="translate(277.5,358.7) rotate(-90)" font-size="12.7" font-weight="bold">Fraction survival</text>
<path d="M301.5 269.0 H335.8 V298.4 H341.4 V313.8 H344 V328.5 H349.6 V358 H375.5 V372.5" fill="none" stroke="#000" stroke-width="1.4"/>
<path d="M335.8 269.0 H344 V290.3 H366.7 V330.8 H398.5 V351.8 H412.4 V372.5" fill="none" stroke="#000" stroke-width="1.4" stroke-dasharray="4.2 2.6"/>
<path d="M344 269.0 H378.4 V290.3 H386.9 V310.6 H392.9 V330.8 H412.4 V351.8 H441 V372.5" fill="none" stroke="#000" stroke-width="1.3" stroke-dasharray="1.3 2.9"/>
<line x1="411.5" y1="268.2" x2="427.7" y2="268.2" stroke="#000" stroke-width="1.4"/>
<line x1="408.5" y1="281.5" x2="427.7" y2="281.5" stroke="#000" stroke-width="1.4" stroke-dasharray="4.2 2.6"/>
<line x1="410" y1="295" x2="427.7" y2="295" stroke="#000" stroke-width="1.3" stroke-dasharray="1.3 3.6"/>
<text x="435" y="270.2" font-size="10.1" text-anchor="start" font-weight="bold" >Control vehicle</text>
<text x="435" y="285.6" font-size="10.1" text-anchor="start" font-weight="bold" >10mg/kg</text>
<text x="435" y="300.4" font-size="10.1" text-anchor="start" font-weight="bold" >30mg/kg</text>
<text transform="translate(16.6,529.3) scale(1.2,1)" font-size="14" font-weight="bold">E</text>
<text x="109.2" y="525.9" font-size="11.7" text-anchor="middle" font-weight="bold" >Control</text>
<text x="109.4" y="539.6" font-size="11.3" text-anchor="middle" font-weight="bold" >Vehicle</text>
<text x="181.8" y="525.4" font-size="11.8" text-anchor="middle" font-weight="bold" >Treated with</text>
<text x="181.2" y="539.6" font-size="11.7" text-anchor="middle" font-weight="bold" >30mg/kg</text>
<line x1="80" y1="543.3" x2="141.3" y2="543.3" stroke="#000" stroke-width="1.3"/>
<line x1="154.3" y1="543.3" x2="209.5" y2="543.3" stroke="#000" stroke-width="1.3"/>
<text x="61.5" y="560.2" font-size="11.7" text-anchor="end" font-weight="bold" >P-PDK-1</text>
<text x="61" y="585.3" font-size="11.6" text-anchor="end" font-weight="bold" >P-AKT</text>
<text x="61.8" y="613.2" font-size="11.6" text-anchor="end" font-weight="bold" >ACTIN</text>
<rect x="68.6" y="549.4" width="144.6" height="20" fill="#dfddd5"/>
<rect x="68.5" y="573.2" width="147" height="17" fill="#e3e0d9"/>
<rect x="67.6" y="598" width="147.9" height="16.5" fill="#e5e3dd"/>
<g filter="url(#bl1)">
<rect x="74.8" y="552.5" width="23.0" height="8.6" rx="4.3" fill="#2e1610" transform="rotate(2.5 86.3 556.8)"/>
<rect x="99.7" y="555.3" width="22.2" height="8.6" rx="4.3" fill="#2e1610" transform="rotate(1 110.8 559.6)"/>
<rect x="124.0" y="555.3" width="21.6" height="8.6" rx="4.3" fill="#2e1610" transform="rotate(1 134.8 559.6)"/>
<rect x="150.0" y="557.4" width="15.4" height="2.8" rx="1.4" fill="#2a201c"/>
<rect x="173.5" y="557.9" width="14.2" height="2.8" rx="1.4" fill="#2a201c"/>
<rect x="195.7" y="557.9" width="15.8" height="2.8" rx="1.4" fill="#2a201c"/>
<rect x="72.5" y="580.4" width="21.5" height="4.2" rx="2.1" fill="#5a5048" transform="rotate(1.5 83.2 582.5)"/>
<rect x="97.5" y="582.3" width="20.3" height="4.6" rx="2.3" fill="#4e3426" transform="rotate(0.5 107.7 584.6)"/>
<rect x="122.5" y="582.3" width="19.2" height="4.6" rx="2.3" fill="#4c3024" transform="rotate(0.5 132.1 584.6)"/>
<rect x="149.0" y="580.6" width="15.6" height="4.0" rx="2.0" fill="#bdb8b1"/>
<rect x="170.8" y="580.6" width="16.2" height="4.0" rx="2.0" fill="#b5afa8"/>
<rect x="194.6" y="581.1" width="7.4" height="3.0" rx="1.5" fill="#d2cdc7"/>
<rect x="68.0" y="604.4" width="21.5" height="3.4" rx="1.7" fill="#262624"/>
<rect x="92.5" y="604.4" width="22.5" height="3.4" rx="1.7" fill="#262624"/>
<rect x="118.0" y="604.4" width="22.5" height="3.4" rx="1.7" fill="#262624"/>
<rect x="142.6" y="604.9" width="23.4" height="3.2" rx="1.6" fill="#2a2a28" transform="rotate(1.5 154.3 606.5)"/>
<rect x="169.0" y="604.7" width="18.0" height="2.6" rx="1.3" fill="#2e2e2c" transform="rotate(-1 178.0 606.0)"/>
<rect x="193.0" y="603.0" width="21.0" height="3.2" rx="1.6" fill="#282826" transform="rotate(-1 203.5 604.6)"/>
</g>
<text transform="translate(269.6,424.4) scale(1.2,1)" font-size="14" font-weight="bold">F</text>
<path d="M303.7 424.6 H302.7 V587.8 H498.5" stroke="#000" stroke-width="1.2" fill="none"/>
<line x1="302.7" y1="587.8" x2="304.5" y2="587.8" stroke="#000" stroke-width="1"/>
<line x1="302.7" y1="567.4" x2="304.5" y2="567.4" stroke="#000" stroke-width="1"/>
<line x1="302.7" y1="547.0" x2="304.5" y2="547.0" stroke="#000" stroke-width="1"/>
<line x1="302.7" y1="526.6" x2="304.5" y2="526.6" stroke="#000" stroke-width="1"/>
<line x1="302.7" y1="506.2" x2="304.5" y2="506.2" stroke="#000" stroke-width="1"/>
<line x1="302.7" y1="485.8" x2="304.5" y2="485.8" stroke="#000" stroke-width="1"/>
<line x1="302.7" y1="465.4" x2="304.5" y2="465.4" stroke="#000" stroke-width="1"/>
<line x1="302.7" y1="445.0" x2="304.5" y2="445.0" stroke="#000" stroke-width="1"/>
<line x1="302.7" y1="424.6" x2="304.5" y2="424.6" stroke="#000" stroke-width="1"/>
<text x="297.7" y="590.8" font-size="8.5" text-anchor="end" font-weight="bold" >0</text>
<text x="297.7" y="550.0" font-size="8.5" text-anchor="end" font-weight="bold" >10</text>
<text x="297.7" y="509.2" font-size="8.5" text-anchor="end" font-weight="bold" >20</text>
<text x="297.7" y="468.4" font-size="8.5" text-anchor="end" font-weight="bold" >30</text>
<text x="297.7" y="427.6" font-size="8.5" text-anchor="end" font-weight="bold" >40</text>
<line x1="321.6" y1="586.8" x2="321.6" y2="589.1999999999999" stroke="#000" stroke-width="1"/>
<line x1="341.2" y1="586.8" x2="341.2" y2="589.1999999999999" stroke="#000" stroke-width="1"/>
<line x1="360.9" y1="586.8" x2="360.9" y2="589.1999999999999" stroke="#000" stroke-width="1"/>
<line x1="380.6" y1="586.8" x2="380.6" y2="589.1999999999999" stroke="#000" stroke-width="1"/>
<line x1="400.2" y1="586.8" x2="400.2" y2="589.1999999999999" stroke="#000" stroke-width="1"/>
<line x1="419.9" y1="586.8" x2="419.9" y2="589.1999999999999" stroke="#000" stroke-width="1"/>
<line x1="439.5" y1="586.8" x2="439.5" y2="589.1999999999999" stroke="#000" stroke-width="1"/>
<line x1="459.1" y1="586.8" x2="459.1" y2="589.1999999999999" stroke="#000" stroke-width="1"/>
<line x1="478.8" y1="586.8" x2="478.8" y2="589.1999999999999" stroke="#000" stroke-width="1"/>
<line x1="498.5" y1="586.8" x2="498.5" y2="589.1999999999999" stroke="#000" stroke-width="1"/>
<text x="322.2" y="597.5" font-size="8.3" text-anchor="middle" font-weight="bold" >4</text>
<text x="361.5" y="597.5" font-size="8.3" text-anchor="middle" font-weight="bold" >5</text>
<text x="400.8" y="597.5" font-size="8.3" text-anchor="middle" font-weight="bold" >6</text>
<text x="440.1" y="597.5" font-size="8.3" text-anchor="middle" font-weight="bold" >7</text>
<text x="479.4" y="597.5" font-size="8.3" text-anchor="middle" font-weight="bold" >8</text>
<text x="329.8" y="608.8" font-size="11.84" text-anchor="start" font-weight="bold" >weeks from cell injection</text>
<text transform="translate(279.1,544.6) rotate(-90)" font-size="12.1" font-weight="bold">sIL6R (ng/ml)</text>
<text x="315.2" y="495.9" font-size="10.2" text-anchor="start" font-weight="bold" >Start</text>
<text x="315.4" y="507.6" font-size="10.3" text-anchor="start" font-weight="bold" >Treatment</text>
<line x1="321.8" y1="513" x2="321.8" y2="561" stroke="#000" stroke-width="1.3"/>
<path d="M318.9 560 L324.8 560 L321.8 569.6 Z" fill="#000"/>
<path d="M400.2 538.4 V510.7 M398.0 538.4 h4.4 M398.0 510.7 h4.4" stroke="#222" stroke-width="1" fill="none"/>
<path d="M439.5 521.7 V485.4 M437.3 521.7 h4.4 M437.3 485.4 h4.4" stroke="#222" stroke-width="1" fill="none"/>
<path d="M478.8 495.2 V446.2 M476.6 495.2 h4.4 M476.6 446.2 h4.4" stroke="#222" stroke-width="1" fill="none"/>
<path d="M400.2 567.4 V556.8 M398.0 567.4 h4.4 M398.0 556.8 h4.4" stroke="#222" stroke-width="1" fill="none"/>
<path d="M439.5 553.5 V539.7 M437.3 553.5 h4.4 M437.3 539.7 h4.4" stroke="#222" stroke-width="1" fill="none"/>
<path d="M478.8 533.9 V505.4 M476.6 533.9 h4.4 M476.6 505.4 h4.4" stroke="#222" stroke-width="1" fill="none"/>
<path d="M439.5 560.9 V551.1 M437.3 560.9 h4.4 M437.3 551.1 h4.4" stroke="#222" stroke-width="1" fill="none"/>
<path d="M478.8 544.6 V526.6 M476.6 544.6 h4.4 M476.6 526.6 h4.4" stroke="#222" stroke-width="1" fill="none"/>
<polyline points="321.6,583.7 360.9,582.5 400.2,565.4 439.5,556.4 478.8,535.2" fill="none" stroke="#000" stroke-width="1.3"/>
<polyline points="321.6,580.5 360.9,567.0 400.2,561.7 439.5,547.0 478.8,518.4" fill="none" stroke="#000" stroke-width="1.3"/>
<polyline points="321.6,580.0 360.9,569.0 400.2,524.2 439.5,502.9 478.8,469.9" fill="none" stroke="#000" stroke-width="1.3"/>
<circle cx="321.6" cy="580.0" r="3.8" fill="#000"/>
<circle cx="360.9" cy="569.0" r="3.8" fill="#000"/>
<circle cx="400.2" cy="524.2" r="3.8" fill="#000"/>
<circle cx="439.5" cy="502.9" r="3.8" fill="#000"/>
<circle cx="478.8" cy="469.9" r="3.8" fill="#000"/>
<rect x="318.5" y="577.4" width="6.2" height="6.2" fill="#fff" stroke="#000" stroke-width="0.9"/>
<rect x="357.8" y="563.9" width="6.2" height="6.2" fill="#fff" stroke="#000" stroke-width="0.9"/>
<rect x="397.1" y="558.6" width="6.2" height="6.2" fill="#fff" stroke="#000" stroke-width="0.9"/>
<rect x="436.4" y="543.9" width="6.2" height="6.2" fill="#fff" stroke="#000" stroke-width="0.9"/>
<rect x="475.7" y="515.3" width="6.2" height="6.2" fill="#fff" stroke="#000" stroke-width="0.9"/>
<path d="M321.6 579.4 L325.2 587.4 L318.0 587.4Z" fill="#fff" stroke="#000" stroke-width="0.9"/>
<path d="M360.9 578.2 L364.5 586.2 L357.3 586.2Z" fill="#fff" stroke="#000" stroke-width="0.9"/>
<path d="M400.2 561.1 L403.8 569.1 L396.6 569.1Z" fill="#fff" stroke="#000" stroke-width="0.9"/>
<path d="M439.5 552.1 L443.1 560.1 L435.9 560.1Z" fill="#fff" stroke="#000" stroke-width="0.9"/>
<path d="M478.8 530.9 L482.4 538.9 L475.2 538.9Z" fill="#fff" stroke="#000" stroke-width="0.9"/>
<rect x="0.5" y="0.5" width="519" height="627" fill="none" stroke="#000" stroke-width="1"/>
</svg>
</body></html>
